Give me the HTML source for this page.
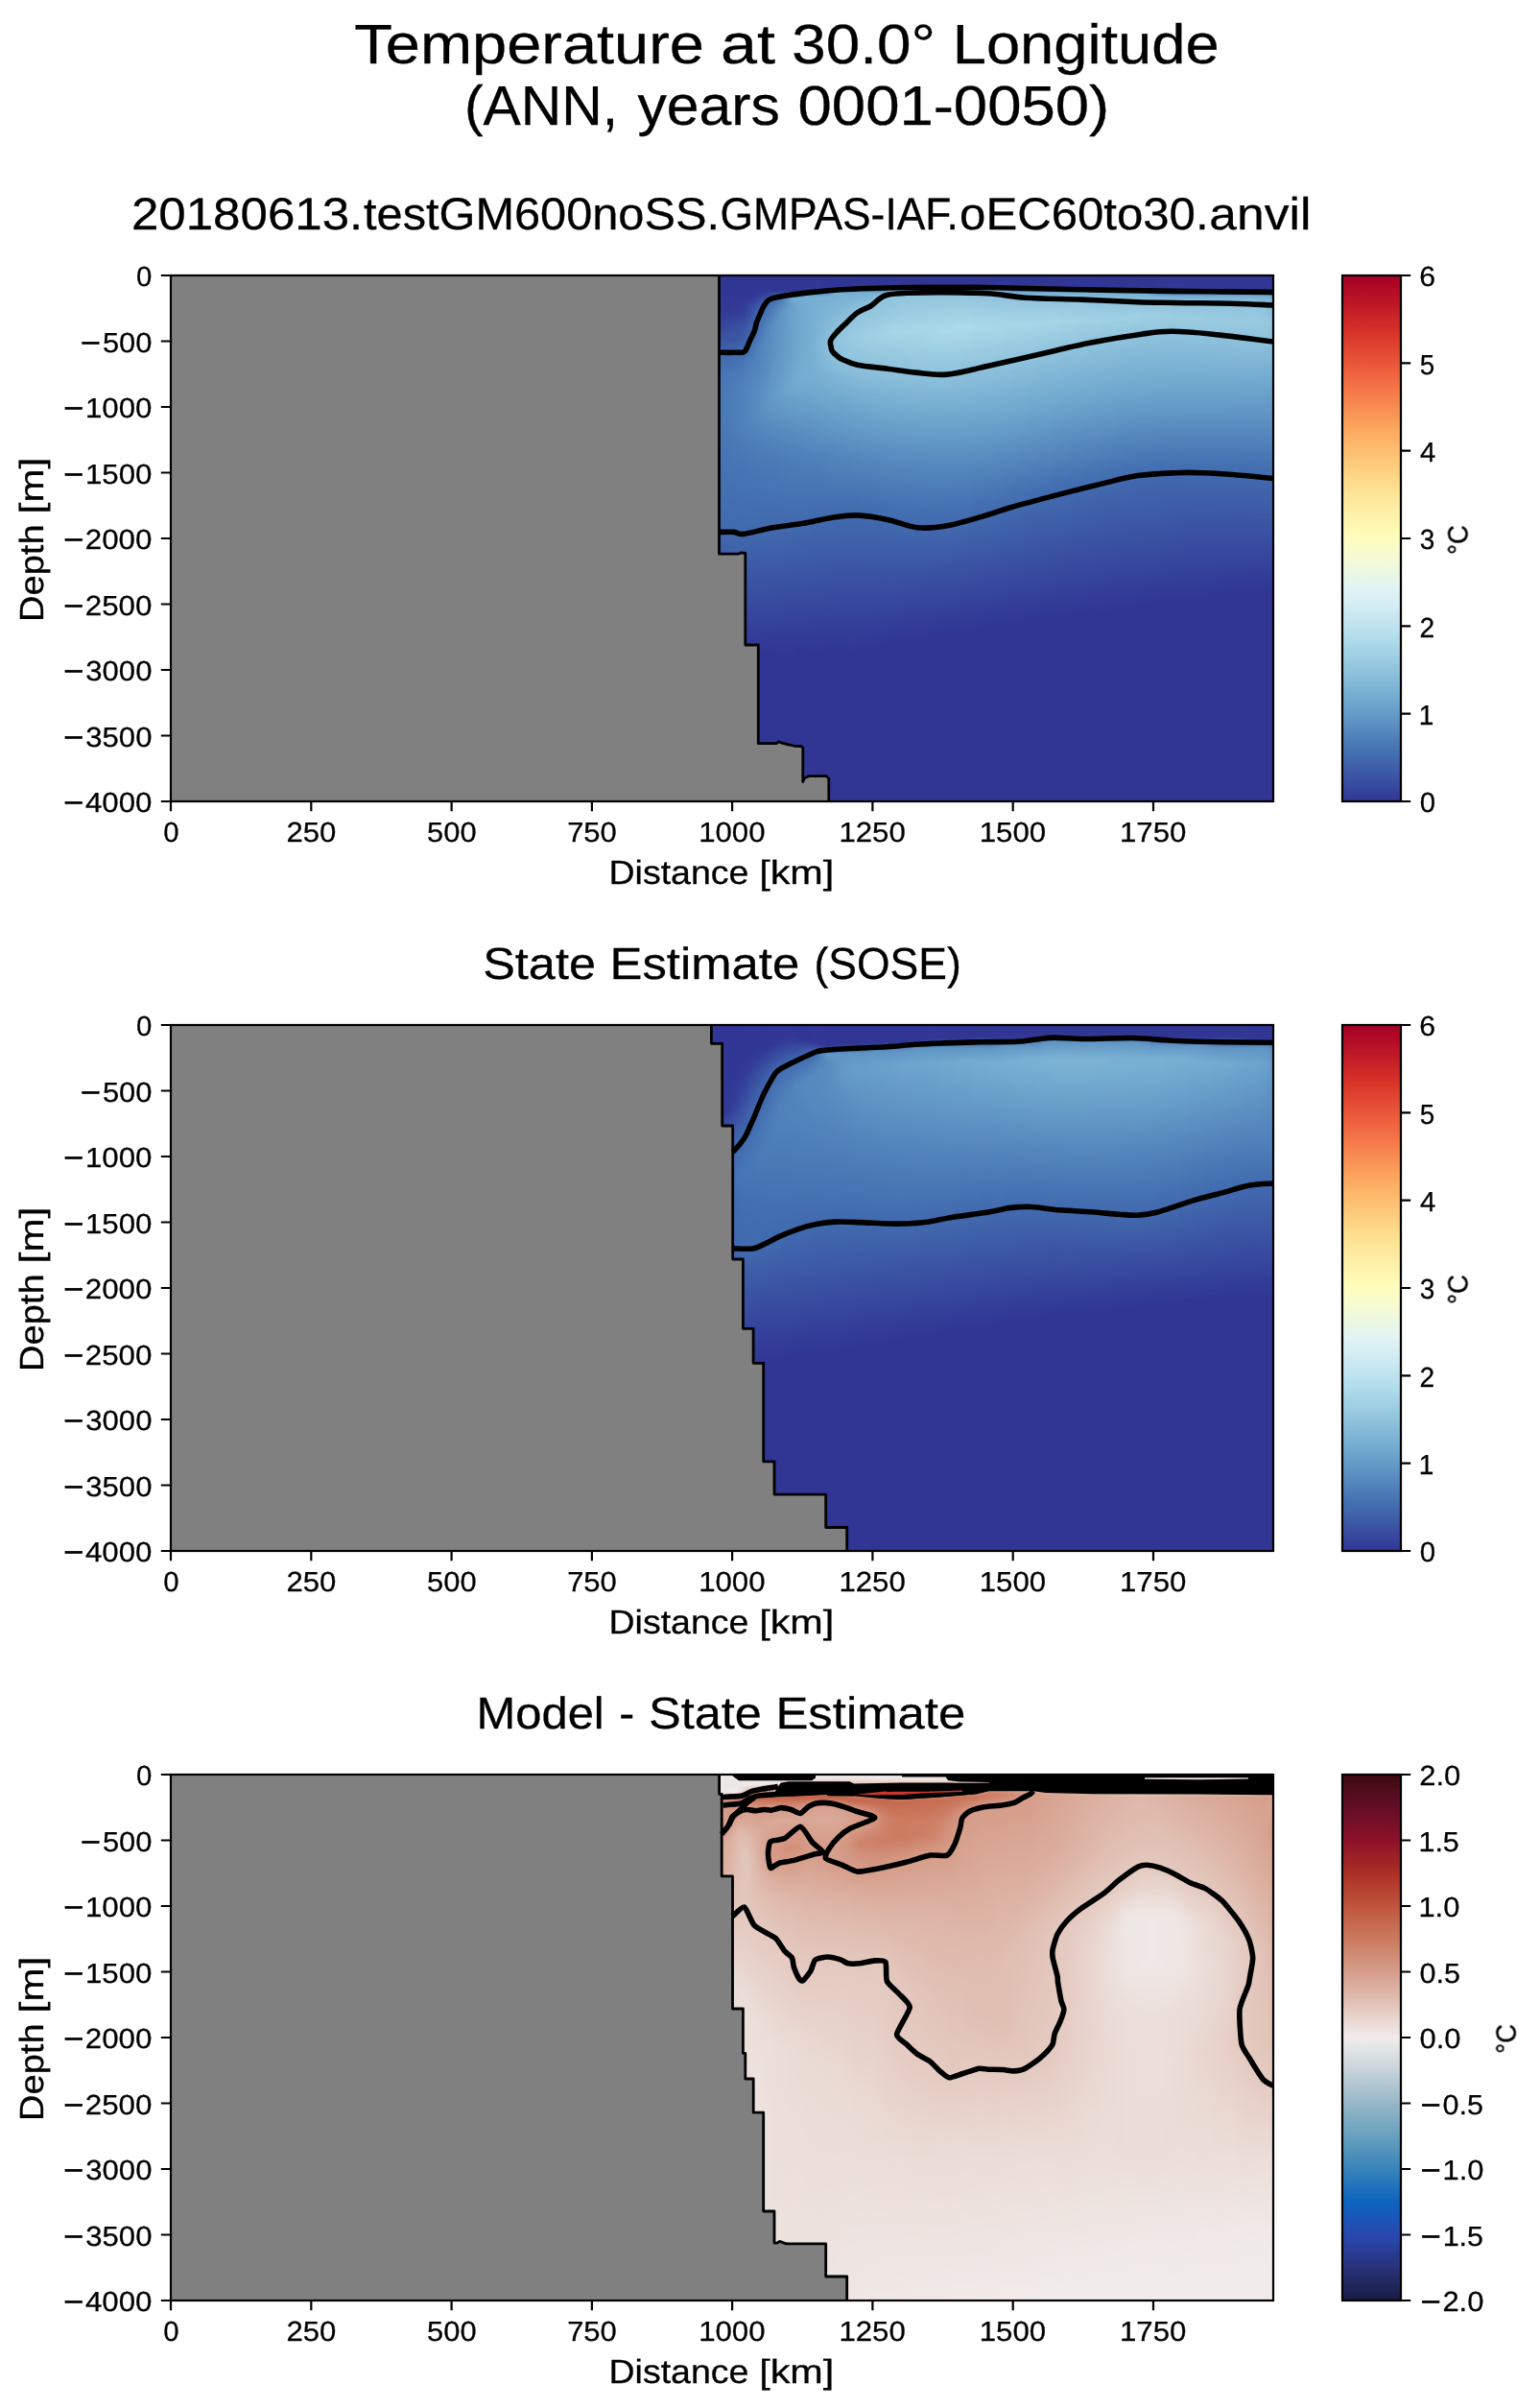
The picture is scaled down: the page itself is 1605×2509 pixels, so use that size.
<!DOCTYPE html>
<html><head><meta charset="utf-8"><title>Temperature at 30.0° Longitude</title><style>html,body{margin:0;padding:0;background:#fff}svg{display:block}text{font-family:"Liberation Sans",sans-serif}</style></head>
<body>
<svg width="1605" height="2509" viewBox="0 0 1605 2509"><defs><filter id="hb" x="-2%" y="0" width="104%" height="100%" color-interpolation-filters="sRGB"><feGaussianBlur stdDeviation="3.5 0"/></filter><clipPath id="clip0"><rect x="178.0" y="287.0" width="1149.0" height="548.0"/></clipPath><linearGradient id="g0_0" x1="0" y1="0" x2="0" y2="1"><stop offset="0.0000" stop-color="#313695"/><stop offset="0.0766" stop-color="#323896"/><stop offset="0.1131" stop-color="#394fa1"/><stop offset="0.1533" stop-color="#4065ac"/><stop offset="0.2080" stop-color="#4574b3"/><stop offset="0.2774" stop-color="#4878b6"/><stop offset="0.3613" stop-color="#4574b3"/><stop offset="0.3832" stop-color="#4471b2"/><stop offset="0.4234" stop-color="#436fb1"/><stop offset="0.4453" stop-color="#426cb0"/><stop offset="0.5620" stop-color="#3c59a6"/><stop offset="0.6277" stop-color="#374a9f"/><stop offset="0.7263" stop-color="#313695"/><stop offset="1.0000" stop-color="#313695"/></linearGradient><linearGradient id="g0_1" x1="0" y1="0" x2="0" y2="1"><stop offset="0.0000" stop-color="#313695"/><stop offset="0.0730" stop-color="#323896"/><stop offset="0.1460" stop-color="#3f62ab"/><stop offset="0.1898" stop-color="#4471b2"/><stop offset="0.2482" stop-color="#4878b6"/><stop offset="0.3613" stop-color="#4574b3"/><stop offset="0.3832" stop-color="#4471b2"/><stop offset="0.4234" stop-color="#436fb1"/><stop offset="0.4453" stop-color="#426cb0"/><stop offset="0.5146" stop-color="#3f62ab"/><stop offset="0.6971" stop-color="#333b97"/><stop offset="0.7409" stop-color="#313695"/><stop offset="1.0000" stop-color="#313695"/></linearGradient><linearGradient id="g0_2" x1="0" y1="0" x2="0" y2="1"><stop offset="0.0000" stop-color="#313695"/><stop offset="0.0730" stop-color="#323896"/><stop offset="0.1387" stop-color="#3e60aa"/><stop offset="0.1971" stop-color="#4574b3"/><stop offset="0.2628" stop-color="#4878b6"/><stop offset="0.3613" stop-color="#4574b3"/><stop offset="0.3832" stop-color="#4471b2"/><stop offset="0.4270" stop-color="#436fb1"/><stop offset="0.4489" stop-color="#426cb0"/><stop offset="0.5146" stop-color="#3f62ab"/><stop offset="0.6971" stop-color="#333b97"/><stop offset="0.7336" stop-color="#313695"/><stop offset="1.0000" stop-color="#313695"/></linearGradient><linearGradient id="g0_3" x1="0" y1="0" x2="0" y2="1"><stop offset="0.0000" stop-color="#313695"/><stop offset="0.0693" stop-color="#323896"/><stop offset="0.1606" stop-color="#426cb0"/><stop offset="0.1971" stop-color="#4676b5"/><stop offset="0.2591" stop-color="#4a7ab7"/><stop offset="0.3613" stop-color="#4574b3"/><stop offset="0.3832" stop-color="#4471b2"/><stop offset="0.4270" stop-color="#436fb1"/><stop offset="0.4489" stop-color="#426cb0"/><stop offset="0.5073" stop-color="#4065ac"/><stop offset="0.6277" stop-color="#374a9f"/><stop offset="0.7226" stop-color="#313695"/><stop offset="1.0000" stop-color="#313695"/></linearGradient><linearGradient id="g0_4" x1="0" y1="0" x2="0" y2="1"><stop offset="0.0000" stop-color="#313695"/><stop offset="0.0657" stop-color="#323896"/><stop offset="0.1241" stop-color="#3b56a5"/><stop offset="0.1496" stop-color="#416aaf"/><stop offset="0.1861" stop-color="#4676b5"/><stop offset="0.2628" stop-color="#4a7ab7"/><stop offset="0.3577" stop-color="#4574b3"/><stop offset="0.4307" stop-color="#436fb1"/><stop offset="0.4526" stop-color="#426cb0"/><stop offset="0.4891" stop-color="#416aaf"/><stop offset="0.5255" stop-color="#3e60aa"/><stop offset="0.6277" stop-color="#374a9f"/><stop offset="0.7190" stop-color="#313695"/><stop offset="1.0000" stop-color="#313695"/></linearGradient><linearGradient id="g0_5" x1="0" y1="0" x2="0" y2="1"><stop offset="0.0000" stop-color="#313695"/><stop offset="0.0657" stop-color="#323896"/><stop offset="0.1095" stop-color="#3a51a2"/><stop offset="0.1241" stop-color="#3b56a5"/><stop offset="0.1533" stop-color="#426cb0"/><stop offset="0.1861" stop-color="#4878b6"/><stop offset="0.2445" stop-color="#4b7db8"/><stop offset="0.2701" stop-color="#4b7db8"/><stop offset="0.3066" stop-color="#4878b6"/><stop offset="0.3723" stop-color="#4574b3"/><stop offset="0.3942" stop-color="#4471b2"/><stop offset="0.4343" stop-color="#436fb1"/><stop offset="0.4562" stop-color="#426cb0"/><stop offset="0.5000" stop-color="#4167ad"/><stop offset="0.5365" stop-color="#3e5ea8"/><stop offset="0.6496" stop-color="#36459c"/><stop offset="0.7226" stop-color="#313695"/><stop offset="1.0000" stop-color="#313695"/></linearGradient><linearGradient id="g0_6" x1="0" y1="0" x2="0" y2="1"><stop offset="0.0000" stop-color="#313695"/><stop offset="0.0620" stop-color="#323896"/><stop offset="0.1058" stop-color="#3a51a2"/><stop offset="0.1204" stop-color="#3a54a4"/><stop offset="0.1606" stop-color="#4471b2"/><stop offset="0.2044" stop-color="#4b7db8"/><stop offset="0.2920" stop-color="#4b7db8"/><stop offset="0.3285" stop-color="#4878b6"/><stop offset="0.3832" stop-color="#4574b3"/><stop offset="0.4051" stop-color="#4471b2"/><stop offset="0.4891" stop-color="#416aaf"/><stop offset="0.6496" stop-color="#36459c"/><stop offset="0.7226" stop-color="#313695"/><stop offset="1.0000" stop-color="#313695"/></linearGradient><linearGradient id="g0_7" x1="0" y1="0" x2="0" y2="1"><stop offset="0.0000" stop-color="#313695"/><stop offset="0.0547" stop-color="#323896"/><stop offset="0.0803" stop-color="#35429b"/><stop offset="0.1022" stop-color="#3a54a4"/><stop offset="0.1204" stop-color="#3a54a4"/><stop offset="0.1314" stop-color="#3e60aa"/><stop offset="0.1496" stop-color="#416aaf"/><stop offset="0.1642" stop-color="#4574b3"/><stop offset="0.2007" stop-color="#4d7fb9"/><stop offset="0.2920" stop-color="#4d7fb9"/><stop offset="0.3577" stop-color="#4676b5"/><stop offset="0.4380" stop-color="#436fb1"/><stop offset="0.4599" stop-color="#426cb0"/><stop offset="0.5000" stop-color="#4167ad"/><stop offset="0.6715" stop-color="#34409a"/><stop offset="0.7226" stop-color="#313695"/><stop offset="1.0000" stop-color="#313695"/></linearGradient><linearGradient id="g0_8" x1="0" y1="0" x2="0" y2="1"><stop offset="0.0000" stop-color="#313695"/><stop offset="0.0474" stop-color="#323896"/><stop offset="0.0657" stop-color="#35429b"/><stop offset="0.0766" stop-color="#34409a"/><stop offset="0.0912" stop-color="#3a54a4"/><stop offset="0.1204" stop-color="#3f62ab"/><stop offset="0.1496" stop-color="#436fb1"/><stop offset="0.1606" stop-color="#4878b6"/><stop offset="0.2153" stop-color="#5183bb"/><stop offset="0.2810" stop-color="#5183bb"/><stop offset="0.3613" stop-color="#4676b5"/><stop offset="0.4416" stop-color="#436fb1"/><stop offset="0.4635" stop-color="#426cb0"/><stop offset="0.5000" stop-color="#4167ad"/><stop offset="0.6715" stop-color="#34409a"/><stop offset="0.7226" stop-color="#313695"/><stop offset="1.0000" stop-color="#313695"/></linearGradient><linearGradient id="g0_9" x1="0" y1="0" x2="0" y2="1"><stop offset="0.0000" stop-color="#313695"/><stop offset="0.0401" stop-color="#313695"/><stop offset="0.0584" stop-color="#374a9f"/><stop offset="0.1095" stop-color="#4167ad"/><stop offset="0.1460" stop-color="#4878b6"/><stop offset="0.1752" stop-color="#4f81ba"/><stop offset="0.2263" stop-color="#5588be"/><stop offset="0.2701" stop-color="#5588be"/><stop offset="0.3504" stop-color="#4878b6"/><stop offset="0.4453" stop-color="#436fb1"/><stop offset="0.4818" stop-color="#416aaf"/><stop offset="0.6934" stop-color="#333b97"/><stop offset="0.7299" stop-color="#313695"/><stop offset="1.0000" stop-color="#313695"/></linearGradient><linearGradient id="g0_10" x1="0" y1="0" x2="0" y2="1"><stop offset="0.0000" stop-color="#313695"/><stop offset="0.0365" stop-color="#323896"/><stop offset="0.0620" stop-color="#3c59a6"/><stop offset="0.0876" stop-color="#416aaf"/><stop offset="0.1022" stop-color="#426cb0"/><stop offset="0.1277" stop-color="#4a7ab7"/><stop offset="0.1496" stop-color="#5183bb"/><stop offset="0.1788" stop-color="#5385bd"/><stop offset="0.2299" stop-color="#588cc0"/><stop offset="0.2737" stop-color="#578abf"/><stop offset="0.3285" stop-color="#4b7db8"/><stop offset="0.3796" stop-color="#4676b5"/><stop offset="0.4891" stop-color="#416aaf"/><stop offset="0.5255" stop-color="#3e60aa"/><stop offset="0.7153" stop-color="#313695"/><stop offset="1.0000" stop-color="#313695"/></linearGradient><linearGradient id="g0_11" x1="0" y1="0" x2="0" y2="1"><stop offset="0.0000" stop-color="#313695"/><stop offset="0.0328" stop-color="#323896"/><stop offset="0.0511" stop-color="#3d5ba7"/><stop offset="0.0620" stop-color="#416aaf"/><stop offset="0.1168" stop-color="#4f81ba"/><stop offset="0.1314" stop-color="#5588be"/><stop offset="0.1460" stop-color="#5385bd"/><stop offset="0.2263" stop-color="#5c90c2"/><stop offset="0.2518" stop-color="#5e93c3"/><stop offset="0.3139" stop-color="#4f81ba"/><stop offset="0.3650" stop-color="#4878b6"/><stop offset="0.4964" stop-color="#4167ad"/><stop offset="0.7153" stop-color="#313695"/><stop offset="1.0000" stop-color="#313695"/></linearGradient><linearGradient id="g0_12" x1="0" y1="0" x2="0" y2="1"><stop offset="0.0000" stop-color="#313695"/><stop offset="0.0292" stop-color="#313695"/><stop offset="0.0365" stop-color="#36479e"/><stop offset="0.0438" stop-color="#3e5ea8"/><stop offset="0.0547" stop-color="#436fb1"/><stop offset="0.0985" stop-color="#5588be"/><stop offset="0.1131" stop-color="#578abf"/><stop offset="0.1825" stop-color="#5c90c2"/><stop offset="0.2190" stop-color="#6095c4"/><stop offset="0.2518" stop-color="#6095c4"/><stop offset="0.3285" stop-color="#4d7fb9"/><stop offset="0.3686" stop-color="#4878b6"/><stop offset="0.4964" stop-color="#4167ad"/><stop offset="0.6241" stop-color="#374a9f"/><stop offset="0.7153" stop-color="#313695"/><stop offset="1.0000" stop-color="#313695"/></linearGradient><linearGradient id="g0_13" x1="0" y1="0" x2="0" y2="1"><stop offset="0.0000" stop-color="#313695"/><stop offset="0.0292" stop-color="#313695"/><stop offset="0.0438" stop-color="#416aaf"/><stop offset="0.0657" stop-color="#4f81ba"/><stop offset="0.0876" stop-color="#5c90c2"/><stop offset="0.1387" stop-color="#5c90c2"/><stop offset="0.1752" stop-color="#6095c4"/><stop offset="0.2336" stop-color="#659bc8"/><stop offset="0.3504" stop-color="#4a7ab7"/><stop offset="0.4453" stop-color="#436fb1"/><stop offset="0.5036" stop-color="#4065ac"/><stop offset="0.6460" stop-color="#36459c"/><stop offset="0.7190" stop-color="#313695"/><stop offset="1.0000" stop-color="#313695"/></linearGradient><linearGradient id="g0_14" x1="0" y1="0" x2="0" y2="1"><stop offset="0.0000" stop-color="#313695"/><stop offset="0.0292" stop-color="#323896"/><stop offset="0.0365" stop-color="#3e5ea8"/><stop offset="0.0401" stop-color="#426cb0"/><stop offset="0.0584" stop-color="#5588be"/><stop offset="0.0730" stop-color="#6095c4"/><stop offset="0.1715" stop-color="#6399c7"/><stop offset="0.2263" stop-color="#69a0ca"/><stop offset="0.2883" stop-color="#588cc0"/><stop offset="0.3577" stop-color="#4a7ab7"/><stop offset="0.5036" stop-color="#4065ac"/><stop offset="0.6679" stop-color="#34409a"/><stop offset="0.7190" stop-color="#313695"/><stop offset="1.0000" stop-color="#313695"/></linearGradient><linearGradient id="g0_15" x1="0" y1="0" x2="0" y2="1"><stop offset="0.0000" stop-color="#313695"/><stop offset="0.0292" stop-color="#313695"/><stop offset="0.0328" stop-color="#333d99"/><stop offset="0.0401" stop-color="#4574b3"/><stop offset="0.0438" stop-color="#578abf"/><stop offset="0.0657" stop-color="#6399c7"/><stop offset="0.1423" stop-color="#659bc8"/><stop offset="0.1788" stop-color="#69a0ca"/><stop offset="0.2190" stop-color="#6da4cc"/><stop offset="0.3394" stop-color="#4d7fb9"/><stop offset="0.4745" stop-color="#416aaf"/><stop offset="0.6898" stop-color="#333b97"/><stop offset="0.7263" stop-color="#313695"/><stop offset="1.0000" stop-color="#313695"/></linearGradient><linearGradient id="g0_16" x1="0" y1="0" x2="0" y2="1"><stop offset="0.0000" stop-color="#313695"/><stop offset="0.0328" stop-color="#313695"/><stop offset="0.0365" stop-color="#3a51a2"/><stop offset="0.0401" stop-color="#5183bb"/><stop offset="0.0438" stop-color="#76afd2"/><stop offset="0.0547" stop-color="#6ba2cb"/><stop offset="0.1606" stop-color="#6ba2cb"/><stop offset="0.2080" stop-color="#70a9cf"/><stop offset="0.3029" stop-color="#578abf"/><stop offset="0.3577" stop-color="#4b7db8"/><stop offset="0.4745" stop-color="#416aaf"/><stop offset="0.5985" stop-color="#394fa1"/><stop offset="0.6898" stop-color="#333b97"/><stop offset="0.7263" stop-color="#313695"/><stop offset="1.0000" stop-color="#313695"/></linearGradient><linearGradient id="g0_17" x1="0" y1="0" x2="0" y2="1"><stop offset="0.0000" stop-color="#313695"/><stop offset="0.0328" stop-color="#313695"/><stop offset="0.0365" stop-color="#3e60aa"/><stop offset="0.0401" stop-color="#5a8ec1"/><stop offset="0.0438" stop-color="#76afd2"/><stop offset="0.0620" stop-color="#6da4cc"/><stop offset="0.1569" stop-color="#6ea6ce"/><stop offset="0.1971" stop-color="#74add1"/><stop offset="0.3467" stop-color="#4d7fb9"/><stop offset="0.4453" stop-color="#436fb1"/><stop offset="0.5985" stop-color="#394fa1"/><stop offset="0.7117" stop-color="#313695"/><stop offset="1.0000" stop-color="#313695"/></linearGradient><linearGradient id="g0_18" x1="0" y1="0" x2="0" y2="1"><stop offset="0.0000" stop-color="#313695"/><stop offset="0.0292" stop-color="#313695"/><stop offset="0.0328" stop-color="#3b56a5"/><stop offset="0.0365" stop-color="#5e93c3"/><stop offset="0.0401" stop-color="#74add1"/><stop offset="0.1058" stop-color="#70a9cf"/><stop offset="0.1825" stop-color="#76afd2"/><stop offset="0.2007" stop-color="#74add1"/><stop offset="0.3175" stop-color="#5588be"/><stop offset="0.3650" stop-color="#4b7db8"/><stop offset="0.4964" stop-color="#4065ac"/><stop offset="0.6423" stop-color="#36459c"/><stop offset="0.7153" stop-color="#313695"/><stop offset="1.0000" stop-color="#313695"/></linearGradient><linearGradient id="g0_19" x1="0" y1="0" x2="0" y2="1"><stop offset="0.0000" stop-color="#313695"/><stop offset="0.0292" stop-color="#323896"/><stop offset="0.0328" stop-color="#416aaf"/><stop offset="0.0365" stop-color="#6297c6"/><stop offset="0.0401" stop-color="#76afd2"/><stop offset="0.2007" stop-color="#74add1"/><stop offset="0.3540" stop-color="#4d7fb9"/><stop offset="0.4708" stop-color="#416aaf"/><stop offset="0.6423" stop-color="#36459c"/><stop offset="0.7153" stop-color="#313695"/><stop offset="1.0000" stop-color="#313695"/></linearGradient><linearGradient id="g0_20" x1="0" y1="0" x2="0" y2="1"><stop offset="0.0000" stop-color="#313695"/><stop offset="0.0292" stop-color="#323896"/><stop offset="0.0328" stop-color="#416aaf"/><stop offset="0.0365" stop-color="#6297c6"/><stop offset="0.0401" stop-color="#76afd2"/><stop offset="0.1168" stop-color="#7ab2d4"/><stop offset="0.1387" stop-color="#7db4d5"/><stop offset="0.2044" stop-color="#74add1"/><stop offset="0.3577" stop-color="#4d7fb9"/><stop offset="0.4745" stop-color="#4167ad"/><stop offset="0.5511" stop-color="#3c59a6"/><stop offset="0.6642" stop-color="#34409a"/><stop offset="0.7153" stop-color="#313695"/><stop offset="1.0000" stop-color="#313695"/></linearGradient><linearGradient id="g0_21" x1="0" y1="0" x2="0" y2="1"><stop offset="0.0000" stop-color="#313695"/><stop offset="0.0292" stop-color="#323896"/><stop offset="0.0328" stop-color="#426cb0"/><stop offset="0.0365" stop-color="#6399c7"/><stop offset="0.0401" stop-color="#76afd2"/><stop offset="0.1277" stop-color="#81b7d7"/><stop offset="0.1642" stop-color="#7fb6d6"/><stop offset="0.2263" stop-color="#70a9cf"/><stop offset="0.3504" stop-color="#4f81ba"/><stop offset="0.4526" stop-color="#426cb0"/><stop offset="0.5730" stop-color="#3a54a4"/><stop offset="0.6861" stop-color="#333b97"/><stop offset="0.7226" stop-color="#313695"/><stop offset="1.0000" stop-color="#313695"/></linearGradient><linearGradient id="g0_22" x1="0" y1="0" x2="0" y2="1"><stop offset="0.0000" stop-color="#313695"/><stop offset="0.0255" stop-color="#313695"/><stop offset="0.0292" stop-color="#34409a"/><stop offset="0.0328" stop-color="#4b7db8"/><stop offset="0.0365" stop-color="#679ec9"/><stop offset="0.0401" stop-color="#76afd2"/><stop offset="0.1241" stop-color="#87bdd9"/><stop offset="0.1642" stop-color="#83b9d8"/><stop offset="0.2555" stop-color="#69a0ca"/><stop offset="0.3540" stop-color="#4f81ba"/><stop offset="0.4307" stop-color="#4471b2"/><stop offset="0.5949" stop-color="#394fa1"/><stop offset="0.7080" stop-color="#313695"/><stop offset="1.0000" stop-color="#313695"/></linearGradient><linearGradient id="g0_23" x1="0" y1="0" x2="0" y2="1"><stop offset="0.0000" stop-color="#313695"/><stop offset="0.0219" stop-color="#313695"/><stop offset="0.0255" stop-color="#394fa1"/><stop offset="0.0292" stop-color="#4d7fb9"/><stop offset="0.0328" stop-color="#76afd2"/><stop offset="0.1022" stop-color="#8abeda"/><stop offset="0.1241" stop-color="#90c3dd"/><stop offset="0.1496" stop-color="#8ec2dc"/><stop offset="0.1788" stop-color="#81b7d7"/><stop offset="0.2336" stop-color="#70a9cf"/><stop offset="0.3321" stop-color="#5588be"/><stop offset="0.4343" stop-color="#436fb1"/><stop offset="0.5730" stop-color="#3a54a4"/><stop offset="0.6387" stop-color="#36459c"/><stop offset="0.7117" stop-color="#313695"/><stop offset="1.0000" stop-color="#313695"/></linearGradient><linearGradient id="g0_24" x1="0" y1="0" x2="0" y2="1"><stop offset="0.0000" stop-color="#313695"/><stop offset="0.0219" stop-color="#313695"/><stop offset="0.0255" stop-color="#3a51a2"/><stop offset="0.0292" stop-color="#4f81ba"/><stop offset="0.0328" stop-color="#76afd2"/><stop offset="0.1095" stop-color="#90c3dd"/><stop offset="0.1569" stop-color="#8ec2dc"/><stop offset="0.2409" stop-color="#6ea6ce"/><stop offset="0.3613" stop-color="#4f81ba"/><stop offset="0.4416" stop-color="#436fb1"/><stop offset="0.4854" stop-color="#4065ac"/><stop offset="0.6387" stop-color="#36459c"/><stop offset="0.7117" stop-color="#313695"/><stop offset="1.0000" stop-color="#313695"/></linearGradient><linearGradient id="g0_25" x1="0" y1="0" x2="0" y2="1"><stop offset="0.0000" stop-color="#313695"/><stop offset="0.0219" stop-color="#313695"/><stop offset="0.0255" stop-color="#3a51a2"/><stop offset="0.0292" stop-color="#4f81ba"/><stop offset="0.0328" stop-color="#76afd2"/><stop offset="0.0949" stop-color="#90c3dd"/><stop offset="0.1277" stop-color="#92c5de"/><stop offset="0.1679" stop-color="#8cc0db"/><stop offset="0.2372" stop-color="#70a9cf"/><stop offset="0.3540" stop-color="#5183bb"/><stop offset="0.4489" stop-color="#426cb0"/><stop offset="0.5693" stop-color="#3a54a4"/><stop offset="0.6606" stop-color="#34409a"/><stop offset="0.7117" stop-color="#313695"/><stop offset="1.0000" stop-color="#313695"/></linearGradient><linearGradient id="g0_26" x1="0" y1="0" x2="0" y2="1"><stop offset="0.0000" stop-color="#313695"/><stop offset="0.0219" stop-color="#313695"/><stop offset="0.0255" stop-color="#3a51a2"/><stop offset="0.0292" stop-color="#4f81ba"/><stop offset="0.0328" stop-color="#76afd2"/><stop offset="0.0839" stop-color="#90c3dd"/><stop offset="0.1168" stop-color="#99cae1"/><stop offset="0.1241" stop-color="#99cae1"/><stop offset="0.1606" stop-color="#90c3dd"/><stop offset="0.2409" stop-color="#70a9cf"/><stop offset="0.3577" stop-color="#5183bb"/><stop offset="0.4453" stop-color="#426cb0"/><stop offset="0.5474" stop-color="#3c59a6"/><stop offset="0.5912" stop-color="#394fa1"/><stop offset="0.6825" stop-color="#333b97"/><stop offset="0.7190" stop-color="#313695"/><stop offset="1.0000" stop-color="#313695"/></linearGradient><linearGradient id="g0_27" x1="0" y1="0" x2="0" y2="1"><stop offset="0.0000" stop-color="#313695"/><stop offset="0.0219" stop-color="#313695"/><stop offset="0.0255" stop-color="#3a51a2"/><stop offset="0.0292" stop-color="#4f81ba"/><stop offset="0.0328" stop-color="#76afd2"/><stop offset="0.0730" stop-color="#90c3dd"/><stop offset="0.0985" stop-color="#94c7df"/><stop offset="0.1168" stop-color="#9bcce2"/><stop offset="0.1752" stop-color="#8cc0db"/><stop offset="0.2445" stop-color="#70a9cf"/><stop offset="0.3431" stop-color="#5588be"/><stop offset="0.4343" stop-color="#436fb1"/><stop offset="0.5912" stop-color="#394fa1"/><stop offset="0.6825" stop-color="#333b97"/><stop offset="0.7190" stop-color="#313695"/><stop offset="1.0000" stop-color="#313695"/></linearGradient><linearGradient id="g0_28" x1="0" y1="0" x2="0" y2="1"><stop offset="0.0000" stop-color="#313695"/><stop offset="0.0219" stop-color="#313695"/><stop offset="0.0255" stop-color="#3a51a2"/><stop offset="0.0292" stop-color="#4f81ba"/><stop offset="0.0328" stop-color="#76afd2"/><stop offset="0.0657" stop-color="#90c3dd"/><stop offset="0.0949" stop-color="#97c9e0"/><stop offset="0.1168" stop-color="#9dcee3"/><stop offset="0.1825" stop-color="#8abeda"/><stop offset="0.2555" stop-color="#6ea6ce"/><stop offset="0.3613" stop-color="#5183bb"/><stop offset="0.4562" stop-color="#416aaf"/><stop offset="0.5693" stop-color="#3a54a4"/><stop offset="0.6350" stop-color="#36459c"/><stop offset="0.7080" stop-color="#313695"/><stop offset="1.0000" stop-color="#313695"/></linearGradient><linearGradient id="g0_29" x1="0" y1="0" x2="0" y2="1"><stop offset="0.0000" stop-color="#313695"/><stop offset="0.0219" stop-color="#313695"/><stop offset="0.0255" stop-color="#3a51a2"/><stop offset="0.0292" stop-color="#4f81ba"/><stop offset="0.0328" stop-color="#76afd2"/><stop offset="0.0620" stop-color="#90c3dd"/><stop offset="0.0876" stop-color="#97c9e0"/><stop offset="0.1131" stop-color="#9fd0e4"/><stop offset="0.1861" stop-color="#8abeda"/><stop offset="0.2555" stop-color="#6ea6ce"/><stop offset="0.3723" stop-color="#4f81ba"/><stop offset="0.4416" stop-color="#436fb1"/><stop offset="0.4854" stop-color="#4065ac"/><stop offset="0.6569" stop-color="#34409a"/><stop offset="0.7080" stop-color="#313695"/><stop offset="1.0000" stop-color="#313695"/></linearGradient><linearGradient id="g0_30" x1="0" y1="0" x2="0" y2="1"><stop offset="0.0000" stop-color="#313695"/><stop offset="0.0219" stop-color="#313695"/><stop offset="0.0255" stop-color="#3a51a2"/><stop offset="0.0292" stop-color="#4f81ba"/><stop offset="0.0328" stop-color="#76afd2"/><stop offset="0.0511" stop-color="#8cc0db"/><stop offset="0.0584" stop-color="#90c3dd"/><stop offset="0.1131" stop-color="#9fd0e4"/><stop offset="0.1825" stop-color="#8cc0db"/><stop offset="0.2518" stop-color="#70a9cf"/><stop offset="0.3577" stop-color="#5385bd"/><stop offset="0.4489" stop-color="#426cb0"/><stop offset="0.5912" stop-color="#394fa1"/><stop offset="0.6788" stop-color="#333b97"/><stop offset="0.7153" stop-color="#313695"/><stop offset="1.0000" stop-color="#313695"/></linearGradient><linearGradient id="g0_31" x1="0" y1="0" x2="0" y2="1"><stop offset="0.0000" stop-color="#313695"/><stop offset="0.0219" stop-color="#313695"/><stop offset="0.0255" stop-color="#3a51a2"/><stop offset="0.0292" stop-color="#4f81ba"/><stop offset="0.0328" stop-color="#76afd2"/><stop offset="0.0438" stop-color="#90c3dd"/><stop offset="0.0693" stop-color="#94c7df"/><stop offset="0.1131" stop-color="#a1d1e5"/><stop offset="0.1825" stop-color="#8cc0db"/><stop offset="0.2555" stop-color="#70a9cf"/><stop offset="0.3431" stop-color="#578abf"/><stop offset="0.4416" stop-color="#436fb1"/><stop offset="0.4854" stop-color="#4065ac"/><stop offset="0.7007" stop-color="#313695"/><stop offset="1.0000" stop-color="#313695"/></linearGradient><linearGradient id="g0_32" x1="0" y1="0" x2="0" y2="1"><stop offset="0.0000" stop-color="#313695"/><stop offset="0.0219" stop-color="#313695"/><stop offset="0.0255" stop-color="#3b56a5"/><stop offset="0.0292" stop-color="#5385bd"/><stop offset="0.0328" stop-color="#76afd2"/><stop offset="0.0365" stop-color="#87bdd9"/><stop offset="0.0401" stop-color="#90c3dd"/><stop offset="0.0657" stop-color="#94c7df"/><stop offset="0.1095" stop-color="#a3d3e6"/><stop offset="0.1898" stop-color="#8abeda"/><stop offset="0.2628" stop-color="#6ea6ce"/><stop offset="0.3613" stop-color="#5385bd"/><stop offset="0.4416" stop-color="#436fb1"/><stop offset="0.6533" stop-color="#34409a"/><stop offset="0.7044" stop-color="#313695"/><stop offset="1.0000" stop-color="#313695"/></linearGradient><linearGradient id="g0_33" x1="0" y1="0" x2="0" y2="1"><stop offset="0.0000" stop-color="#313695"/><stop offset="0.0182" stop-color="#313695"/><stop offset="0.0219" stop-color="#3a51a2"/><stop offset="0.0255" stop-color="#5c90c2"/><stop offset="0.0292" stop-color="#78b0d3"/><stop offset="0.0401" stop-color="#90c3dd"/><stop offset="0.0730" stop-color="#99cae1"/><stop offset="0.1095" stop-color="#a3d3e6"/><stop offset="0.1934" stop-color="#8abeda"/><stop offset="0.2591" stop-color="#70a9cf"/><stop offset="0.3467" stop-color="#578abf"/><stop offset="0.4380" stop-color="#4471b2"/><stop offset="0.4891" stop-color="#4065ac"/><stop offset="0.6971" stop-color="#313695"/><stop offset="1.0000" stop-color="#313695"/></linearGradient><linearGradient id="g0_34" x1="0" y1="0" x2="0" y2="1"><stop offset="0.0000" stop-color="#313695"/><stop offset="0.0182" stop-color="#313695"/><stop offset="0.0219" stop-color="#3f62ab"/><stop offset="0.0255" stop-color="#6095c4"/><stop offset="0.0292" stop-color="#7fb6d6"/><stop offset="0.0328" stop-color="#90c3dd"/><stop offset="0.0584" stop-color="#94c7df"/><stop offset="0.1058" stop-color="#a6d5e7"/><stop offset="0.1934" stop-color="#8abeda"/><stop offset="0.2664" stop-color="#6ea6ce"/><stop offset="0.3723" stop-color="#5183bb"/><stop offset="0.4489" stop-color="#436fb1"/><stop offset="0.6971" stop-color="#313695"/><stop offset="1.0000" stop-color="#313695"/></linearGradient><linearGradient id="g0_35" x1="0" y1="0" x2="0" y2="1"><stop offset="0.0000" stop-color="#313695"/><stop offset="0.0182" stop-color="#313695"/><stop offset="0.0219" stop-color="#3f62ab"/><stop offset="0.0255" stop-color="#6095c4"/><stop offset="0.0292" stop-color="#7fb6d6"/><stop offset="0.0328" stop-color="#90c3dd"/><stop offset="0.0657" stop-color="#99cae1"/><stop offset="0.1058" stop-color="#a6d5e7"/><stop offset="0.2007" stop-color="#87bdd9"/><stop offset="0.2737" stop-color="#6da4cc"/><stop offset="0.3577" stop-color="#5588be"/><stop offset="0.4489" stop-color="#436fb1"/><stop offset="0.6277" stop-color="#36459c"/><stop offset="0.6934" stop-color="#313695"/><stop offset="1.0000" stop-color="#313695"/></linearGradient><linearGradient id="g0_36" x1="0" y1="0" x2="0" y2="1"><stop offset="0.0000" stop-color="#313695"/><stop offset="0.0182" stop-color="#313695"/><stop offset="0.0219" stop-color="#3f62ab"/><stop offset="0.0255" stop-color="#6297c6"/><stop offset="0.0292" stop-color="#7fb6d6"/><stop offset="0.0328" stop-color="#90c3dd"/><stop offset="0.0949" stop-color="#a3d3e6"/><stop offset="0.1095" stop-color="#a6d5e7"/><stop offset="0.2007" stop-color="#87bdd9"/><stop offset="0.2628" stop-color="#70a9cf"/><stop offset="0.3504" stop-color="#578abf"/><stop offset="0.4489" stop-color="#436fb1"/><stop offset="0.6058" stop-color="#374a9f"/><stop offset="0.6934" stop-color="#313695"/><stop offset="1.0000" stop-color="#313695"/></linearGradient><linearGradient id="g0_37" x1="0" y1="0" x2="0" y2="1"><stop offset="0.0000" stop-color="#313695"/><stop offset="0.0182" stop-color="#313695"/><stop offset="0.0219" stop-color="#3f62ab"/><stop offset="0.0255" stop-color="#6095c4"/><stop offset="0.0292" stop-color="#7fb6d6"/><stop offset="0.0328" stop-color="#90c3dd"/><stop offset="0.1058" stop-color="#a8d6e8"/><stop offset="0.1825" stop-color="#90c3dd"/><stop offset="0.2628" stop-color="#70a9cf"/><stop offset="0.3577" stop-color="#5588be"/><stop offset="0.4453" stop-color="#4471b2"/><stop offset="0.6241" stop-color="#36459c"/><stop offset="0.6971" stop-color="#313695"/><stop offset="1.0000" stop-color="#313695"/></linearGradient><linearGradient id="g0_38" x1="0" y1="0" x2="0" y2="1"><stop offset="0.0000" stop-color="#313695"/><stop offset="0.0182" stop-color="#313695"/><stop offset="0.0219" stop-color="#3f62ab"/><stop offset="0.0255" stop-color="#6095c4"/><stop offset="0.0292" stop-color="#7fb6d6"/><stop offset="0.0328" stop-color="#90c3dd"/><stop offset="0.1058" stop-color="#a8d6e8"/><stop offset="0.1825" stop-color="#90c3dd"/><stop offset="0.2810" stop-color="#6ba2cb"/><stop offset="0.3942" stop-color="#4d7fb9"/><stop offset="0.4635" stop-color="#426cb0"/><stop offset="0.4964" stop-color="#4065ac"/><stop offset="0.6423" stop-color="#34409a"/><stop offset="0.6934" stop-color="#313695"/><stop offset="1.0000" stop-color="#313695"/></linearGradient><linearGradient id="g0_39" x1="0" y1="0" x2="0" y2="1"><stop offset="0.0000" stop-color="#313695"/><stop offset="0.0182" stop-color="#313695"/><stop offset="0.0219" stop-color="#3f62ab"/><stop offset="0.0255" stop-color="#6095c4"/><stop offset="0.0292" stop-color="#7fb6d6"/><stop offset="0.0328" stop-color="#90c3dd"/><stop offset="0.1022" stop-color="#a8d6e8"/><stop offset="0.1752" stop-color="#92c5de"/><stop offset="0.2664" stop-color="#70a9cf"/><stop offset="0.3467" stop-color="#588cc0"/><stop offset="0.4526" stop-color="#436fb1"/><stop offset="0.6423" stop-color="#34409a"/><stop offset="0.6934" stop-color="#313695"/><stop offset="1.0000" stop-color="#313695"/></linearGradient><linearGradient id="g0_40" x1="0" y1="0" x2="0" y2="1"><stop offset="0.0000" stop-color="#313695"/><stop offset="0.0182" stop-color="#313695"/><stop offset="0.0219" stop-color="#3f62ab"/><stop offset="0.0255" stop-color="#6095c4"/><stop offset="0.0292" stop-color="#7fb6d6"/><stop offset="0.0328" stop-color="#90c3dd"/><stop offset="0.1058" stop-color="#aad8e9"/><stop offset="0.2007" stop-color="#8abeda"/><stop offset="0.2701" stop-color="#6ea6ce"/><stop offset="0.3869" stop-color="#4f81ba"/><stop offset="0.4708" stop-color="#416aaf"/><stop offset="0.6204" stop-color="#36459c"/><stop offset="0.6861" stop-color="#313695"/><stop offset="1.0000" stop-color="#313695"/></linearGradient><linearGradient id="g0_41" x1="0" y1="0" x2="0" y2="1"><stop offset="0.0000" stop-color="#313695"/><stop offset="0.0182" stop-color="#313695"/><stop offset="0.0219" stop-color="#3f62ab"/><stop offset="0.0255" stop-color="#6095c4"/><stop offset="0.0292" stop-color="#7fb6d6"/><stop offset="0.0328" stop-color="#90c3dd"/><stop offset="0.0949" stop-color="#a8d6e8"/><stop offset="0.1131" stop-color="#a8d6e8"/><stop offset="0.2044" stop-color="#87bdd9"/><stop offset="0.2664" stop-color="#70a9cf"/><stop offset="0.3540" stop-color="#578abf"/><stop offset="0.4453" stop-color="#4471b2"/><stop offset="0.5584" stop-color="#3a54a4"/><stop offset="0.6825" stop-color="#313695"/><stop offset="1.0000" stop-color="#313695"/></linearGradient><linearGradient id="g0_42" x1="0" y1="0" x2="0" y2="1"><stop offset="0.0000" stop-color="#313695"/><stop offset="0.0182" stop-color="#313695"/><stop offset="0.0219" stop-color="#3f62ab"/><stop offset="0.0255" stop-color="#6095c4"/><stop offset="0.0292" stop-color="#7fb6d6"/><stop offset="0.0328" stop-color="#90c3dd"/><stop offset="0.1058" stop-color="#acdae9"/><stop offset="0.1533" stop-color="#99cae1"/><stop offset="0.2007" stop-color="#8abeda"/><stop offset="0.2664" stop-color="#70a9cf"/><stop offset="0.3540" stop-color="#578abf"/><stop offset="0.4453" stop-color="#4471b2"/><stop offset="0.5766" stop-color="#394fa1"/><stop offset="0.6825" stop-color="#313695"/><stop offset="1.0000" stop-color="#313695"/></linearGradient><linearGradient id="g0_43" x1="0" y1="0" x2="0" y2="1"><stop offset="0.0000" stop-color="#313695"/><stop offset="0.0182" stop-color="#313695"/><stop offset="0.0219" stop-color="#3f62ab"/><stop offset="0.0255" stop-color="#6095c4"/><stop offset="0.0292" stop-color="#7fb6d6"/><stop offset="0.0328" stop-color="#90c3dd"/><stop offset="0.1058" stop-color="#acdae9"/><stop offset="0.1533" stop-color="#99cae1"/><stop offset="0.2007" stop-color="#8abeda"/><stop offset="0.2701" stop-color="#6ea6ce"/><stop offset="0.3869" stop-color="#4f81ba"/><stop offset="0.4526" stop-color="#436fb1"/><stop offset="0.4927" stop-color="#4065ac"/><stop offset="0.5949" stop-color="#374a9f"/><stop offset="0.6825" stop-color="#313695"/><stop offset="1.0000" stop-color="#313695"/></linearGradient><linearGradient id="g0_44" x1="0" y1="0" x2="0" y2="1"><stop offset="0.0000" stop-color="#313695"/><stop offset="0.0182" stop-color="#313695"/><stop offset="0.0219" stop-color="#3f62ab"/><stop offset="0.0255" stop-color="#6095c4"/><stop offset="0.0292" stop-color="#7fb6d6"/><stop offset="0.0328" stop-color="#90c3dd"/><stop offset="0.1022" stop-color="#acdae9"/><stop offset="0.1825" stop-color="#90c3dd"/><stop offset="0.2664" stop-color="#70a9cf"/><stop offset="0.3285" stop-color="#5e93c3"/><stop offset="0.4307" stop-color="#4574b3"/><stop offset="0.4745" stop-color="#416aaf"/><stop offset="0.5547" stop-color="#3a54a4"/><stop offset="0.6788" stop-color="#313695"/><stop offset="1.0000" stop-color="#313695"/></linearGradient><linearGradient id="g0_45" x1="0" y1="0" x2="0" y2="1"><stop offset="0.0000" stop-color="#313695"/><stop offset="0.0182" stop-color="#313695"/><stop offset="0.0219" stop-color="#3f62ab"/><stop offset="0.0255" stop-color="#6095c4"/><stop offset="0.0292" stop-color="#7fb6d6"/><stop offset="0.0328" stop-color="#90c3dd"/><stop offset="0.0985" stop-color="#acdae9"/><stop offset="0.1825" stop-color="#90c3dd"/><stop offset="0.2628" stop-color="#70a9cf"/><stop offset="0.4161" stop-color="#4878b6"/><stop offset="0.5620" stop-color="#3a51a2"/><stop offset="0.6788" stop-color="#313695"/><stop offset="1.0000" stop-color="#313695"/></linearGradient><linearGradient id="g0_46" x1="0" y1="0" x2="0" y2="1"><stop offset="0.0000" stop-color="#313695"/><stop offset="0.0182" stop-color="#313695"/><stop offset="0.0219" stop-color="#3f62ab"/><stop offset="0.0255" stop-color="#6095c4"/><stop offset="0.0292" stop-color="#7fb6d6"/><stop offset="0.0328" stop-color="#90c3dd"/><stop offset="0.0985" stop-color="#acdae9"/><stop offset="0.2664" stop-color="#70a9cf"/><stop offset="0.3212" stop-color="#6095c4"/><stop offset="0.4307" stop-color="#4574b3"/><stop offset="0.4854" stop-color="#4065ac"/><stop offset="0.6314" stop-color="#34409a"/><stop offset="0.6752" stop-color="#313695"/><stop offset="1.0000" stop-color="#313695"/></linearGradient><linearGradient id="g0_47" x1="0" y1="0" x2="0" y2="1"><stop offset="0.0000" stop-color="#313695"/><stop offset="0.0182" stop-color="#313695"/><stop offset="0.0219" stop-color="#3f62ab"/><stop offset="0.0255" stop-color="#6095c4"/><stop offset="0.0292" stop-color="#7fb6d6"/><stop offset="0.0328" stop-color="#90c3dd"/><stop offset="0.0985" stop-color="#acdae9"/><stop offset="0.2701" stop-color="#6ea6ce"/><stop offset="0.3978" stop-color="#4b7db8"/><stop offset="0.4635" stop-color="#416aaf"/><stop offset="0.6095" stop-color="#36459c"/><stop offset="0.6752" stop-color="#313695"/><stop offset="1.0000" stop-color="#313695"/></linearGradient><linearGradient id="g0_48" x1="0" y1="0" x2="0" y2="1"><stop offset="0.0000" stop-color="#313695"/><stop offset="0.0182" stop-color="#313695"/><stop offset="0.0219" stop-color="#3f62ab"/><stop offset="0.0255" stop-color="#6095c4"/><stop offset="0.0292" stop-color="#7fb6d6"/><stop offset="0.0328" stop-color="#90c3dd"/><stop offset="0.0985" stop-color="#aad8e9"/><stop offset="0.2263" stop-color="#7db4d5"/><stop offset="0.3066" stop-color="#6399c7"/><stop offset="0.4307" stop-color="#4471b2"/><stop offset="0.6715" stop-color="#313695"/><stop offset="1.0000" stop-color="#313695"/></linearGradient><linearGradient id="g0_49" x1="0" y1="0" x2="0" y2="1"><stop offset="0.0000" stop-color="#313695"/><stop offset="0.0182" stop-color="#313695"/><stop offset="0.0219" stop-color="#3f62ab"/><stop offset="0.0255" stop-color="#6095c4"/><stop offset="0.0292" stop-color="#7fb6d6"/><stop offset="0.0328" stop-color="#90c3dd"/><stop offset="0.0985" stop-color="#aad8e9"/><stop offset="0.2628" stop-color="#70a9cf"/><stop offset="0.3248" stop-color="#5e93c3"/><stop offset="0.4307" stop-color="#4471b2"/><stop offset="0.5255" stop-color="#3c59a6"/><stop offset="0.6679" stop-color="#313695"/><stop offset="1.0000" stop-color="#313695"/></linearGradient><linearGradient id="g0_50" x1="0" y1="0" x2="0" y2="1"><stop offset="0.0000" stop-color="#313695"/><stop offset="0.0182" stop-color="#313695"/><stop offset="0.0219" stop-color="#3f62ab"/><stop offset="0.0255" stop-color="#6297c6"/><stop offset="0.0292" stop-color="#7fb6d6"/><stop offset="0.0328" stop-color="#90c3dd"/><stop offset="0.0985" stop-color="#aad8e9"/><stop offset="0.1715" stop-color="#90c3dd"/><stop offset="0.2664" stop-color="#6ea6ce"/><stop offset="0.3905" stop-color="#4b7db8"/><stop offset="0.4745" stop-color="#4065ac"/><stop offset="0.6679" stop-color="#313695"/><stop offset="1.0000" stop-color="#313695"/></linearGradient><linearGradient id="g0_51" x1="0" y1="0" x2="0" y2="1"><stop offset="0.0000" stop-color="#313695"/><stop offset="0.0182" stop-color="#313695"/><stop offset="0.0219" stop-color="#3f62ab"/><stop offset="0.0255" stop-color="#6095c4"/><stop offset="0.0292" stop-color="#7fb6d6"/><stop offset="0.0328" stop-color="#90c3dd"/><stop offset="0.0474" stop-color="#94c7df"/><stop offset="0.0985" stop-color="#aad8e9"/><stop offset="0.1788" stop-color="#8cc0db"/><stop offset="0.2591" stop-color="#70a9cf"/><stop offset="0.3832" stop-color="#4d7fb9"/><stop offset="0.4489" stop-color="#416aaf"/><stop offset="0.6642" stop-color="#313695"/><stop offset="1.0000" stop-color="#313695"/></linearGradient><linearGradient id="g0_52" x1="0" y1="0" x2="0" y2="1"><stop offset="0.0000" stop-color="#313695"/><stop offset="0.0182" stop-color="#313695"/><stop offset="0.0219" stop-color="#3f62ab"/><stop offset="0.0255" stop-color="#6095c4"/><stop offset="0.0292" stop-color="#7ab2d4"/><stop offset="0.0365" stop-color="#8cc0db"/><stop offset="0.0876" stop-color="#a8d6e8"/><stop offset="0.1022" stop-color="#a8d6e8"/><stop offset="0.1642" stop-color="#90c3dd"/><stop offset="0.2591" stop-color="#70a9cf"/><stop offset="0.3394" stop-color="#588cc0"/><stop offset="0.4307" stop-color="#436fb1"/><stop offset="0.5803" stop-color="#374a9f"/><stop offset="0.6642" stop-color="#313695"/><stop offset="1.0000" stop-color="#313695"/></linearGradient><linearGradient id="g0_53" x1="0" y1="0" x2="0" y2="1"><stop offset="0.0000" stop-color="#313695"/><stop offset="0.0182" stop-color="#313695"/><stop offset="0.0219" stop-color="#3a51a2"/><stop offset="0.0255" stop-color="#5c90c2"/><stop offset="0.0292" stop-color="#78b0d3"/><stop offset="0.0401" stop-color="#90c3dd"/><stop offset="0.0912" stop-color="#a8d6e8"/><stop offset="0.1095" stop-color="#a3d3e6"/><stop offset="0.2555" stop-color="#70a9cf"/><stop offset="0.4124" stop-color="#4574b3"/><stop offset="0.4854" stop-color="#3e60aa"/><stop offset="0.6606" stop-color="#313695"/><stop offset="1.0000" stop-color="#313695"/></linearGradient><linearGradient id="g0_54" x1="0" y1="0" x2="0" y2="1"><stop offset="0.0000" stop-color="#313695"/><stop offset="0.0219" stop-color="#313695"/><stop offset="0.0255" stop-color="#3e60aa"/><stop offset="0.0292" stop-color="#5a8ec1"/><stop offset="0.0328" stop-color="#76afd2"/><stop offset="0.0365" stop-color="#87bdd9"/><stop offset="0.0401" stop-color="#90c3dd"/><stop offset="0.0949" stop-color="#a8d6e8"/><stop offset="0.1606" stop-color="#90c3dd"/><stop offset="0.2555" stop-color="#70a9cf"/><stop offset="0.3102" stop-color="#6095c4"/><stop offset="0.4161" stop-color="#4471b2"/><stop offset="0.6168" stop-color="#34409a"/><stop offset="0.6606" stop-color="#313695"/><stop offset="1.0000" stop-color="#313695"/></linearGradient><linearGradient id="g0_55" x1="0" y1="0" x2="0" y2="1"><stop offset="0.0000" stop-color="#313695"/><stop offset="0.0219" stop-color="#313695"/><stop offset="0.0255" stop-color="#3a54a4"/><stop offset="0.0292" stop-color="#5183bb"/><stop offset="0.0328" stop-color="#76afd2"/><stop offset="0.0365" stop-color="#87bdd9"/><stop offset="0.0401" stop-color="#90c3dd"/><stop offset="0.0949" stop-color="#a8d6e8"/><stop offset="0.1679" stop-color="#8cc0db"/><stop offset="0.2518" stop-color="#70a9cf"/><stop offset="0.4124" stop-color="#4471b2"/><stop offset="0.6350" stop-color="#333b97"/><stop offset="0.6642" stop-color="#313695"/><stop offset="1.0000" stop-color="#313695"/></linearGradient><linearGradient id="g0_56" x1="0" y1="0" x2="0" y2="1"><stop offset="0.0000" stop-color="#313695"/><stop offset="0.0219" stop-color="#313695"/><stop offset="0.0255" stop-color="#3a51a2"/><stop offset="0.0292" stop-color="#4f81ba"/><stop offset="0.0328" stop-color="#76afd2"/><stop offset="0.0401" stop-color="#8abeda"/><stop offset="0.0438" stop-color="#90c3dd"/><stop offset="0.0949" stop-color="#a8d6e8"/><stop offset="0.1606" stop-color="#8ec2dc"/><stop offset="0.2518" stop-color="#70a9cf"/><stop offset="0.3321" stop-color="#588cc0"/><stop offset="0.4124" stop-color="#4471b2"/><stop offset="0.4562" stop-color="#4065ac"/><stop offset="0.5730" stop-color="#374a9f"/><stop offset="0.6569" stop-color="#313695"/><stop offset="1.0000" stop-color="#313695"/></linearGradient><linearGradient id="g0_57" x1="0" y1="0" x2="0" y2="1"><stop offset="0.0000" stop-color="#313695"/><stop offset="0.0219" stop-color="#313695"/><stop offset="0.0255" stop-color="#3a51a2"/><stop offset="0.0292" stop-color="#4f81ba"/><stop offset="0.0328" stop-color="#76afd2"/><stop offset="0.0438" stop-color="#90c3dd"/><stop offset="0.0949" stop-color="#a8d6e8"/><stop offset="0.1569" stop-color="#8ec2dc"/><stop offset="0.2482" stop-color="#70a9cf"/><stop offset="0.3431" stop-color="#5588be"/><stop offset="0.4161" stop-color="#436fb1"/><stop offset="0.4526" stop-color="#4065ac"/><stop offset="0.5292" stop-color="#3a54a4"/><stop offset="0.6533" stop-color="#313695"/><stop offset="1.0000" stop-color="#313695"/></linearGradient><linearGradient id="g0_58" x1="0" y1="0" x2="0" y2="1"><stop offset="0.0000" stop-color="#313695"/><stop offset="0.0219" stop-color="#313695"/><stop offset="0.0255" stop-color="#3a51a2"/><stop offset="0.0292" stop-color="#4f81ba"/><stop offset="0.0328" stop-color="#76afd2"/><stop offset="0.0438" stop-color="#90c3dd"/><stop offset="0.0912" stop-color="#a6d5e7"/><stop offset="0.1058" stop-color="#a1d1e5"/><stop offset="0.2445" stop-color="#70a9cf"/><stop offset="0.4051" stop-color="#4471b2"/><stop offset="0.4489" stop-color="#4065ac"/><stop offset="0.5693" stop-color="#374a9f"/><stop offset="0.6533" stop-color="#313695"/><stop offset="1.0000" stop-color="#313695"/></linearGradient><linearGradient id="g0_59" x1="0" y1="0" x2="0" y2="1"><stop offset="0.0000" stop-color="#313695"/><stop offset="0.0219" stop-color="#313695"/><stop offset="0.0255" stop-color="#3a51a2"/><stop offset="0.0292" stop-color="#4f81ba"/><stop offset="0.0328" stop-color="#76afd2"/><stop offset="0.0438" stop-color="#90c3dd"/><stop offset="0.0912" stop-color="#a6d5e7"/><stop offset="0.1642" stop-color="#8abeda"/><stop offset="0.2445" stop-color="#70a9cf"/><stop offset="0.3321" stop-color="#578abf"/><stop offset="0.4088" stop-color="#436fb1"/><stop offset="0.5876" stop-color="#36459c"/><stop offset="0.6533" stop-color="#313695"/><stop offset="1.0000" stop-color="#313695"/></linearGradient><linearGradient id="g0_60" x1="0" y1="0" x2="0" y2="1"><stop offset="0.0000" stop-color="#313695"/><stop offset="0.0219" stop-color="#313695"/><stop offset="0.0255" stop-color="#3a51a2"/><stop offset="0.0292" stop-color="#4f81ba"/><stop offset="0.0328" stop-color="#76afd2"/><stop offset="0.0438" stop-color="#90c3dd"/><stop offset="0.0912" stop-color="#a6d5e7"/><stop offset="0.1569" stop-color="#8cc0db"/><stop offset="0.2409" stop-color="#70a9cf"/><stop offset="0.3686" stop-color="#4b7db8"/><stop offset="0.4234" stop-color="#416aaf"/><stop offset="0.5438" stop-color="#394fa1"/><stop offset="0.6496" stop-color="#313695"/><stop offset="1.0000" stop-color="#313695"/></linearGradient><linearGradient id="g0_61" x1="0" y1="0" x2="0" y2="1"><stop offset="0.0000" stop-color="#313695"/><stop offset="0.0219" stop-color="#313695"/><stop offset="0.0255" stop-color="#3a51a2"/><stop offset="0.0292" stop-color="#4f81ba"/><stop offset="0.0328" stop-color="#76afd2"/><stop offset="0.0438" stop-color="#90c3dd"/><stop offset="0.0876" stop-color="#a6d5e7"/><stop offset="0.1423" stop-color="#90c3dd"/><stop offset="0.2409" stop-color="#70a9cf"/><stop offset="0.3978" stop-color="#4471b2"/><stop offset="0.4416" stop-color="#4065ac"/><stop offset="0.5839" stop-color="#36459c"/><stop offset="0.6496" stop-color="#313695"/><stop offset="1.0000" stop-color="#313695"/></linearGradient><linearGradient id="g0_62" x1="0" y1="0" x2="0" y2="1"><stop offset="0.0000" stop-color="#313695"/><stop offset="0.0219" stop-color="#313695"/><stop offset="0.0255" stop-color="#3a51a2"/><stop offset="0.0292" stop-color="#4f81ba"/><stop offset="0.0328" stop-color="#76afd2"/><stop offset="0.0438" stop-color="#90c3dd"/><stop offset="0.0876" stop-color="#a6d5e7"/><stop offset="0.1460" stop-color="#8ec2dc"/><stop offset="0.2372" stop-color="#70a9cf"/><stop offset="0.3942" stop-color="#4471b2"/><stop offset="0.4380" stop-color="#4065ac"/><stop offset="0.6241" stop-color="#333b97"/><stop offset="0.6533" stop-color="#313695"/><stop offset="1.0000" stop-color="#313695"/></linearGradient><linearGradient id="g0_63" x1="0" y1="0" x2="0" y2="1"><stop offset="0.0000" stop-color="#313695"/><stop offset="0.0219" stop-color="#313695"/><stop offset="0.0255" stop-color="#3a51a2"/><stop offset="0.0292" stop-color="#4f81ba"/><stop offset="0.0328" stop-color="#76afd2"/><stop offset="0.0438" stop-color="#90c3dd"/><stop offset="0.0876" stop-color="#a3d3e6"/><stop offset="0.1387" stop-color="#90c3dd"/><stop offset="0.2409" stop-color="#6ea6ce"/><stop offset="0.3978" stop-color="#436fb1"/><stop offset="0.5803" stop-color="#36459c"/><stop offset="0.6460" stop-color="#313695"/><stop offset="1.0000" stop-color="#313695"/></linearGradient><linearGradient id="g0_64" x1="0" y1="0" x2="0" y2="1"><stop offset="0.0000" stop-color="#313695"/><stop offset="0.0219" stop-color="#313695"/><stop offset="0.0255" stop-color="#3a51a2"/><stop offset="0.0292" stop-color="#4f81ba"/><stop offset="0.0328" stop-color="#76afd2"/><stop offset="0.0438" stop-color="#90c3dd"/><stop offset="0.0876" stop-color="#a3d3e6"/><stop offset="0.1533" stop-color="#8abeda"/><stop offset="0.2336" stop-color="#70a9cf"/><stop offset="0.3942" stop-color="#436fb1"/><stop offset="0.6204" stop-color="#333b97"/><stop offset="0.6496" stop-color="#313695"/><stop offset="1.0000" stop-color="#313695"/></linearGradient><linearGradient id="g0_65" x1="0" y1="0" x2="0" y2="1"><stop offset="0.0000" stop-color="#313695"/><stop offset="0.0219" stop-color="#313695"/><stop offset="0.0255" stop-color="#3a51a2"/><stop offset="0.0292" stop-color="#4f81ba"/><stop offset="0.0328" stop-color="#76afd2"/><stop offset="0.0438" stop-color="#90c3dd"/><stop offset="0.0876" stop-color="#a3d3e6"/><stop offset="0.1387" stop-color="#8ec2dc"/><stop offset="0.2372" stop-color="#6ea6ce"/><stop offset="0.3869" stop-color="#4471b2"/><stop offset="0.4307" stop-color="#4065ac"/><stop offset="0.5766" stop-color="#36459c"/><stop offset="0.6423" stop-color="#313695"/><stop offset="1.0000" stop-color="#313695"/></linearGradient><linearGradient id="g0_66" x1="0" y1="0" x2="0" y2="1"><stop offset="0.0000" stop-color="#313695"/><stop offset="0.0219" stop-color="#313695"/><stop offset="0.0255" stop-color="#3a51a2"/><stop offset="0.0292" stop-color="#4f81ba"/><stop offset="0.0328" stop-color="#76afd2"/><stop offset="0.0438" stop-color="#90c3dd"/><stop offset="0.0839" stop-color="#a1d1e5"/><stop offset="0.1131" stop-color="#97c9e0"/><stop offset="0.2299" stop-color="#70a9cf"/><stop offset="0.3796" stop-color="#4574b3"/><stop offset="0.4161" stop-color="#4167ad"/><stop offset="0.5766" stop-color="#36459c"/><stop offset="0.6423" stop-color="#313695"/><stop offset="1.0000" stop-color="#313695"/></linearGradient><linearGradient id="g0_67" x1="0" y1="0" x2="0" y2="1"><stop offset="0.0000" stop-color="#313695"/><stop offset="0.0219" stop-color="#313695"/><stop offset="0.0255" stop-color="#3a51a2"/><stop offset="0.0292" stop-color="#4f81ba"/><stop offset="0.0328" stop-color="#76afd2"/><stop offset="0.0438" stop-color="#90c3dd"/><stop offset="0.0839" stop-color="#a1d1e5"/><stop offset="0.1861" stop-color="#7db4d5"/><stop offset="0.2336" stop-color="#6ea6ce"/><stop offset="0.3869" stop-color="#436fb1"/><stop offset="0.5073" stop-color="#3a54a4"/><stop offset="0.6387" stop-color="#313695"/><stop offset="1.0000" stop-color="#313695"/></linearGradient><linearGradient id="g0_68" x1="0" y1="0" x2="0" y2="1"><stop offset="0.0000" stop-color="#313695"/><stop offset="0.0219" stop-color="#313695"/><stop offset="0.0255" stop-color="#3a51a2"/><stop offset="0.0292" stop-color="#4f81ba"/><stop offset="0.0328" stop-color="#76afd2"/><stop offset="0.0474" stop-color="#8ec2dc"/><stop offset="0.0839" stop-color="#a1d1e5"/><stop offset="0.1314" stop-color="#8ec2dc"/><stop offset="0.2263" stop-color="#70a9cf"/><stop offset="0.3869" stop-color="#436fb1"/><stop offset="0.4234" stop-color="#4065ac"/><stop offset="0.6387" stop-color="#313695"/><stop offset="1.0000" stop-color="#313695"/></linearGradient><linearGradient id="g0_69" x1="0" y1="0" x2="0" y2="1"><stop offset="0.0000" stop-color="#313695"/><stop offset="0.0219" stop-color="#313695"/><stop offset="0.0255" stop-color="#3a51a2"/><stop offset="0.0292" stop-color="#4f81ba"/><stop offset="0.0328" stop-color="#76afd2"/><stop offset="0.0511" stop-color="#90c3dd"/><stop offset="0.0839" stop-color="#a1d1e5"/><stop offset="0.1423" stop-color="#8abeda"/><stop offset="0.2299" stop-color="#6ea6ce"/><stop offset="0.3723" stop-color="#4574b3"/><stop offset="0.4088" stop-color="#4167ad"/><stop offset="0.5730" stop-color="#36459c"/><stop offset="0.6095" stop-color="#333b97"/><stop offset="0.6460" stop-color="#313695"/><stop offset="1.0000" stop-color="#313695"/></linearGradient><linearGradient id="g0_70" x1="0" y1="0" x2="0" y2="1"><stop offset="0.0000" stop-color="#313695"/><stop offset="0.0219" stop-color="#313695"/><stop offset="0.0255" stop-color="#3a51a2"/><stop offset="0.0292" stop-color="#4f81ba"/><stop offset="0.0328" stop-color="#76afd2"/><stop offset="0.0511" stop-color="#90c3dd"/><stop offset="0.0803" stop-color="#9fd0e4"/><stop offset="0.1058" stop-color="#97c9e0"/><stop offset="0.1679" stop-color="#81b7d7"/><stop offset="0.2226" stop-color="#70a9cf"/><stop offset="0.3796" stop-color="#436fb1"/><stop offset="0.4088" stop-color="#4167ad"/><stop offset="0.6350" stop-color="#313695"/><stop offset="1.0000" stop-color="#313695"/></linearGradient><linearGradient id="g0_71" x1="0" y1="0" x2="0" y2="1"><stop offset="0.0000" stop-color="#313695"/><stop offset="0.0219" stop-color="#313695"/><stop offset="0.0255" stop-color="#3a51a2"/><stop offset="0.0292" stop-color="#4f81ba"/><stop offset="0.0328" stop-color="#76afd2"/><stop offset="0.0511" stop-color="#90c3dd"/><stop offset="0.0839" stop-color="#9fd0e4"/><stop offset="0.1314" stop-color="#8cc0db"/><stop offset="0.2263" stop-color="#6ea6ce"/><stop offset="0.3686" stop-color="#4574b3"/><stop offset="0.3942" stop-color="#416aaf"/><stop offset="0.6131" stop-color="#333b97"/><stop offset="0.6423" stop-color="#313695"/><stop offset="1.0000" stop-color="#313695"/></linearGradient><linearGradient id="g0_72" x1="0" y1="0" x2="0" y2="1"><stop offset="0.0000" stop-color="#313695"/><stop offset="0.0219" stop-color="#313695"/><stop offset="0.0255" stop-color="#3a51a2"/><stop offset="0.0292" stop-color="#4f81ba"/><stop offset="0.0328" stop-color="#76afd2"/><stop offset="0.0511" stop-color="#90c3dd"/><stop offset="0.0839" stop-color="#9fd0e4"/><stop offset="0.1350" stop-color="#8abeda"/><stop offset="0.1788" stop-color="#7db4d5"/><stop offset="0.2518" stop-color="#679ec9"/><stop offset="0.3686" stop-color="#4471b2"/><stop offset="0.4124" stop-color="#4065ac"/><stop offset="0.5219" stop-color="#394fa1"/><stop offset="0.6314" stop-color="#313695"/><stop offset="1.0000" stop-color="#313695"/></linearGradient><linearGradient id="g0_73" x1="0" y1="0" x2="0" y2="1"><stop offset="0.0000" stop-color="#313695"/><stop offset="0.0219" stop-color="#313695"/><stop offset="0.0255" stop-color="#3a51a2"/><stop offset="0.0292" stop-color="#4f81ba"/><stop offset="0.0328" stop-color="#76afd2"/><stop offset="0.0511" stop-color="#90c3dd"/><stop offset="0.0839" stop-color="#9fd0e4"/><stop offset="0.1277" stop-color="#8cc0db"/><stop offset="0.2226" stop-color="#6ea6ce"/><stop offset="0.3394" stop-color="#4b7db8"/><stop offset="0.3978" stop-color="#4167ad"/><stop offset="0.4745" stop-color="#3c59a6"/><stop offset="0.5182" stop-color="#394fa1"/><stop offset="0.6314" stop-color="#313695"/><stop offset="1.0000" stop-color="#313695"/></linearGradient><linearGradient id="g0_74" x1="0" y1="0" x2="0" y2="1"><stop offset="0.0000" stop-color="#313695"/><stop offset="0.0219" stop-color="#313695"/><stop offset="0.0255" stop-color="#3a51a2"/><stop offset="0.0292" stop-color="#4f81ba"/><stop offset="0.0328" stop-color="#76afd2"/><stop offset="0.0511" stop-color="#90c3dd"/><stop offset="0.0839" stop-color="#9fd0e4"/><stop offset="0.1204" stop-color="#8ec2dc"/><stop offset="0.1825" stop-color="#7ab2d4"/><stop offset="0.2153" stop-color="#70a9cf"/><stop offset="0.3613" stop-color="#4574b3"/><stop offset="0.3869" stop-color="#416aaf"/><stop offset="0.5401" stop-color="#374a9f"/><stop offset="0.6277" stop-color="#313695"/><stop offset="1.0000" stop-color="#313695"/></linearGradient><linearGradient id="g0_75" x1="0" y1="0" x2="0" y2="1"><stop offset="0.0000" stop-color="#313695"/><stop offset="0.0219" stop-color="#313695"/><stop offset="0.0255" stop-color="#3a51a2"/><stop offset="0.0292" stop-color="#4f81ba"/><stop offset="0.0328" stop-color="#76afd2"/><stop offset="0.0511" stop-color="#90c3dd"/><stop offset="0.0803" stop-color="#9fd0e4"/><stop offset="0.1241" stop-color="#8cc0db"/><stop offset="0.2153" stop-color="#70a9cf"/><stop offset="0.3650" stop-color="#4471b2"/><stop offset="0.3942" stop-color="#4167ad"/><stop offset="0.4708" stop-color="#3c59a6"/><stop offset="0.6277" stop-color="#313695"/><stop offset="1.0000" stop-color="#313695"/></linearGradient><linearGradient id="g0_76" x1="0" y1="0" x2="0" y2="1"><stop offset="0.0000" stop-color="#313695"/><stop offset="0.0219" stop-color="#313695"/><stop offset="0.0255" stop-color="#3a51a2"/><stop offset="0.0292" stop-color="#4f81ba"/><stop offset="0.0328" stop-color="#76afd2"/><stop offset="0.0511" stop-color="#90c3dd"/><stop offset="0.0766" stop-color="#9fd0e4"/><stop offset="0.1241" stop-color="#8cc0db"/><stop offset="0.2190" stop-color="#6ea6ce"/><stop offset="0.3577" stop-color="#4574b3"/><stop offset="0.3832" stop-color="#416aaf"/><stop offset="0.5365" stop-color="#374a9f"/><stop offset="0.6277" stop-color="#313695"/><stop offset="1.0000" stop-color="#313695"/></linearGradient><linearGradient id="g0_77" x1="0" y1="0" x2="0" y2="1"><stop offset="0.0000" stop-color="#313695"/><stop offset="0.0219" stop-color="#313695"/><stop offset="0.0255" stop-color="#3a51a2"/><stop offset="0.0292" stop-color="#4f81ba"/><stop offset="0.0328" stop-color="#76afd2"/><stop offset="0.0511" stop-color="#90c3dd"/><stop offset="0.0766" stop-color="#9dcee3"/><stop offset="0.1204" stop-color="#8cc0db"/><stop offset="0.1788" stop-color="#7ab2d4"/><stop offset="0.2117" stop-color="#70a9cf"/><stop offset="0.3577" stop-color="#4574b3"/><stop offset="0.3796" stop-color="#416aaf"/><stop offset="0.5365" stop-color="#374a9f"/><stop offset="0.6241" stop-color="#313695"/><stop offset="1.0000" stop-color="#313695"/></linearGradient><linearGradient id="g0_78" x1="0" y1="0" x2="0" y2="1"><stop offset="0.0000" stop-color="#313695"/><stop offset="0.0219" stop-color="#313695"/><stop offset="0.0255" stop-color="#394fa1"/><stop offset="0.0292" stop-color="#4d7fb9"/><stop offset="0.0328" stop-color="#76afd2"/><stop offset="0.0511" stop-color="#90c3dd"/><stop offset="0.0766" stop-color="#9dcee3"/><stop offset="0.1204" stop-color="#8cc0db"/><stop offset="0.2117" stop-color="#70a9cf"/><stop offset="0.3577" stop-color="#4574b3"/><stop offset="0.3869" stop-color="#4167ad"/><stop offset="0.4672" stop-color="#3c59a6"/><stop offset="0.5109" stop-color="#394fa1"/><stop offset="0.6241" stop-color="#313695"/><stop offset="1.0000" stop-color="#313695"/></linearGradient><linearGradient id="g0_79" x1="0" y1="0" x2="0" y2="1"><stop offset="0.0000" stop-color="#313695"/><stop offset="0.0255" stop-color="#313695"/><stop offset="0.0292" stop-color="#34409a"/><stop offset="0.0328" stop-color="#4b7db8"/><stop offset="0.0365" stop-color="#679ec9"/><stop offset="0.0401" stop-color="#7ab2d4"/><stop offset="0.0474" stop-color="#8cc0db"/><stop offset="0.0766" stop-color="#9dcee3"/><stop offset="0.1204" stop-color="#8cc0db"/><stop offset="0.2226" stop-color="#6da4cc"/><stop offset="0.3540" stop-color="#4574b3"/><stop offset="0.3869" stop-color="#4167ad"/><stop offset="0.4891" stop-color="#3a54a4"/><stop offset="0.6204" stop-color="#313695"/><stop offset="1.0000" stop-color="#313695"/></linearGradient><linearGradient id="g0_80" x1="0" y1="0" x2="0" y2="1"><stop offset="0.0000" stop-color="#313695"/><stop offset="0.0292" stop-color="#323896"/><stop offset="0.0328" stop-color="#426cb0"/><stop offset="0.0365" stop-color="#6399c7"/><stop offset="0.0401" stop-color="#7ab2d4"/><stop offset="0.0474" stop-color="#8cc0db"/><stop offset="0.0766" stop-color="#9dcee3"/><stop offset="0.1387" stop-color="#85bbd9"/><stop offset="0.2153" stop-color="#6ea6ce"/><stop offset="0.3540" stop-color="#4574b3"/><stop offset="0.3869" stop-color="#4167ad"/><stop offset="0.4635" stop-color="#3c59a6"/><stop offset="0.6204" stop-color="#313695"/><stop offset="1.0000" stop-color="#313695"/></linearGradient><linearGradient id="g0_81" x1="0" y1="0" x2="0" y2="1"><stop offset="0.0000" stop-color="#313695"/><stop offset="0.0292" stop-color="#323896"/><stop offset="0.0328" stop-color="#416aaf"/><stop offset="0.0365" stop-color="#6297c6"/><stop offset="0.0401" stop-color="#7ab2d4"/><stop offset="0.0474" stop-color="#8cc0db"/><stop offset="0.0766" stop-color="#9dcee3"/><stop offset="0.1241" stop-color="#8abeda"/><stop offset="0.1752" stop-color="#7ab2d4"/><stop offset="0.2080" stop-color="#70a9cf"/><stop offset="0.3540" stop-color="#4574b3"/><stop offset="0.3869" stop-color="#4167ad"/><stop offset="0.4635" stop-color="#3c59a6"/><stop offset="0.5073" stop-color="#394fa1"/><stop offset="0.6204" stop-color="#313695"/><stop offset="1.0000" stop-color="#313695"/></linearGradient><linearGradient id="g0_82" x1="0" y1="0" x2="0" y2="1"><stop offset="0.0000" stop-color="#313695"/><stop offset="0.0292" stop-color="#323896"/><stop offset="0.0328" stop-color="#416aaf"/><stop offset="0.0365" stop-color="#6297c6"/><stop offset="0.0401" stop-color="#7ab2d4"/><stop offset="0.0511" stop-color="#90c3dd"/><stop offset="0.0766" stop-color="#9bcce2"/><stop offset="0.1095" stop-color="#8ec2dc"/><stop offset="0.1679" stop-color="#7db4d5"/><stop offset="0.2409" stop-color="#679ec9"/><stop offset="0.3577" stop-color="#4471b2"/><stop offset="0.3978" stop-color="#4065ac"/><stop offset="0.4854" stop-color="#3a54a4"/><stop offset="0.6168" stop-color="#313695"/><stop offset="1.0000" stop-color="#313695"/></linearGradient><linearGradient id="g0_83" x1="0" y1="0" x2="0" y2="1"><stop offset="0.0000" stop-color="#313695"/><stop offset="0.0292" stop-color="#323896"/><stop offset="0.0328" stop-color="#416aaf"/><stop offset="0.0365" stop-color="#6297c6"/><stop offset="0.0401" stop-color="#78b0d3"/><stop offset="0.0547" stop-color="#90c3dd"/><stop offset="0.0803" stop-color="#9bcce2"/><stop offset="0.1387" stop-color="#85bbd9"/><stop offset="0.2080" stop-color="#70a9cf"/><stop offset="0.3540" stop-color="#4574b3"/><stop offset="0.3869" stop-color="#4167ad"/><stop offset="0.5073" stop-color="#394fa1"/><stop offset="0.6168" stop-color="#313695"/><stop offset="1.0000" stop-color="#313695"/></linearGradient><linearGradient id="g0_84" x1="0" y1="0" x2="0" y2="1"><stop offset="0.0000" stop-color="#313695"/><stop offset="0.0292" stop-color="#323896"/><stop offset="0.0328" stop-color="#416aaf"/><stop offset="0.0365" stop-color="#6297c6"/><stop offset="0.0401" stop-color="#78b0d3"/><stop offset="0.0547" stop-color="#90c3dd"/><stop offset="0.0803" stop-color="#9bcce2"/><stop offset="0.1387" stop-color="#85bbd9"/><stop offset="0.2080" stop-color="#70a9cf"/><stop offset="0.3577" stop-color="#4471b2"/><stop offset="0.3978" stop-color="#4065ac"/><stop offset="0.5511" stop-color="#36459c"/><stop offset="0.6168" stop-color="#313695"/><stop offset="1.0000" stop-color="#313695"/></linearGradient><linearGradient id="g0_85" x1="0" y1="0" x2="0" y2="1"><stop offset="0.0000" stop-color="#313695"/><stop offset="0.0292" stop-color="#323896"/><stop offset="0.0328" stop-color="#416aaf"/><stop offset="0.0365" stop-color="#6297c6"/><stop offset="0.0401" stop-color="#78b0d3"/><stop offset="0.0547" stop-color="#90c3dd"/><stop offset="0.0803" stop-color="#9bcce2"/><stop offset="0.1387" stop-color="#85bbd9"/><stop offset="0.2080" stop-color="#70a9cf"/><stop offset="0.3577" stop-color="#4471b2"/><stop offset="0.3978" stop-color="#4065ac"/><stop offset="0.6131" stop-color="#313695"/><stop offset="1.0000" stop-color="#313695"/></linearGradient><linearGradient id="g0_86" x1="0" y1="0" x2="0" y2="1"><stop offset="0.0000" stop-color="#313695"/><stop offset="0.0292" stop-color="#323896"/><stop offset="0.0328" stop-color="#416aaf"/><stop offset="0.0365" stop-color="#6297c6"/><stop offset="0.0401" stop-color="#78b0d3"/><stop offset="0.0547" stop-color="#90c3dd"/><stop offset="0.0803" stop-color="#9bcce2"/><stop offset="0.1387" stop-color="#85bbd9"/><stop offset="0.2080" stop-color="#70a9cf"/><stop offset="0.3577" stop-color="#4471b2"/><stop offset="0.3978" stop-color="#4065ac"/><stop offset="0.6131" stop-color="#313695"/><stop offset="1.0000" stop-color="#313695"/></linearGradient><linearGradient id="g0_87" x1="0" y1="0" x2="0" y2="1"><stop offset="0.0000" stop-color="#313695"/><stop offset="0.0292" stop-color="#323896"/><stop offset="0.0328" stop-color="#416aaf"/><stop offset="0.0365" stop-color="#6297c6"/><stop offset="0.0401" stop-color="#78b0d3"/><stop offset="0.0547" stop-color="#90c3dd"/><stop offset="0.0803" stop-color="#9bcce2"/><stop offset="0.1533" stop-color="#81b7d7"/><stop offset="0.2080" stop-color="#70a9cf"/><stop offset="0.3577" stop-color="#4471b2"/><stop offset="0.3978" stop-color="#4065ac"/><stop offset="0.5876" stop-color="#333b97"/><stop offset="0.6168" stop-color="#313695"/><stop offset="1.0000" stop-color="#313695"/></linearGradient><linearGradient id="g0_88" x1="0" y1="0" x2="0" y2="1"><stop offset="0.0000" stop-color="#313695"/><stop offset="0.0292" stop-color="#323896"/><stop offset="0.0328" stop-color="#416aaf"/><stop offset="0.0365" stop-color="#6297c6"/><stop offset="0.0401" stop-color="#78b0d3"/><stop offset="0.0547" stop-color="#90c3dd"/><stop offset="0.0839" stop-color="#9bcce2"/><stop offset="0.1131" stop-color="#8ec2dc"/><stop offset="0.2080" stop-color="#70a9cf"/><stop offset="0.3577" stop-color="#4471b2"/><stop offset="0.3978" stop-color="#4065ac"/><stop offset="0.5657" stop-color="#34409a"/><stop offset="0.6095" stop-color="#313695"/><stop offset="1.0000" stop-color="#313695"/></linearGradient><linearGradient id="g0_89" x1="0" y1="0" x2="0" y2="1"><stop offset="0.0000" stop-color="#313695"/><stop offset="0.0292" stop-color="#323896"/><stop offset="0.0328" stop-color="#416aaf"/><stop offset="0.0365" stop-color="#6297c6"/><stop offset="0.0401" stop-color="#78b0d3"/><stop offset="0.0547" stop-color="#90c3dd"/><stop offset="0.0839" stop-color="#99cae1"/><stop offset="0.2080" stop-color="#70a9cf"/><stop offset="0.3577" stop-color="#4471b2"/><stop offset="0.3978" stop-color="#4065ac"/><stop offset="0.5438" stop-color="#36459c"/><stop offset="0.6095" stop-color="#313695"/><stop offset="1.0000" stop-color="#313695"/></linearGradient><linearGradient id="g0_90" x1="0" y1="0" x2="0" y2="1"><stop offset="0.0000" stop-color="#313695"/><stop offset="0.0292" stop-color="#323896"/><stop offset="0.0328" stop-color="#416aaf"/><stop offset="0.0365" stop-color="#6297c6"/><stop offset="0.0401" stop-color="#78b0d3"/><stop offset="0.0547" stop-color="#90c3dd"/><stop offset="0.0839" stop-color="#99cae1"/><stop offset="0.2080" stop-color="#70a9cf"/><stop offset="0.3577" stop-color="#4471b2"/><stop offset="0.3978" stop-color="#4065ac"/><stop offset="0.5219" stop-color="#374a9f"/><stop offset="0.6058" stop-color="#313695"/><stop offset="1.0000" stop-color="#313695"/></linearGradient><linearGradient id="g0_91" x1="0" y1="0" x2="0" y2="1"><stop offset="0.0000" stop-color="#313695"/><stop offset="0.0292" stop-color="#323896"/><stop offset="0.0328" stop-color="#416aaf"/><stop offset="0.0365" stop-color="#6297c6"/><stop offset="0.0401" stop-color="#78b0d3"/><stop offset="0.0547" stop-color="#90c3dd"/><stop offset="0.0839" stop-color="#99cae1"/><stop offset="0.2080" stop-color="#70a9cf"/><stop offset="0.3577" stop-color="#4471b2"/><stop offset="0.3978" stop-color="#4065ac"/><stop offset="0.5000" stop-color="#394fa1"/><stop offset="0.6058" stop-color="#313695"/><stop offset="1.0000" stop-color="#313695"/></linearGradient><linearGradient id="g0_92" x1="0" y1="0" x2="0" y2="1"><stop offset="0.0000" stop-color="#313695"/><stop offset="0.0292" stop-color="#323896"/><stop offset="0.0328" stop-color="#416aaf"/><stop offset="0.0365" stop-color="#6297c6"/><stop offset="0.0401" stop-color="#78b0d3"/><stop offset="0.0547" stop-color="#90c3dd"/><stop offset="0.0839" stop-color="#99cae1"/><stop offset="0.2080" stop-color="#70a9cf"/><stop offset="0.3577" stop-color="#4471b2"/><stop offset="0.3978" stop-color="#4065ac"/><stop offset="0.5000" stop-color="#394fa1"/><stop offset="0.6058" stop-color="#313695"/><stop offset="1.0000" stop-color="#313695"/></linearGradient><linearGradient id="g0_93" x1="0" y1="0" x2="0" y2="1"><stop offset="0.0000" stop-color="#313695"/><stop offset="0.0292" stop-color="#323896"/><stop offset="0.0328" stop-color="#416aaf"/><stop offset="0.0365" stop-color="#6297c6"/><stop offset="0.0401" stop-color="#78b0d3"/><stop offset="0.0547" stop-color="#90c3dd"/><stop offset="0.0876" stop-color="#99cae1"/><stop offset="0.2080" stop-color="#70a9cf"/><stop offset="0.3577" stop-color="#4471b2"/><stop offset="0.3905" stop-color="#4167ad"/><stop offset="0.4781" stop-color="#3a54a4"/><stop offset="0.6022" stop-color="#313695"/><stop offset="1.0000" stop-color="#313695"/></linearGradient><linearGradient id="g0_94" x1="0" y1="0" x2="0" y2="1"><stop offset="0.0000" stop-color="#313695"/><stop offset="0.0292" stop-color="#323896"/><stop offset="0.0328" stop-color="#416aaf"/><stop offset="0.0365" stop-color="#6297c6"/><stop offset="0.0401" stop-color="#78b0d3"/><stop offset="0.0547" stop-color="#90c3dd"/><stop offset="0.0876" stop-color="#99cae1"/><stop offset="0.1350" stop-color="#8abeda"/><stop offset="0.2117" stop-color="#6ea6ce"/><stop offset="0.3540" stop-color="#4574b3"/><stop offset="0.3905" stop-color="#4167ad"/><stop offset="0.4781" stop-color="#3a54a4"/><stop offset="0.6022" stop-color="#313695"/><stop offset="1.0000" stop-color="#313695"/></linearGradient><linearGradient id="g0_95" x1="0" y1="0" x2="0" y2="1"><stop offset="0.0000" stop-color="#313695"/><stop offset="0.0292" stop-color="#323896"/><stop offset="0.0328" stop-color="#416aaf"/><stop offset="0.0365" stop-color="#6297c6"/><stop offset="0.0401" stop-color="#78b0d3"/><stop offset="0.0547" stop-color="#90c3dd"/><stop offset="0.0876" stop-color="#99cae1"/><stop offset="0.1350" stop-color="#8abeda"/><stop offset="0.2117" stop-color="#6ea6ce"/><stop offset="0.3650" stop-color="#436fb1"/><stop offset="0.4015" stop-color="#4065ac"/><stop offset="0.4781" stop-color="#3a54a4"/><stop offset="0.6022" stop-color="#313695"/><stop offset="1.0000" stop-color="#313695"/></linearGradient><linearGradient id="g0_96" x1="0" y1="0" x2="0" y2="1"><stop offset="0.0000" stop-color="#313695"/><stop offset="0.0292" stop-color="#323896"/><stop offset="0.0328" stop-color="#416aaf"/><stop offset="0.0365" stop-color="#6297c6"/><stop offset="0.0401" stop-color="#78b0d3"/><stop offset="0.0547" stop-color="#90c3dd"/><stop offset="0.0839" stop-color="#99cae1"/><stop offset="0.1350" stop-color="#8abeda"/><stop offset="0.2117" stop-color="#6ea6ce"/><stop offset="0.3613" stop-color="#4471b2"/><stop offset="0.4015" stop-color="#4065ac"/><stop offset="0.4781" stop-color="#3a54a4"/><stop offset="0.5985" stop-color="#313695"/><stop offset="1.0000" stop-color="#313695"/></linearGradient><linearGradient id="g0_97" x1="0" y1="0" x2="0" y2="1"><stop offset="0.0000" stop-color="#313695"/><stop offset="0.0292" stop-color="#323896"/><stop offset="0.0328" stop-color="#416aaf"/><stop offset="0.0365" stop-color="#6297c6"/><stop offset="0.0401" stop-color="#78b0d3"/><stop offset="0.0547" stop-color="#90c3dd"/><stop offset="0.0766" stop-color="#97c9e0"/><stop offset="0.0912" stop-color="#97c9e0"/><stop offset="0.1350" stop-color="#8abeda"/><stop offset="0.2117" stop-color="#6ea6ce"/><stop offset="0.3613" stop-color="#4471b2"/><stop offset="0.4015" stop-color="#4065ac"/><stop offset="0.4781" stop-color="#3a54a4"/><stop offset="0.5985" stop-color="#313695"/><stop offset="1.0000" stop-color="#313695"/></linearGradient><linearGradient id="g0_98" x1="0" y1="0" x2="0" y2="1"><stop offset="0.0000" stop-color="#313695"/><stop offset="0.0292" stop-color="#323896"/><stop offset="0.0328" stop-color="#416aaf"/><stop offset="0.0365" stop-color="#6297c6"/><stop offset="0.0401" stop-color="#78b0d3"/><stop offset="0.0547" stop-color="#90c3dd"/><stop offset="0.0766" stop-color="#94c7df"/><stop offset="0.0876" stop-color="#99cae1"/><stop offset="0.1131" stop-color="#90c3dd"/><stop offset="0.1314" stop-color="#8cc0db"/><stop offset="0.1971" stop-color="#72abd0"/><stop offset="0.3686" stop-color="#436fb1"/><stop offset="0.4051" stop-color="#4065ac"/><stop offset="0.5584" stop-color="#34409a"/><stop offset="0.5949" stop-color="#313695"/><stop offset="1.0000" stop-color="#313695"/></linearGradient><linearGradient id="g0_99" x1="0" y1="0" x2="0" y2="1"><stop offset="0.0000" stop-color="#313695"/><stop offset="0.0292" stop-color="#323896"/><stop offset="0.0328" stop-color="#416aaf"/><stop offset="0.0365" stop-color="#6297c6"/><stop offset="0.0401" stop-color="#76afd2"/><stop offset="0.0547" stop-color="#90c3dd"/><stop offset="0.0657" stop-color="#8cc0db"/><stop offset="0.0839" stop-color="#94c7df"/><stop offset="0.0876" stop-color="#99cae1"/><stop offset="0.1058" stop-color="#90c3dd"/><stop offset="0.1314" stop-color="#8cc0db"/><stop offset="0.1825" stop-color="#76afd2"/><stop offset="0.3321" stop-color="#4b7db8"/><stop offset="0.3832" stop-color="#416aaf"/><stop offset="0.5000" stop-color="#394fa1"/><stop offset="0.5985" stop-color="#313695"/><stop offset="1.0000" stop-color="#313695"/></linearGradient><linearGradient id="g0_100" x1="0" y1="0" x2="0" y2="1"><stop offset="0.0000" stop-color="#313695"/><stop offset="0.0255" stop-color="#313695"/><stop offset="0.0292" stop-color="#374a9f"/><stop offset="0.0365" stop-color="#4f81ba"/><stop offset="0.0401" stop-color="#5e93c3"/><stop offset="0.0511" stop-color="#74add1"/><stop offset="0.0547" stop-color="#7db4d5"/><stop offset="0.0912" stop-color="#8ec2dc"/><stop offset="0.1314" stop-color="#8abeda"/><stop offset="0.1898" stop-color="#74add1"/><stop offset="0.3650" stop-color="#4471b2"/><stop offset="0.4270" stop-color="#3e60aa"/><stop offset="0.5876" stop-color="#323896"/><stop offset="1.0000" stop-color="#313695"/></linearGradient><linearGradient id="g0_101" x1="0" y1="0" x2="0" y2="1"><stop offset="0.0000" stop-color="#313695"/><stop offset="0.0182" stop-color="#313695"/><stop offset="0.0219" stop-color="#333d99"/><stop offset="0.0365" stop-color="#4574b3"/><stop offset="0.0474" stop-color="#5e93c3"/><stop offset="0.0620" stop-color="#72abd0"/><stop offset="0.0839" stop-color="#83b9d8"/><stop offset="0.1204" stop-color="#87bdd9"/><stop offset="0.1898" stop-color="#74add1"/><stop offset="0.3650" stop-color="#4471b2"/><stop offset="0.4088" stop-color="#4065ac"/><stop offset="0.5803" stop-color="#333b97"/><stop offset="0.6168" stop-color="#313695"/><stop offset="1.0000" stop-color="#313695"/></linearGradient><linearGradient id="g0_102" x1="0" y1="0" x2="0" y2="1"><stop offset="0.0000" stop-color="#313695"/><stop offset="0.0073" stop-color="#313695"/><stop offset="0.0219" stop-color="#394fa1"/><stop offset="0.0365" stop-color="#4471b2"/><stop offset="0.0511" stop-color="#5c90c2"/><stop offset="0.0730" stop-color="#74add1"/><stop offset="0.1022" stop-color="#83b9d8"/><stop offset="0.1460" stop-color="#81b7d7"/><stop offset="0.2226" stop-color="#6ba2cb"/><stop offset="0.3650" stop-color="#4471b2"/><stop offset="0.4380" stop-color="#3e5ea8"/><stop offset="0.5839" stop-color="#333b97"/><stop offset="0.6277" stop-color="#313695"/><stop offset="1.0000" stop-color="#313695"/></linearGradient><linearGradient id="g0_103" x1="0" y1="0" x2="0" y2="1"><stop offset="0.0000" stop-color="#333b97"/><stop offset="0.0073" stop-color="#333d99"/><stop offset="0.0219" stop-color="#3a54a4"/><stop offset="0.0401" stop-color="#4878b6"/><stop offset="0.0547" stop-color="#5e93c3"/><stop offset="0.0766" stop-color="#74add1"/><stop offset="0.1022" stop-color="#81b7d7"/><stop offset="0.1423" stop-color="#81b7d7"/><stop offset="0.2226" stop-color="#6ba2cb"/><stop offset="0.3650" stop-color="#4471b2"/><stop offset="0.4380" stop-color="#3e5ea8"/><stop offset="0.5620" stop-color="#34409a"/><stop offset="0.6022" stop-color="#323896"/><stop offset="1.0000" stop-color="#313695"/></linearGradient><clipPath id="clip1"><rect x="178.0" y="1068.0" width="1149.0" height="548.0"/></clipPath><linearGradient id="g1_0" x1="0" y1="0" x2="0" y2="1"><stop offset="0.0000" stop-color="#313695"/><stop offset="0.1423" stop-color="#323896"/><stop offset="0.2190" stop-color="#3a54a4"/><stop offset="0.2701" stop-color="#3e60aa"/><stop offset="0.3285" stop-color="#4065ac"/><stop offset="0.3869" stop-color="#4065ac"/><stop offset="0.4088" stop-color="#3f62ab"/><stop offset="0.4781" stop-color="#3c59a6"/><stop offset="0.6314" stop-color="#333b97"/><stop offset="0.6752" stop-color="#313695"/><stop offset="1.0000" stop-color="#313695"/></linearGradient><linearGradient id="g1_1" x1="0" y1="0" x2="0" y2="1"><stop offset="0.0000" stop-color="#313695"/><stop offset="0.1460" stop-color="#323896"/><stop offset="0.1825" stop-color="#36479e"/><stop offset="0.2409" stop-color="#3d5ba7"/><stop offset="0.3139" stop-color="#4065ac"/><stop offset="0.3905" stop-color="#4065ac"/><stop offset="0.4124" stop-color="#3f62ab"/><stop offset="0.5036" stop-color="#3a54a4"/><stop offset="0.6314" stop-color="#333b97"/><stop offset="0.6752" stop-color="#313695"/><stop offset="1.0000" stop-color="#313695"/></linearGradient><linearGradient id="g1_2" x1="0" y1="0" x2="0" y2="1"><stop offset="0.0000" stop-color="#313695"/><stop offset="0.1460" stop-color="#323896"/><stop offset="0.2226" stop-color="#3b56a5"/><stop offset="0.2774" stop-color="#3f62ab"/><stop offset="0.3467" stop-color="#4167ad"/><stop offset="0.3942" stop-color="#4065ac"/><stop offset="0.4161" stop-color="#3f62ab"/><stop offset="0.4781" stop-color="#3c59a6"/><stop offset="0.6569" stop-color="#313695"/><stop offset="1.0000" stop-color="#313695"/></linearGradient><linearGradient id="g1_3" x1="0" y1="0" x2="0" y2="1"><stop offset="0.0000" stop-color="#313695"/><stop offset="0.1460" stop-color="#323896"/><stop offset="0.2336" stop-color="#3d5ba7"/><stop offset="0.2920" stop-color="#4065ac"/><stop offset="0.4015" stop-color="#4065ac"/><stop offset="0.4380" stop-color="#3e60aa"/><stop offset="0.5292" stop-color="#394fa1"/><stop offset="0.6569" stop-color="#313695"/><stop offset="1.0000" stop-color="#313695"/></linearGradient><linearGradient id="g1_4" x1="0" y1="0" x2="0" y2="1"><stop offset="0.0000" stop-color="#313695"/><stop offset="0.1496" stop-color="#323896"/><stop offset="0.1825" stop-color="#36479e"/><stop offset="0.2299" stop-color="#3d5ba7"/><stop offset="0.2774" stop-color="#4065ac"/><stop offset="0.4088" stop-color="#4065ac"/><stop offset="0.5292" stop-color="#394fa1"/><stop offset="0.6496" stop-color="#313695"/><stop offset="1.0000" stop-color="#313695"/></linearGradient><linearGradient id="g1_5" x1="0" y1="0" x2="0" y2="1"><stop offset="0.0000" stop-color="#313695"/><stop offset="0.1533" stop-color="#323896"/><stop offset="0.1825" stop-color="#36479e"/><stop offset="0.2226" stop-color="#3d5ba7"/><stop offset="0.2737" stop-color="#4167ad"/><stop offset="0.3394" stop-color="#416aaf"/><stop offset="0.3613" stop-color="#4167ad"/><stop offset="0.4161" stop-color="#4065ac"/><stop offset="0.5073" stop-color="#3a54a4"/><stop offset="0.5511" stop-color="#374a9f"/><stop offset="0.6533" stop-color="#313695"/><stop offset="1.0000" stop-color="#313695"/></linearGradient><linearGradient id="g1_6" x1="0" y1="0" x2="0" y2="1"><stop offset="0.0000" stop-color="#313695"/><stop offset="0.1642" stop-color="#323896"/><stop offset="0.2044" stop-color="#3b56a5"/><stop offset="0.2555" stop-color="#4167ad"/><stop offset="0.3102" stop-color="#426cb0"/><stop offset="0.3613" stop-color="#416aaf"/><stop offset="0.3832" stop-color="#4167ad"/><stop offset="0.4270" stop-color="#4065ac"/><stop offset="0.5511" stop-color="#374a9f"/><stop offset="0.6533" stop-color="#313695"/><stop offset="1.0000" stop-color="#313695"/></linearGradient><linearGradient id="g1_7" x1="0" y1="0" x2="0" y2="1"><stop offset="0.0000" stop-color="#313695"/><stop offset="0.1642" stop-color="#323896"/><stop offset="0.1934" stop-color="#3a51a2"/><stop offset="0.2263" stop-color="#3f62ab"/><stop offset="0.2701" stop-color="#426cb0"/><stop offset="0.3029" stop-color="#436fb1"/><stop offset="0.3248" stop-color="#426cb0"/><stop offset="0.3759" stop-color="#416aaf"/><stop offset="0.3978" stop-color="#4167ad"/><stop offset="0.4380" stop-color="#4065ac"/><stop offset="0.4818" stop-color="#3c59a6"/><stop offset="0.5985" stop-color="#34409a"/><stop offset="0.6496" stop-color="#313695"/><stop offset="1.0000" stop-color="#313695"/></linearGradient><linearGradient id="g1_8" x1="0" y1="0" x2="0" y2="1"><stop offset="0.0000" stop-color="#313695"/><stop offset="0.1350" stop-color="#323896"/><stop offset="0.1679" stop-color="#36479e"/><stop offset="0.2044" stop-color="#3e5ea8"/><stop offset="0.2409" stop-color="#416aaf"/><stop offset="0.2920" stop-color="#4574b3"/><stop offset="0.3358" stop-color="#426cb0"/><stop offset="0.3942" stop-color="#416aaf"/><stop offset="0.4161" stop-color="#4167ad"/><stop offset="0.4270" stop-color="#416aaf"/><stop offset="0.4635" stop-color="#3e5ea8"/><stop offset="0.5730" stop-color="#36459c"/><stop offset="0.6496" stop-color="#313695"/><stop offset="1.0000" stop-color="#313695"/></linearGradient><linearGradient id="g1_9" x1="0" y1="0" x2="0" y2="1"><stop offset="0.0000" stop-color="#313695"/><stop offset="0.1058" stop-color="#323896"/><stop offset="0.1679" stop-color="#3a51a2"/><stop offset="0.2044" stop-color="#3f62ab"/><stop offset="0.2299" stop-color="#416aaf"/><stop offset="0.2847" stop-color="#4676b5"/><stop offset="0.3248" stop-color="#436fb1"/><stop offset="0.3978" stop-color="#416aaf"/><stop offset="0.4270" stop-color="#416aaf"/><stop offset="0.4635" stop-color="#3e5ea8"/><stop offset="0.5949" stop-color="#34409a"/><stop offset="0.6460" stop-color="#313695"/><stop offset="1.0000" stop-color="#313695"/></linearGradient><linearGradient id="g1_10" x1="0" y1="0" x2="0" y2="1"><stop offset="0.0000" stop-color="#313695"/><stop offset="0.0839" stop-color="#323896"/><stop offset="0.2007" stop-color="#4167ad"/><stop offset="0.2701" stop-color="#4878b6"/><stop offset="0.3358" stop-color="#436fb1"/><stop offset="0.4088" stop-color="#416aaf"/><stop offset="0.4343" stop-color="#4167ad"/><stop offset="0.5036" stop-color="#3a54a4"/><stop offset="0.5949" stop-color="#34409a"/><stop offset="0.6460" stop-color="#313695"/><stop offset="1.0000" stop-color="#313695"/></linearGradient><linearGradient id="g1_11" x1="0" y1="0" x2="0" y2="1"><stop offset="0.0000" stop-color="#313695"/><stop offset="0.0693" stop-color="#323896"/><stop offset="0.1022" stop-color="#374a9f"/><stop offset="0.1642" stop-color="#3f62ab"/><stop offset="0.1898" stop-color="#416aaf"/><stop offset="0.2628" stop-color="#4878b6"/><stop offset="0.3686" stop-color="#426cb0"/><stop offset="0.4270" stop-color="#416aaf"/><stop offset="0.4635" stop-color="#3e5ea8"/><stop offset="0.6168" stop-color="#333b97"/><stop offset="0.6533" stop-color="#313695"/><stop offset="1.0000" stop-color="#313695"/></linearGradient><linearGradient id="g1_12" x1="0" y1="0" x2="0" y2="1"><stop offset="0.0000" stop-color="#313695"/><stop offset="0.0547" stop-color="#323896"/><stop offset="0.1204" stop-color="#3d5ba7"/><stop offset="0.1569" stop-color="#416aaf"/><stop offset="0.2007" stop-color="#4471b2"/><stop offset="0.2518" stop-color="#4a7ab7"/><stop offset="0.3759" stop-color="#426cb0"/><stop offset="0.4234" stop-color="#416aaf"/><stop offset="0.5036" stop-color="#3a54a4"/><stop offset="0.5693" stop-color="#36459c"/><stop offset="0.6423" stop-color="#313695"/><stop offset="1.0000" stop-color="#313695"/></linearGradient><linearGradient id="g1_13" x1="0" y1="0" x2="0" y2="1"><stop offset="0.0000" stop-color="#313695"/><stop offset="0.0474" stop-color="#323896"/><stop offset="0.0912" stop-color="#3a54a4"/><stop offset="0.1204" stop-color="#4065ac"/><stop offset="0.1423" stop-color="#416aaf"/><stop offset="0.2007" stop-color="#4878b6"/><stop offset="0.2409" stop-color="#4b7db8"/><stop offset="0.3066" stop-color="#4574b3"/><stop offset="0.3796" stop-color="#426cb0"/><stop offset="0.4197" stop-color="#416aaf"/><stop offset="0.4635" stop-color="#3e5ea8"/><stop offset="0.5438" stop-color="#374a9f"/><stop offset="0.6387" stop-color="#313695"/><stop offset="1.0000" stop-color="#313695"/></linearGradient><linearGradient id="g1_14" x1="0" y1="0" x2="0" y2="1"><stop offset="0.0000" stop-color="#313695"/><stop offset="0.0401" stop-color="#313695"/><stop offset="0.0912" stop-color="#3e5ea8"/><stop offset="0.1131" stop-color="#416aaf"/><stop offset="0.1387" stop-color="#436fb1"/><stop offset="0.1825" stop-color="#4a7ab7"/><stop offset="0.2153" stop-color="#4d7fb9"/><stop offset="0.3504" stop-color="#436fb1"/><stop offset="0.4124" stop-color="#416aaf"/><stop offset="0.5219" stop-color="#394fa1"/><stop offset="0.6350" stop-color="#313695"/><stop offset="1.0000" stop-color="#313695"/></linearGradient><linearGradient id="g1_15" x1="0" y1="0" x2="0" y2="1"><stop offset="0.0000" stop-color="#313695"/><stop offset="0.0365" stop-color="#323896"/><stop offset="0.0949" stop-color="#416aaf"/><stop offset="0.1825" stop-color="#4f81ba"/><stop offset="0.2372" stop-color="#4b7db8"/><stop offset="0.2737" stop-color="#4878b6"/><stop offset="0.3796" stop-color="#426cb0"/><stop offset="0.4197" stop-color="#4167ad"/><stop offset="0.5438" stop-color="#374a9f"/><stop offset="0.5876" stop-color="#34409a"/><stop offset="0.6387" stop-color="#313695"/><stop offset="1.0000" stop-color="#313695"/></linearGradient><linearGradient id="g1_16" x1="0" y1="0" x2="0" y2="1"><stop offset="0.0000" stop-color="#313695"/><stop offset="0.0328" stop-color="#323896"/><stop offset="0.0839" stop-color="#416aaf"/><stop offset="0.1496" stop-color="#4f81ba"/><stop offset="0.1934" stop-color="#4f81ba"/><stop offset="0.3139" stop-color="#4574b3"/><stop offset="0.3504" stop-color="#436fb1"/><stop offset="0.4161" stop-color="#4167ad"/><stop offset="0.6314" stop-color="#313695"/><stop offset="1.0000" stop-color="#313695"/></linearGradient><linearGradient id="g1_17" x1="0" y1="0" x2="0" y2="1"><stop offset="0.0000" stop-color="#313695"/><stop offset="0.0292" stop-color="#323896"/><stop offset="0.0766" stop-color="#416aaf"/><stop offset="0.1241" stop-color="#4d7fb9"/><stop offset="0.1533" stop-color="#5183bb"/><stop offset="0.2409" stop-color="#4b7db8"/><stop offset="0.2920" stop-color="#4676b5"/><stop offset="0.3942" stop-color="#416aaf"/><stop offset="0.6314" stop-color="#313695"/><stop offset="1.0000" stop-color="#313695"/></linearGradient><linearGradient id="g1_18" x1="0" y1="0" x2="0" y2="1"><stop offset="0.0000" stop-color="#313695"/><stop offset="0.0255" stop-color="#323896"/><stop offset="0.0438" stop-color="#374a9f"/><stop offset="0.0730" stop-color="#416aaf"/><stop offset="0.1204" stop-color="#5183bb"/><stop offset="0.1752" stop-color="#5183bb"/><stop offset="0.2409" stop-color="#4b7db8"/><stop offset="0.2774" stop-color="#4878b6"/><stop offset="0.3942" stop-color="#416aaf"/><stop offset="0.6277" stop-color="#313695"/><stop offset="1.0000" stop-color="#313695"/></linearGradient><linearGradient id="g1_19" x1="0" y1="0" x2="0" y2="1"><stop offset="0.0000" stop-color="#313695"/><stop offset="0.0255" stop-color="#313695"/><stop offset="0.0693" stop-color="#426cb0"/><stop offset="0.0766" stop-color="#4471b2"/><stop offset="0.1168" stop-color="#5588be"/><stop offset="0.1387" stop-color="#5385bd"/><stop offset="0.2445" stop-color="#4b7db8"/><stop offset="0.2956" stop-color="#4676b5"/><stop offset="0.4161" stop-color="#4065ac"/><stop offset="0.6277" stop-color="#313695"/><stop offset="1.0000" stop-color="#313695"/></linearGradient><linearGradient id="g1_20" x1="0" y1="0" x2="0" y2="1"><stop offset="0.0000" stop-color="#313695"/><stop offset="0.0292" stop-color="#313695"/><stop offset="0.0584" stop-color="#4167ad"/><stop offset="0.0766" stop-color="#4574b3"/><stop offset="0.1058" stop-color="#5588be"/><stop offset="0.1314" stop-color="#5588be"/><stop offset="0.1533" stop-color="#5385bd"/><stop offset="0.2482" stop-color="#4b7db8"/><stop offset="0.3139" stop-color="#4574b3"/><stop offset="0.4015" stop-color="#4167ad"/><stop offset="0.6241" stop-color="#313695"/><stop offset="1.0000" stop-color="#313695"/></linearGradient><linearGradient id="g1_21" x1="0" y1="0" x2="0" y2="1"><stop offset="0.0000" stop-color="#313695"/><stop offset="0.0292" stop-color="#313695"/><stop offset="0.0511" stop-color="#3e60aa"/><stop offset="0.0547" stop-color="#416aaf"/><stop offset="0.0620" stop-color="#426cb0"/><stop offset="0.0985" stop-color="#578abf"/><stop offset="0.1460" stop-color="#5588be"/><stop offset="0.1679" stop-color="#5385bd"/><stop offset="0.2482" stop-color="#4b7db8"/><stop offset="0.3139" stop-color="#4574b3"/><stop offset="0.4124" stop-color="#4065ac"/><stop offset="0.6241" stop-color="#313695"/><stop offset="1.0000" stop-color="#313695"/></linearGradient><linearGradient id="g1_22" x1="0" y1="0" x2="0" y2="1"><stop offset="0.0000" stop-color="#313695"/><stop offset="0.0328" stop-color="#323896"/><stop offset="0.0511" stop-color="#4065ac"/><stop offset="0.0730" stop-color="#4d7fb9"/><stop offset="0.0949" stop-color="#578abf"/><stop offset="0.1569" stop-color="#5588be"/><stop offset="0.1934" stop-color="#5183bb"/><stop offset="0.3467" stop-color="#436fb1"/><stop offset="0.4672" stop-color="#3c59a6"/><stop offset="0.6204" stop-color="#313695"/><stop offset="1.0000" stop-color="#313695"/></linearGradient><linearGradient id="g1_23" x1="0" y1="0" x2="0" y2="1"><stop offset="0.0000" stop-color="#313695"/><stop offset="0.0365" stop-color="#323896"/><stop offset="0.0438" stop-color="#3a51a2"/><stop offset="0.0511" stop-color="#4471b2"/><stop offset="0.0547" stop-color="#4b7db8"/><stop offset="0.0876" stop-color="#588cc0"/><stop offset="0.1642" stop-color="#5588be"/><stop offset="0.2153" stop-color="#4f81ba"/><stop offset="0.3796" stop-color="#416aaf"/><stop offset="0.5328" stop-color="#374a9f"/><stop offset="0.6204" stop-color="#313695"/><stop offset="1.0000" stop-color="#313695"/></linearGradient><linearGradient id="g1_24" x1="0" y1="0" x2="0" y2="1"><stop offset="0.0000" stop-color="#313695"/><stop offset="0.0401" stop-color="#313695"/><stop offset="0.0511" stop-color="#4878b6"/><stop offset="0.0547" stop-color="#6095c4"/><stop offset="0.0693" stop-color="#588cc0"/><stop offset="0.1314" stop-color="#588cc0"/><stop offset="0.3175" stop-color="#4574b3"/><stop offset="0.4635" stop-color="#3c59a6"/><stop offset="0.6168" stop-color="#313695"/><stop offset="1.0000" stop-color="#313695"/></linearGradient><linearGradient id="g1_25" x1="0" y1="0" x2="0" y2="1"><stop offset="0.0000" stop-color="#313695"/><stop offset="0.0365" stop-color="#313695"/><stop offset="0.0401" stop-color="#34409a"/><stop offset="0.0438" stop-color="#416aaf"/><stop offset="0.0474" stop-color="#416aaf"/><stop offset="0.0511" stop-color="#4878b6"/><stop offset="0.0547" stop-color="#6095c4"/><stop offset="0.0803" stop-color="#5a8ec1"/><stop offset="0.1241" stop-color="#5a8ec1"/><stop offset="0.3212" stop-color="#4574b3"/><stop offset="0.4635" stop-color="#3c59a6"/><stop offset="0.6168" stop-color="#313695"/><stop offset="1.0000" stop-color="#313695"/></linearGradient><linearGradient id="g1_26" x1="0" y1="0" x2="0" y2="1"><stop offset="0.0000" stop-color="#313695"/><stop offset="0.0365" stop-color="#313695"/><stop offset="0.0401" stop-color="#34409a"/><stop offset="0.0438" stop-color="#416aaf"/><stop offset="0.0511" stop-color="#5385bd"/><stop offset="0.0547" stop-color="#6095c4"/><stop offset="0.1022" stop-color="#5e93c3"/><stop offset="0.3321" stop-color="#4471b2"/><stop offset="0.4599" stop-color="#3c59a6"/><stop offset="0.6168" stop-color="#313695"/><stop offset="1.0000" stop-color="#313695"/></linearGradient><linearGradient id="g1_27" x1="0" y1="0" x2="0" y2="1"><stop offset="0.0000" stop-color="#313695"/><stop offset="0.0365" stop-color="#313695"/><stop offset="0.0401" stop-color="#34409a"/><stop offset="0.0438" stop-color="#416aaf"/><stop offset="0.0474" stop-color="#4878b6"/><stop offset="0.0547" stop-color="#6095c4"/><stop offset="0.0839" stop-color="#659bc8"/><stop offset="0.1277" stop-color="#5c90c2"/><stop offset="0.3321" stop-color="#4471b2"/><stop offset="0.4599" stop-color="#3c59a6"/><stop offset="0.6131" stop-color="#313695"/><stop offset="1.0000" stop-color="#313695"/></linearGradient><linearGradient id="g1_28" x1="0" y1="0" x2="0" y2="1"><stop offset="0.0000" stop-color="#313695"/><stop offset="0.0365" stop-color="#313695"/><stop offset="0.0401" stop-color="#34409a"/><stop offset="0.0438" stop-color="#416aaf"/><stop offset="0.0474" stop-color="#4878b6"/><stop offset="0.0547" stop-color="#6095c4"/><stop offset="0.0876" stop-color="#659bc8"/><stop offset="0.1642" stop-color="#588cc0"/><stop offset="0.3321" stop-color="#4471b2"/><stop offset="0.4599" stop-color="#3c59a6"/><stop offset="0.6131" stop-color="#313695"/><stop offset="1.0000" stop-color="#313695"/></linearGradient><linearGradient id="g1_29" x1="0" y1="0" x2="0" y2="1"><stop offset="0.0000" stop-color="#313695"/><stop offset="0.0365" stop-color="#313695"/><stop offset="0.0401" stop-color="#34409a"/><stop offset="0.0438" stop-color="#416aaf"/><stop offset="0.0474" stop-color="#4878b6"/><stop offset="0.0547" stop-color="#6095c4"/><stop offset="0.0803" stop-color="#679ec9"/><stop offset="0.1314" stop-color="#5e93c3"/><stop offset="0.2372" stop-color="#4f81ba"/><stop offset="0.3613" stop-color="#426cb0"/><stop offset="0.5876" stop-color="#333b97"/><stop offset="0.6168" stop-color="#313695"/><stop offset="1.0000" stop-color="#313695"/></linearGradient><linearGradient id="g1_30" x1="0" y1="0" x2="0" y2="1"><stop offset="0.0000" stop-color="#313695"/><stop offset="0.0365" stop-color="#313695"/><stop offset="0.0401" stop-color="#34409a"/><stop offset="0.0438" stop-color="#416aaf"/><stop offset="0.0474" stop-color="#4878b6"/><stop offset="0.0547" stop-color="#6095c4"/><stop offset="0.0839" stop-color="#679ec9"/><stop offset="0.2263" stop-color="#5183bb"/><stop offset="0.3431" stop-color="#436fb1"/><stop offset="0.4015" stop-color="#4065ac"/><stop offset="0.6095" stop-color="#313695"/><stop offset="1.0000" stop-color="#313695"/></linearGradient><linearGradient id="g1_31" x1="0" y1="0" x2="0" y2="1"><stop offset="0.0000" stop-color="#313695"/><stop offset="0.0328" stop-color="#313695"/><stop offset="0.0365" stop-color="#333d99"/><stop offset="0.0438" stop-color="#416aaf"/><stop offset="0.0547" stop-color="#6095c4"/><stop offset="0.0766" stop-color="#679ec9"/><stop offset="0.1460" stop-color="#5e93c3"/><stop offset="0.2409" stop-color="#4f81ba"/><stop offset="0.3504" stop-color="#436fb1"/><stop offset="0.5401" stop-color="#36459c"/><stop offset="0.6058" stop-color="#313695"/><stop offset="1.0000" stop-color="#313695"/></linearGradient><linearGradient id="g1_32" x1="0" y1="0" x2="0" y2="1"><stop offset="0.0000" stop-color="#313695"/><stop offset="0.0328" stop-color="#313695"/><stop offset="0.0365" stop-color="#34409a"/><stop offset="0.0438" stop-color="#416aaf"/><stop offset="0.0474" stop-color="#5588be"/><stop offset="0.0511" stop-color="#6095c4"/><stop offset="0.0803" stop-color="#69a0ca"/><stop offset="0.2445" stop-color="#4f81ba"/><stop offset="0.3504" stop-color="#436fb1"/><stop offset="0.4526" stop-color="#3c59a6"/><stop offset="0.6058" stop-color="#313695"/><stop offset="1.0000" stop-color="#313695"/></linearGradient><linearGradient id="g1_33" x1="0" y1="0" x2="0" y2="1"><stop offset="0.0000" stop-color="#313695"/><stop offset="0.0328" stop-color="#313695"/><stop offset="0.0365" stop-color="#34409a"/><stop offset="0.0438" stop-color="#416aaf"/><stop offset="0.0474" stop-color="#5588be"/><stop offset="0.0511" stop-color="#6095c4"/><stop offset="0.0803" stop-color="#69a0ca"/><stop offset="0.2591" stop-color="#4d7fb9"/><stop offset="0.3759" stop-color="#416aaf"/><stop offset="0.5584" stop-color="#34409a"/><stop offset="0.6022" stop-color="#313695"/><stop offset="1.0000" stop-color="#313695"/></linearGradient><linearGradient id="g1_34" x1="0" y1="0" x2="0" y2="1"><stop offset="0.0000" stop-color="#313695"/><stop offset="0.0328" stop-color="#313695"/><stop offset="0.0365" stop-color="#34409a"/><stop offset="0.0438" stop-color="#416aaf"/><stop offset="0.0474" stop-color="#5588be"/><stop offset="0.0511" stop-color="#6095c4"/><stop offset="0.0766" stop-color="#69a0ca"/><stop offset="0.1350" stop-color="#6297c6"/><stop offset="0.2847" stop-color="#4a7ab7"/><stop offset="0.4015" stop-color="#4065ac"/><stop offset="0.5766" stop-color="#333b97"/><stop offset="0.6131" stop-color="#313695"/><stop offset="1.0000" stop-color="#313695"/></linearGradient><linearGradient id="g1_35" x1="0" y1="0" x2="0" y2="1"><stop offset="0.0000" stop-color="#313695"/><stop offset="0.0328" stop-color="#313695"/><stop offset="0.0365" stop-color="#36459c"/><stop offset="0.0401" stop-color="#3d5ba7"/><stop offset="0.0438" stop-color="#416aaf"/><stop offset="0.0474" stop-color="#5588be"/><stop offset="0.0511" stop-color="#6095c4"/><stop offset="0.0803" stop-color="#6ba2cb"/><stop offset="0.2737" stop-color="#4b7db8"/><stop offset="0.4015" stop-color="#4065ac"/><stop offset="0.5109" stop-color="#374a9f"/><stop offset="0.5985" stop-color="#313695"/><stop offset="1.0000" stop-color="#313695"/></linearGradient><linearGradient id="g1_36" x1="0" y1="0" x2="0" y2="1"><stop offset="0.0000" stop-color="#313695"/><stop offset="0.0328" stop-color="#313695"/><stop offset="0.0401" stop-color="#4471b2"/><stop offset="0.0474" stop-color="#5a8ec1"/><stop offset="0.0547" stop-color="#6297c6"/><stop offset="0.0766" stop-color="#6ba2cb"/><stop offset="0.1606" stop-color="#5e93c3"/><stop offset="0.3212" stop-color="#4574b3"/><stop offset="0.3978" stop-color="#4065ac"/><stop offset="0.5949" stop-color="#313695"/><stop offset="1.0000" stop-color="#313695"/></linearGradient><linearGradient id="g1_37" x1="0" y1="0" x2="0" y2="1"><stop offset="0.0000" stop-color="#313695"/><stop offset="0.0328" stop-color="#313695"/><stop offset="0.0401" stop-color="#4471b2"/><stop offset="0.0474" stop-color="#5a8ec1"/><stop offset="0.0511" stop-color="#6297c6"/><stop offset="0.0766" stop-color="#6da4cc"/><stop offset="0.2628" stop-color="#4d7fb9"/><stop offset="0.3796" stop-color="#416aaf"/><stop offset="0.4161" stop-color="#3e60aa"/><stop offset="0.5730" stop-color="#333b97"/><stop offset="0.6022" stop-color="#313695"/><stop offset="1.0000" stop-color="#313695"/></linearGradient><linearGradient id="g1_38" x1="0" y1="0" x2="0" y2="1"><stop offset="0.0000" stop-color="#313695"/><stop offset="0.0328" stop-color="#313695"/><stop offset="0.0401" stop-color="#4471b2"/><stop offset="0.0474" stop-color="#5a8ec1"/><stop offset="0.0511" stop-color="#6297c6"/><stop offset="0.0766" stop-color="#6da4cc"/><stop offset="0.2883" stop-color="#4a7ab7"/><stop offset="0.3978" stop-color="#4065ac"/><stop offset="0.5073" stop-color="#374a9f"/><stop offset="0.5949" stop-color="#313695"/><stop offset="1.0000" stop-color="#313695"/></linearGradient><linearGradient id="g1_39" x1="0" y1="0" x2="0" y2="1"><stop offset="0.0000" stop-color="#313695"/><stop offset="0.0292" stop-color="#313695"/><stop offset="0.0328" stop-color="#36479e"/><stop offset="0.0401" stop-color="#4878b6"/><stop offset="0.0438" stop-color="#6095c4"/><stop offset="0.0584" stop-color="#659bc8"/><stop offset="0.0693" stop-color="#6da4cc"/><stop offset="0.1679" stop-color="#5e93c3"/><stop offset="0.2664" stop-color="#4d7fb9"/><stop offset="0.3613" stop-color="#426cb0"/><stop offset="0.3978" stop-color="#4065ac"/><stop offset="0.5474" stop-color="#34409a"/><stop offset="0.5949" stop-color="#313695"/><stop offset="1.0000" stop-color="#313695"/></linearGradient><linearGradient id="g1_40" x1="0" y1="0" x2="0" y2="1"><stop offset="0.0000" stop-color="#313695"/><stop offset="0.0292" stop-color="#313695"/><stop offset="0.0401" stop-color="#4878b6"/><stop offset="0.0438" stop-color="#6095c4"/><stop offset="0.0730" stop-color="#6da4cc"/><stop offset="0.1715" stop-color="#5e93c3"/><stop offset="0.2445" stop-color="#5183bb"/><stop offset="0.3467" stop-color="#436fb1"/><stop offset="0.3978" stop-color="#4065ac"/><stop offset="0.5255" stop-color="#36459c"/><stop offset="0.5912" stop-color="#313695"/><stop offset="1.0000" stop-color="#313695"/></linearGradient><linearGradient id="g1_41" x1="0" y1="0" x2="0" y2="1"><stop offset="0.0000" stop-color="#313695"/><stop offset="0.0292" stop-color="#313695"/><stop offset="0.0401" stop-color="#4878b6"/><stop offset="0.0438" stop-color="#6095c4"/><stop offset="0.0730" stop-color="#6ea6ce"/><stop offset="0.3248" stop-color="#4574b3"/><stop offset="0.3759" stop-color="#416aaf"/><stop offset="0.5036" stop-color="#374a9f"/><stop offset="0.5912" stop-color="#313695"/><stop offset="1.0000" stop-color="#313695"/></linearGradient><linearGradient id="g1_42" x1="0" y1="0" x2="0" y2="1"><stop offset="0.0000" stop-color="#313695"/><stop offset="0.0292" stop-color="#323896"/><stop offset="0.0328" stop-color="#3a51a2"/><stop offset="0.0401" stop-color="#4878b6"/><stop offset="0.0438" stop-color="#6095c4"/><stop offset="0.0730" stop-color="#6ea6ce"/><stop offset="0.3248" stop-color="#4574b3"/><stop offset="0.3942" stop-color="#4065ac"/><stop offset="0.5839" stop-color="#313695"/><stop offset="1.0000" stop-color="#313695"/></linearGradient><linearGradient id="g1_43" x1="0" y1="0" x2="0" y2="1"><stop offset="0.0000" stop-color="#313695"/><stop offset="0.0255" stop-color="#313695"/><stop offset="0.0292" stop-color="#34409a"/><stop offset="0.0328" stop-color="#416aaf"/><stop offset="0.0401" stop-color="#5385bd"/><stop offset="0.0438" stop-color="#6095c4"/><stop offset="0.0730" stop-color="#6ea6ce"/><stop offset="0.1752" stop-color="#5e93c3"/><stop offset="0.2774" stop-color="#4b7db8"/><stop offset="0.4015" stop-color="#3f62ab"/><stop offset="0.5620" stop-color="#333b97"/><stop offset="0.5912" stop-color="#313695"/><stop offset="1.0000" stop-color="#313695"/></linearGradient><linearGradient id="g1_44" x1="0" y1="0" x2="0" y2="1"><stop offset="0.0000" stop-color="#313695"/><stop offset="0.0255" stop-color="#313695"/><stop offset="0.0292" stop-color="#34409a"/><stop offset="0.0328" stop-color="#416aaf"/><stop offset="0.0365" stop-color="#4878b6"/><stop offset="0.0438" stop-color="#6095c4"/><stop offset="0.0730" stop-color="#70a9cf"/><stop offset="0.3212" stop-color="#4574b3"/><stop offset="0.3905" stop-color="#4065ac"/><stop offset="0.5401" stop-color="#34409a"/><stop offset="0.5839" stop-color="#313695"/><stop offset="1.0000" stop-color="#313695"/></linearGradient><linearGradient id="g1_45" x1="0" y1="0" x2="0" y2="1"><stop offset="0.0000" stop-color="#313695"/><stop offset="0.0255" stop-color="#313695"/><stop offset="0.0292" stop-color="#34409a"/><stop offset="0.0328" stop-color="#416aaf"/><stop offset="0.0365" stop-color="#4878b6"/><stop offset="0.0438" stop-color="#6095c4"/><stop offset="0.0730" stop-color="#70a9cf"/><stop offset="0.3212" stop-color="#4574b3"/><stop offset="0.4380" stop-color="#3c59a6"/><stop offset="0.5803" stop-color="#313695"/><stop offset="1.0000" stop-color="#313695"/></linearGradient><linearGradient id="g1_46" x1="0" y1="0" x2="0" y2="1"><stop offset="0.0000" stop-color="#313695"/><stop offset="0.0255" stop-color="#313695"/><stop offset="0.0292" stop-color="#34409a"/><stop offset="0.0328" stop-color="#416aaf"/><stop offset="0.0365" stop-color="#4878b6"/><stop offset="0.0438" stop-color="#6095c4"/><stop offset="0.0730" stop-color="#70a9cf"/><stop offset="0.3212" stop-color="#4574b3"/><stop offset="0.4161" stop-color="#3e5ea8"/><stop offset="0.5803" stop-color="#313695"/><stop offset="1.0000" stop-color="#313695"/></linearGradient><linearGradient id="g1_47" x1="0" y1="0" x2="0" y2="1"><stop offset="0.0000" stop-color="#313695"/><stop offset="0.0255" stop-color="#313695"/><stop offset="0.0292" stop-color="#34409a"/><stop offset="0.0328" stop-color="#416aaf"/><stop offset="0.0365" stop-color="#4878b6"/><stop offset="0.0438" stop-color="#6095c4"/><stop offset="0.0730" stop-color="#72abd0"/><stop offset="0.3102" stop-color="#4676b5"/><stop offset="0.3869" stop-color="#4065ac"/><stop offset="0.5766" stop-color="#313695"/><stop offset="1.0000" stop-color="#313695"/></linearGradient><linearGradient id="g1_48" x1="0" y1="0" x2="0" y2="1"><stop offset="0.0000" stop-color="#313695"/><stop offset="0.0255" stop-color="#313695"/><stop offset="0.0292" stop-color="#34409a"/><stop offset="0.0328" stop-color="#416aaf"/><stop offset="0.0365" stop-color="#4878b6"/><stop offset="0.0438" stop-color="#6095c4"/><stop offset="0.0693" stop-color="#72abd0"/><stop offset="0.3248" stop-color="#4471b2"/><stop offset="0.3832" stop-color="#4065ac"/><stop offset="0.5766" stop-color="#313695"/><stop offset="1.0000" stop-color="#313695"/></linearGradient><linearGradient id="g1_49" x1="0" y1="0" x2="0" y2="1"><stop offset="0.0000" stop-color="#313695"/><stop offset="0.0255" stop-color="#313695"/><stop offset="0.0292" stop-color="#34409a"/><stop offset="0.0328" stop-color="#416aaf"/><stop offset="0.0365" stop-color="#4878b6"/><stop offset="0.0438" stop-color="#6095c4"/><stop offset="0.0693" stop-color="#72abd0"/><stop offset="0.1350" stop-color="#679ec9"/><stop offset="0.2299" stop-color="#5588be"/><stop offset="0.3285" stop-color="#4471b2"/><stop offset="0.4526" stop-color="#3a54a4"/><stop offset="0.5730" stop-color="#313695"/><stop offset="1.0000" stop-color="#313695"/></linearGradient><linearGradient id="g1_50" x1="0" y1="0" x2="0" y2="1"><stop offset="0.0000" stop-color="#313695"/><stop offset="0.0219" stop-color="#313695"/><stop offset="0.0255" stop-color="#333d99"/><stop offset="0.0328" stop-color="#416aaf"/><stop offset="0.0365" stop-color="#4878b6"/><stop offset="0.0438" stop-color="#6095c4"/><stop offset="0.0730" stop-color="#74add1"/><stop offset="0.3175" stop-color="#4574b3"/><stop offset="0.5109" stop-color="#36459c"/><stop offset="0.5730" stop-color="#313695"/><stop offset="1.0000" stop-color="#313695"/></linearGradient><linearGradient id="g1_51" x1="0" y1="0" x2="0" y2="1"><stop offset="0.0000" stop-color="#313695"/><stop offset="0.0219" stop-color="#313695"/><stop offset="0.0255" stop-color="#34409a"/><stop offset="0.0328" stop-color="#416aaf"/><stop offset="0.0365" stop-color="#4878b6"/><stop offset="0.0438" stop-color="#6095c4"/><stop offset="0.0730" stop-color="#74add1"/><stop offset="0.3212" stop-color="#4471b2"/><stop offset="0.3796" stop-color="#4065ac"/><stop offset="0.5730" stop-color="#313695"/><stop offset="1.0000" stop-color="#313695"/></linearGradient><linearGradient id="g1_52" x1="0" y1="0" x2="0" y2="1"><stop offset="0.0000" stop-color="#313695"/><stop offset="0.0219" stop-color="#313695"/><stop offset="0.0255" stop-color="#34409a"/><stop offset="0.0328" stop-color="#416aaf"/><stop offset="0.0365" stop-color="#4878b6"/><stop offset="0.0438" stop-color="#6095c4"/><stop offset="0.0693" stop-color="#74add1"/><stop offset="0.1861" stop-color="#5e93c3"/><stop offset="0.3212" stop-color="#4471b2"/><stop offset="0.4489" stop-color="#3a54a4"/><stop offset="0.5693" stop-color="#313695"/><stop offset="1.0000" stop-color="#313695"/></linearGradient><linearGradient id="g1_53" x1="0" y1="0" x2="0" y2="1"><stop offset="0.0000" stop-color="#313695"/><stop offset="0.0219" stop-color="#313695"/><stop offset="0.0255" stop-color="#34409a"/><stop offset="0.0328" stop-color="#416aaf"/><stop offset="0.0438" stop-color="#6095c4"/><stop offset="0.0730" stop-color="#76afd2"/><stop offset="0.1387" stop-color="#679ec9"/><stop offset="0.3212" stop-color="#4471b2"/><stop offset="0.4270" stop-color="#3c59a6"/><stop offset="0.5693" stop-color="#313695"/><stop offset="1.0000" stop-color="#313695"/></linearGradient><linearGradient id="g1_54" x1="0" y1="0" x2="0" y2="1"><stop offset="0.0000" stop-color="#313695"/><stop offset="0.0219" stop-color="#313695"/><stop offset="0.0255" stop-color="#34409a"/><stop offset="0.0328" stop-color="#416aaf"/><stop offset="0.0365" stop-color="#5588be"/><stop offset="0.0401" stop-color="#6095c4"/><stop offset="0.0474" stop-color="#6399c7"/><stop offset="0.0730" stop-color="#76afd2"/><stop offset="0.2774" stop-color="#4b7db8"/><stop offset="0.3942" stop-color="#3e60aa"/><stop offset="0.5657" stop-color="#313695"/><stop offset="1.0000" stop-color="#313695"/></linearGradient><linearGradient id="g1_55" x1="0" y1="0" x2="0" y2="1"><stop offset="0.0000" stop-color="#313695"/><stop offset="0.0219" stop-color="#313695"/><stop offset="0.0255" stop-color="#34409a"/><stop offset="0.0328" stop-color="#416aaf"/><stop offset="0.0365" stop-color="#5588be"/><stop offset="0.0401" stop-color="#6297c6"/><stop offset="0.0693" stop-color="#76afd2"/><stop offset="0.3139" stop-color="#4574b3"/><stop offset="0.3504" stop-color="#416aaf"/><stop offset="0.5036" stop-color="#36459c"/><stop offset="0.5657" stop-color="#313695"/><stop offset="1.0000" stop-color="#313695"/></linearGradient><linearGradient id="g1_56" x1="0" y1="0" x2="0" y2="1"><stop offset="0.0000" stop-color="#313695"/><stop offset="0.0219" stop-color="#313695"/><stop offset="0.0255" stop-color="#34409a"/><stop offset="0.0328" stop-color="#416aaf"/><stop offset="0.0365" stop-color="#5588be"/><stop offset="0.0401" stop-color="#6297c6"/><stop offset="0.0693" stop-color="#76afd2"/><stop offset="0.1022" stop-color="#70a9cf"/><stop offset="0.2336" stop-color="#5588be"/><stop offset="0.3248" stop-color="#436fb1"/><stop offset="0.4234" stop-color="#3c59a6"/><stop offset="0.5401" stop-color="#333b97"/><stop offset="0.5693" stop-color="#313695"/><stop offset="1.0000" stop-color="#313695"/></linearGradient><linearGradient id="g1_57" x1="0" y1="0" x2="0" y2="1"><stop offset="0.0000" stop-color="#313695"/><stop offset="0.0219" stop-color="#313695"/><stop offset="0.0255" stop-color="#34409a"/><stop offset="0.0328" stop-color="#416aaf"/><stop offset="0.0365" stop-color="#5588be"/><stop offset="0.0401" stop-color="#6297c6"/><stop offset="0.0693" stop-color="#76afd2"/><stop offset="0.0876" stop-color="#74add1"/><stop offset="0.3175" stop-color="#4471b2"/><stop offset="0.3686" stop-color="#4065ac"/><stop offset="0.4818" stop-color="#374a9f"/><stop offset="0.5584" stop-color="#313695"/><stop offset="1.0000" stop-color="#313695"/></linearGradient><linearGradient id="g1_58" x1="0" y1="0" x2="0" y2="1"><stop offset="0.0000" stop-color="#313695"/><stop offset="0.0219" stop-color="#313695"/><stop offset="0.0255" stop-color="#36459c"/><stop offset="0.0292" stop-color="#3d5ba7"/><stop offset="0.0328" stop-color="#416aaf"/><stop offset="0.0365" stop-color="#5588be"/><stop offset="0.0401" stop-color="#6297c6"/><stop offset="0.0657" stop-color="#78b0d3"/><stop offset="0.1058" stop-color="#70a9cf"/><stop offset="0.3175" stop-color="#4471b2"/><stop offset="0.3686" stop-color="#4065ac"/><stop offset="0.5000" stop-color="#36459c"/><stop offset="0.5584" stop-color="#313695"/><stop offset="1.0000" stop-color="#313695"/></linearGradient><linearGradient id="g1_59" x1="0" y1="0" x2="0" y2="1"><stop offset="0.0000" stop-color="#313695"/><stop offset="0.0219" stop-color="#313695"/><stop offset="0.0292" stop-color="#4471b2"/><stop offset="0.0365" stop-color="#5a8ec1"/><stop offset="0.0438" stop-color="#659bc8"/><stop offset="0.0657" stop-color="#7ab2d4"/><stop offset="0.3102" stop-color="#4574b3"/><stop offset="0.3650" stop-color="#4065ac"/><stop offset="0.4416" stop-color="#3a54a4"/><stop offset="0.4781" stop-color="#374a9f"/><stop offset="0.5547" stop-color="#313695"/><stop offset="1.0000" stop-color="#313695"/></linearGradient><linearGradient id="g1_60" x1="0" y1="0" x2="0" y2="1"><stop offset="0.0000" stop-color="#313695"/><stop offset="0.0219" stop-color="#313695"/><stop offset="0.0292" stop-color="#4471b2"/><stop offset="0.0365" stop-color="#5a8ec1"/><stop offset="0.0438" stop-color="#659bc8"/><stop offset="0.0657" stop-color="#7ab2d4"/><stop offset="0.1934" stop-color="#5e93c3"/><stop offset="0.3175" stop-color="#4471b2"/><stop offset="0.3686" stop-color="#4065ac"/><stop offset="0.5547" stop-color="#313695"/><stop offset="1.0000" stop-color="#313695"/></linearGradient><linearGradient id="g1_61" x1="0" y1="0" x2="0" y2="1"><stop offset="0.0000" stop-color="#313695"/><stop offset="0.0182" stop-color="#313695"/><stop offset="0.0219" stop-color="#333b97"/><stop offset="0.0292" stop-color="#4574b3"/><stop offset="0.0328" stop-color="#5385bd"/><stop offset="0.0401" stop-color="#6297c6"/><stop offset="0.0620" stop-color="#76afd2"/><stop offset="0.0693" stop-color="#7ab2d4"/><stop offset="0.1533" stop-color="#679ec9"/><stop offset="0.2263" stop-color="#578abf"/><stop offset="0.3285" stop-color="#436fb1"/><stop offset="0.4781" stop-color="#374a9f"/><stop offset="0.5328" stop-color="#333b97"/><stop offset="0.5620" stop-color="#313695"/><stop offset="1.0000" stop-color="#313695"/></linearGradient><linearGradient id="g1_62" x1="0" y1="0" x2="0" y2="1"><stop offset="0.0000" stop-color="#313695"/><stop offset="0.0182" stop-color="#313695"/><stop offset="0.0219" stop-color="#35429b"/><stop offset="0.0292" stop-color="#4878b6"/><stop offset="0.0328" stop-color="#6095c4"/><stop offset="0.0511" stop-color="#6da4cc"/><stop offset="0.0657" stop-color="#7ab2d4"/><stop offset="0.1131" stop-color="#70a9cf"/><stop offset="0.1934" stop-color="#5e93c3"/><stop offset="0.3212" stop-color="#4471b2"/><stop offset="0.5146" stop-color="#34409a"/><stop offset="0.5511" stop-color="#313695"/><stop offset="1.0000" stop-color="#313695"/></linearGradient><linearGradient id="g1_63" x1="0" y1="0" x2="0" y2="1"><stop offset="0.0000" stop-color="#313695"/><stop offset="0.0182" stop-color="#313695"/><stop offset="0.0219" stop-color="#416aaf"/><stop offset="0.0255" stop-color="#416aaf"/><stop offset="0.0292" stop-color="#4878b6"/><stop offset="0.0328" stop-color="#6095c4"/><stop offset="0.0620" stop-color="#78b0d3"/><stop offset="0.0657" stop-color="#7db4d5"/><stop offset="0.1277" stop-color="#6da4cc"/><stop offset="0.3139" stop-color="#4574b3"/><stop offset="0.3686" stop-color="#4065ac"/><stop offset="0.5511" stop-color="#313695"/><stop offset="1.0000" stop-color="#313695"/></linearGradient><linearGradient id="g1_64" x1="0" y1="0" x2="0" y2="1"><stop offset="0.0000" stop-color="#313695"/><stop offset="0.0182" stop-color="#313695"/><stop offset="0.0219" stop-color="#416aaf"/><stop offset="0.0292" stop-color="#5385bd"/><stop offset="0.0328" stop-color="#6095c4"/><stop offset="0.0657" stop-color="#7db4d5"/><stop offset="0.1387" stop-color="#6ba2cb"/><stop offset="0.2701" stop-color="#4d7fb9"/><stop offset="0.3321" stop-color="#436fb1"/><stop offset="0.3686" stop-color="#4065ac"/><stop offset="0.5474" stop-color="#313695"/><stop offset="1.0000" stop-color="#313695"/></linearGradient><linearGradient id="g1_65" x1="0" y1="0" x2="0" y2="1"><stop offset="0.0000" stop-color="#313695"/><stop offset="0.0182" stop-color="#313695"/><stop offset="0.0219" stop-color="#416aaf"/><stop offset="0.0255" stop-color="#4574b3"/><stop offset="0.0328" stop-color="#6095c4"/><stop offset="0.0657" stop-color="#7db4d5"/><stop offset="0.1387" stop-color="#6ba2cb"/><stop offset="0.2628" stop-color="#4f81ba"/><stop offset="0.3467" stop-color="#416aaf"/><stop offset="0.4562" stop-color="#394fa1"/><stop offset="0.5474" stop-color="#313695"/><stop offset="1.0000" stop-color="#313695"/></linearGradient><linearGradient id="g1_66" x1="0" y1="0" x2="0" y2="1"><stop offset="0.0000" stop-color="#313695"/><stop offset="0.0182" stop-color="#313695"/><stop offset="0.0219" stop-color="#35429b"/><stop offset="0.0292" stop-color="#4878b6"/><stop offset="0.0328" stop-color="#6095c4"/><stop offset="0.0657" stop-color="#7db4d5"/><stop offset="0.1387" stop-color="#6ba2cb"/><stop offset="0.3066" stop-color="#4676b5"/><stop offset="0.5474" stop-color="#313695"/><stop offset="1.0000" stop-color="#313695"/></linearGradient><linearGradient id="g1_67" x1="0" y1="0" x2="0" y2="1"><stop offset="0.0000" stop-color="#313695"/><stop offset="0.0182" stop-color="#313695"/><stop offset="0.0219" stop-color="#34409a"/><stop offset="0.0292" stop-color="#4878b6"/><stop offset="0.0328" stop-color="#6095c4"/><stop offset="0.0657" stop-color="#7db4d5"/><stop offset="0.1387" stop-color="#6ba2cb"/><stop offset="0.3139" stop-color="#4574b3"/><stop offset="0.3723" stop-color="#4065ac"/><stop offset="0.5255" stop-color="#333b97"/><stop offset="0.5547" stop-color="#313695"/><stop offset="1.0000" stop-color="#313695"/></linearGradient><linearGradient id="g1_68" x1="0" y1="0" x2="0" y2="1"><stop offset="0.0000" stop-color="#313695"/><stop offset="0.0182" stop-color="#313695"/><stop offset="0.0219" stop-color="#34409a"/><stop offset="0.0292" stop-color="#4878b6"/><stop offset="0.0328" stop-color="#6095c4"/><stop offset="0.0620" stop-color="#78b0d3"/><stop offset="0.0657" stop-color="#7db4d5"/><stop offset="0.1569" stop-color="#679ec9"/><stop offset="0.2372" stop-color="#5588be"/><stop offset="0.3248" stop-color="#4471b2"/><stop offset="0.3723" stop-color="#4065ac"/><stop offset="0.4708" stop-color="#374a9f"/><stop offset="0.5438" stop-color="#313695"/><stop offset="1.0000" stop-color="#313695"/></linearGradient><linearGradient id="g1_69" x1="0" y1="0" x2="0" y2="1"><stop offset="0.0000" stop-color="#313695"/><stop offset="0.0182" stop-color="#313695"/><stop offset="0.0219" stop-color="#34409a"/><stop offset="0.0292" stop-color="#4878b6"/><stop offset="0.0328" stop-color="#6095c4"/><stop offset="0.0620" stop-color="#78b0d3"/><stop offset="0.0657" stop-color="#7db4d5"/><stop offset="0.1569" stop-color="#679ec9"/><stop offset="0.2372" stop-color="#5588be"/><stop offset="0.3248" stop-color="#4471b2"/><stop offset="0.4526" stop-color="#394fa1"/><stop offset="0.5438" stop-color="#313695"/><stop offset="1.0000" stop-color="#313695"/></linearGradient><linearGradient id="g1_70" x1="0" y1="0" x2="0" y2="1"><stop offset="0.0000" stop-color="#313695"/><stop offset="0.0182" stop-color="#313695"/><stop offset="0.0219" stop-color="#34409a"/><stop offset="0.0292" stop-color="#4878b6"/><stop offset="0.0328" stop-color="#6095c4"/><stop offset="0.0620" stop-color="#78b0d3"/><stop offset="0.0657" stop-color="#7db4d5"/><stop offset="0.1569" stop-color="#679ec9"/><stop offset="0.2372" stop-color="#5588be"/><stop offset="0.3248" stop-color="#4471b2"/><stop offset="0.4343" stop-color="#3a54a4"/><stop offset="0.5438" stop-color="#313695"/><stop offset="1.0000" stop-color="#313695"/></linearGradient><linearGradient id="g1_71" x1="0" y1="0" x2="0" y2="1"><stop offset="0.0000" stop-color="#313695"/><stop offset="0.0182" stop-color="#313695"/><stop offset="0.0219" stop-color="#34409a"/><stop offset="0.0292" stop-color="#4878b6"/><stop offset="0.0328" stop-color="#6095c4"/><stop offset="0.0620" stop-color="#78b0d3"/><stop offset="0.0657" stop-color="#7db4d5"/><stop offset="0.1277" stop-color="#6da4cc"/><stop offset="0.3175" stop-color="#4574b3"/><stop offset="0.4343" stop-color="#3a54a4"/><stop offset="0.5401" stop-color="#313695"/><stop offset="1.0000" stop-color="#313695"/></linearGradient><linearGradient id="g1_72" x1="0" y1="0" x2="0" y2="1"><stop offset="0.0000" stop-color="#313695"/><stop offset="0.0182" stop-color="#313695"/><stop offset="0.0219" stop-color="#333d99"/><stop offset="0.0292" stop-color="#4878b6"/><stop offset="0.0328" stop-color="#6095c4"/><stop offset="0.0620" stop-color="#78b0d3"/><stop offset="0.0657" stop-color="#7db4d5"/><stop offset="0.1277" stop-color="#6da4cc"/><stop offset="0.3139" stop-color="#4574b3"/><stop offset="0.4343" stop-color="#3a54a4"/><stop offset="0.5401" stop-color="#313695"/><stop offset="1.0000" stop-color="#313695"/></linearGradient><linearGradient id="g1_73" x1="0" y1="0" x2="0" y2="1"><stop offset="0.0000" stop-color="#313695"/><stop offset="0.0182" stop-color="#313695"/><stop offset="0.0219" stop-color="#34409a"/><stop offset="0.0292" stop-color="#4878b6"/><stop offset="0.0328" stop-color="#6095c4"/><stop offset="0.0620" stop-color="#78b0d3"/><stop offset="0.0803" stop-color="#78b0d3"/><stop offset="0.2810" stop-color="#4b7db8"/><stop offset="0.3978" stop-color="#3e5ea8"/><stop offset="0.5401" stop-color="#313695"/><stop offset="1.0000" stop-color="#313695"/></linearGradient><linearGradient id="g1_74" x1="0" y1="0" x2="0" y2="1"><stop offset="0.0000" stop-color="#313695"/><stop offset="0.0182" stop-color="#313695"/><stop offset="0.0219" stop-color="#34409a"/><stop offset="0.0292" stop-color="#4878b6"/><stop offset="0.0328" stop-color="#6095c4"/><stop offset="0.0620" stop-color="#78b0d3"/><stop offset="0.0803" stop-color="#78b0d3"/><stop offset="0.2810" stop-color="#4b7db8"/><stop offset="0.3759" stop-color="#4065ac"/><stop offset="0.5000" stop-color="#34409a"/><stop offset="0.5365" stop-color="#313695"/><stop offset="1.0000" stop-color="#313695"/></linearGradient><linearGradient id="g1_75" x1="0" y1="0" x2="0" y2="1"><stop offset="0.0000" stop-color="#313695"/><stop offset="0.0182" stop-color="#313695"/><stop offset="0.0219" stop-color="#34409a"/><stop offset="0.0292" stop-color="#4878b6"/><stop offset="0.0328" stop-color="#6095c4"/><stop offset="0.0620" stop-color="#78b0d3"/><stop offset="0.0803" stop-color="#78b0d3"/><stop offset="0.2883" stop-color="#4a7ab7"/><stop offset="0.3759" stop-color="#4065ac"/><stop offset="0.4818" stop-color="#36459c"/><stop offset="0.5365" stop-color="#313695"/><stop offset="1.0000" stop-color="#313695"/></linearGradient><linearGradient id="g1_76" x1="0" y1="0" x2="0" y2="1"><stop offset="0.0000" stop-color="#313695"/><stop offset="0.0182" stop-color="#313695"/><stop offset="0.0219" stop-color="#34409a"/><stop offset="0.0292" stop-color="#4878b6"/><stop offset="0.0328" stop-color="#6095c4"/><stop offset="0.0620" stop-color="#78b0d3"/><stop offset="0.0803" stop-color="#78b0d3"/><stop offset="0.2883" stop-color="#4a7ab7"/><stop offset="0.3759" stop-color="#4065ac"/><stop offset="0.5146" stop-color="#333b97"/><stop offset="0.5438" stop-color="#313695"/><stop offset="1.0000" stop-color="#313695"/></linearGradient><linearGradient id="g1_77" x1="0" y1="0" x2="0" y2="1"><stop offset="0.0000" stop-color="#313695"/><stop offset="0.0182" stop-color="#313695"/><stop offset="0.0292" stop-color="#4878b6"/><stop offset="0.0328" stop-color="#6095c4"/><stop offset="0.0657" stop-color="#7ab2d4"/><stop offset="0.1204" stop-color="#6ea6ce"/><stop offset="0.2701" stop-color="#4d7fb9"/><stop offset="0.3577" stop-color="#416aaf"/><stop offset="0.4635" stop-color="#374a9f"/><stop offset="0.5365" stop-color="#313695"/><stop offset="1.0000" stop-color="#313695"/></linearGradient><linearGradient id="g1_78" x1="0" y1="0" x2="0" y2="1"><stop offset="0.0000" stop-color="#313695"/><stop offset="0.0182" stop-color="#313695"/><stop offset="0.0292" stop-color="#4878b6"/><stop offset="0.0328" stop-color="#6095c4"/><stop offset="0.0657" stop-color="#7ab2d4"/><stop offset="0.1204" stop-color="#6ea6ce"/><stop offset="0.2591" stop-color="#4f81ba"/><stop offset="0.3467" stop-color="#426cb0"/><stop offset="0.3978" stop-color="#3e5ea8"/><stop offset="0.4964" stop-color="#34409a"/><stop offset="0.5328" stop-color="#313695"/><stop offset="1.0000" stop-color="#313695"/></linearGradient><linearGradient id="g1_79" x1="0" y1="0" x2="0" y2="1"><stop offset="0.0000" stop-color="#313695"/><stop offset="0.0182" stop-color="#313695"/><stop offset="0.0219" stop-color="#34409a"/><stop offset="0.0292" stop-color="#4878b6"/><stop offset="0.0328" stop-color="#6095c4"/><stop offset="0.0657" stop-color="#7ab2d4"/><stop offset="0.1277" stop-color="#6da4cc"/><stop offset="0.2226" stop-color="#578abf"/><stop offset="0.3212" stop-color="#4471b2"/><stop offset="0.3759" stop-color="#4065ac"/><stop offset="0.4781" stop-color="#36459c"/><stop offset="0.5328" stop-color="#313695"/><stop offset="1.0000" stop-color="#313695"/></linearGradient><linearGradient id="g1_80" x1="0" y1="0" x2="0" y2="1"><stop offset="0.0000" stop-color="#313695"/><stop offset="0.0182" stop-color="#313695"/><stop offset="0.0219" stop-color="#333d99"/><stop offset="0.0292" stop-color="#4574b3"/><stop offset="0.0328" stop-color="#5385bd"/><stop offset="0.0401" stop-color="#6297c6"/><stop offset="0.0620" stop-color="#76afd2"/><stop offset="0.0693" stop-color="#7ab2d4"/><stop offset="0.1168" stop-color="#6ea6ce"/><stop offset="0.2664" stop-color="#4d7fb9"/><stop offset="0.3540" stop-color="#416aaf"/><stop offset="0.5109" stop-color="#333b97"/><stop offset="0.5401" stop-color="#313695"/><stop offset="1.0000" stop-color="#313695"/></linearGradient><linearGradient id="g1_81" x1="0" y1="0" x2="0" y2="1"><stop offset="0.0000" stop-color="#313695"/><stop offset="0.0219" stop-color="#313695"/><stop offset="0.0292" stop-color="#4471b2"/><stop offset="0.0365" stop-color="#5a8ec1"/><stop offset="0.0438" stop-color="#659bc8"/><stop offset="0.0657" stop-color="#7ab2d4"/><stop offset="0.1387" stop-color="#69a0ca"/><stop offset="0.2555" stop-color="#4f81ba"/><stop offset="0.3431" stop-color="#426cb0"/><stop offset="0.3942" stop-color="#3e5ea8"/><stop offset="0.4927" stop-color="#34409a"/><stop offset="0.5292" stop-color="#313695"/><stop offset="1.0000" stop-color="#313695"/></linearGradient><linearGradient id="g1_82" x1="0" y1="0" x2="0" y2="1"><stop offset="0.0000" stop-color="#313695"/><stop offset="0.0219" stop-color="#313695"/><stop offset="0.0292" stop-color="#4471b2"/><stop offset="0.0365" stop-color="#5a8ec1"/><stop offset="0.0438" stop-color="#659bc8"/><stop offset="0.0657" stop-color="#7ab2d4"/><stop offset="0.1460" stop-color="#679ec9"/><stop offset="0.2190" stop-color="#578abf"/><stop offset="0.3175" stop-color="#4471b2"/><stop offset="0.3613" stop-color="#4167ad"/><stop offset="0.4745" stop-color="#36459c"/><stop offset="0.5292" stop-color="#313695"/><stop offset="1.0000" stop-color="#313695"/></linearGradient><linearGradient id="g1_83" x1="0" y1="0" x2="0" y2="1"><stop offset="0.0000" stop-color="#313695"/><stop offset="0.0219" stop-color="#313695"/><stop offset="0.0292" stop-color="#4471b2"/><stop offset="0.0365" stop-color="#5a8ec1"/><stop offset="0.0438" stop-color="#659bc8"/><stop offset="0.0657" stop-color="#78b0d3"/><stop offset="0.1204" stop-color="#6da4cc"/><stop offset="0.2518" stop-color="#4f81ba"/><stop offset="0.3431" stop-color="#416aaf"/><stop offset="0.4088" stop-color="#3c59a6"/><stop offset="0.5073" stop-color="#333b97"/><stop offset="0.5365" stop-color="#313695"/><stop offset="1.0000" stop-color="#313695"/></linearGradient><linearGradient id="g1_84" x1="0" y1="0" x2="0" y2="1"><stop offset="0.0000" stop-color="#313695"/><stop offset="0.0219" stop-color="#313695"/><stop offset="0.0292" stop-color="#4471b2"/><stop offset="0.0365" stop-color="#5a8ec1"/><stop offset="0.0438" stop-color="#659bc8"/><stop offset="0.0657" stop-color="#78b0d3"/><stop offset="0.1423" stop-color="#679ec9"/><stop offset="0.2153" stop-color="#578abf"/><stop offset="0.3139" stop-color="#4471b2"/><stop offset="0.3650" stop-color="#4065ac"/><stop offset="0.4891" stop-color="#34409a"/><stop offset="0.5255" stop-color="#313695"/><stop offset="1.0000" stop-color="#313695"/></linearGradient><linearGradient id="g1_85" x1="0" y1="0" x2="0" y2="1"><stop offset="0.0000" stop-color="#313695"/><stop offset="0.0219" stop-color="#313695"/><stop offset="0.0292" stop-color="#4471b2"/><stop offset="0.0365" stop-color="#5a8ec1"/><stop offset="0.0438" stop-color="#659bc8"/><stop offset="0.0657" stop-color="#78b0d3"/><stop offset="0.2664" stop-color="#4b7db8"/><stop offset="0.3613" stop-color="#4065ac"/><stop offset="0.5255" stop-color="#313695"/><stop offset="1.0000" stop-color="#313695"/></linearGradient><linearGradient id="g1_86" x1="0" y1="0" x2="0" y2="1"><stop offset="0.0000" stop-color="#313695"/><stop offset="0.0219" stop-color="#313695"/><stop offset="0.0255" stop-color="#36459c"/><stop offset="0.0292" stop-color="#3d5ba7"/><stop offset="0.0328" stop-color="#416aaf"/><stop offset="0.0365" stop-color="#5588be"/><stop offset="0.0401" stop-color="#6297c6"/><stop offset="0.0657" stop-color="#76afd2"/><stop offset="0.1387" stop-color="#679ec9"/><stop offset="0.2117" stop-color="#578abf"/><stop offset="0.3139" stop-color="#436fb1"/><stop offset="0.4015" stop-color="#3c59a6"/><stop offset="0.5255" stop-color="#313695"/><stop offset="1.0000" stop-color="#313695"/></linearGradient><linearGradient id="g1_87" x1="0" y1="0" x2="0" y2="1"><stop offset="0.0000" stop-color="#313695"/><stop offset="0.0219" stop-color="#313695"/><stop offset="0.0255" stop-color="#34409a"/><stop offset="0.0328" stop-color="#416aaf"/><stop offset="0.0365" stop-color="#5588be"/><stop offset="0.0401" stop-color="#6297c6"/><stop offset="0.0657" stop-color="#76afd2"/><stop offset="0.3029" stop-color="#4471b2"/><stop offset="0.4197" stop-color="#3a54a4"/><stop offset="0.4599" stop-color="#36479e"/><stop offset="0.5219" stop-color="#313695"/><stop offset="1.0000" stop-color="#313695"/></linearGradient><linearGradient id="g1_88" x1="0" y1="0" x2="0" y2="1"><stop offset="0.0000" stop-color="#313695"/><stop offset="0.0219" stop-color="#313695"/><stop offset="0.0255" stop-color="#34409a"/><stop offset="0.0328" stop-color="#416aaf"/><stop offset="0.0365" stop-color="#5588be"/><stop offset="0.0401" stop-color="#6297c6"/><stop offset="0.0693" stop-color="#74add1"/><stop offset="0.2993" stop-color="#4471b2"/><stop offset="0.3978" stop-color="#3c59a6"/><stop offset="0.5219" stop-color="#313695"/><stop offset="1.0000" stop-color="#313695"/></linearGradient><linearGradient id="g1_89" x1="0" y1="0" x2="0" y2="1"><stop offset="0.0000" stop-color="#313695"/><stop offset="0.0219" stop-color="#313695"/><stop offset="0.0255" stop-color="#34409a"/><stop offset="0.0328" stop-color="#416aaf"/><stop offset="0.0365" stop-color="#5588be"/><stop offset="0.0401" stop-color="#6297c6"/><stop offset="0.0693" stop-color="#74add1"/><stop offset="0.2920" stop-color="#4574b3"/><stop offset="0.4489" stop-color="#374a9f"/><stop offset="0.5219" stop-color="#313695"/><stop offset="1.0000" stop-color="#313695"/></linearGradient><linearGradient id="g1_90" x1="0" y1="0" x2="0" y2="1"><stop offset="0.0000" stop-color="#313695"/><stop offset="0.0219" stop-color="#313695"/><stop offset="0.0255" stop-color="#34409a"/><stop offset="0.0328" stop-color="#416aaf"/><stop offset="0.0365" stop-color="#5588be"/><stop offset="0.0401" stop-color="#6297c6"/><stop offset="0.0730" stop-color="#74add1"/><stop offset="0.1679" stop-color="#5e93c3"/><stop offset="0.3029" stop-color="#436fb1"/><stop offset="0.4124" stop-color="#3a54a4"/><stop offset="0.5182" stop-color="#313695"/><stop offset="1.0000" stop-color="#313695"/></linearGradient><linearGradient id="g1_91" x1="0" y1="0" x2="0" y2="1"><stop offset="0.0000" stop-color="#313695"/><stop offset="0.0219" stop-color="#313695"/><stop offset="0.0255" stop-color="#34409a"/><stop offset="0.0365" stop-color="#4b7db8"/><stop offset="0.0438" stop-color="#6095c4"/><stop offset="0.0730" stop-color="#74add1"/><stop offset="0.1569" stop-color="#6095c4"/><stop offset="0.2920" stop-color="#4471b2"/><stop offset="0.4015" stop-color="#3b56a5"/><stop offset="0.5182" stop-color="#313695"/><stop offset="1.0000" stop-color="#313695"/></linearGradient><linearGradient id="g1_92" x1="0" y1="0" x2="0" y2="1"><stop offset="0.0000" stop-color="#313695"/><stop offset="0.0219" stop-color="#313695"/><stop offset="0.0255" stop-color="#34409a"/><stop offset="0.0328" stop-color="#416aaf"/><stop offset="0.0365" stop-color="#4878b6"/><stop offset="0.0438" stop-color="#6095c4"/><stop offset="0.0693" stop-color="#72abd0"/><stop offset="0.2920" stop-color="#4471b2"/><stop offset="0.4453" stop-color="#374a9f"/><stop offset="0.5182" stop-color="#313695"/><stop offset="1.0000" stop-color="#313695"/></linearGradient><linearGradient id="g1_93" x1="0" y1="0" x2="0" y2="1"><stop offset="0.0000" stop-color="#313695"/><stop offset="0.0219" stop-color="#313695"/><stop offset="0.0255" stop-color="#34409a"/><stop offset="0.0328" stop-color="#416aaf"/><stop offset="0.0365" stop-color="#4878b6"/><stop offset="0.0438" stop-color="#6095c4"/><stop offset="0.0730" stop-color="#72abd0"/><stop offset="0.1606" stop-color="#5e93c3"/><stop offset="0.2956" stop-color="#436fb1"/><stop offset="0.3978" stop-color="#3b56a5"/><stop offset="0.4964" stop-color="#333b97"/><stop offset="0.5255" stop-color="#313695"/><stop offset="1.0000" stop-color="#313695"/></linearGradient><linearGradient id="g1_94" x1="0" y1="0" x2="0" y2="1"><stop offset="0.0000" stop-color="#313695"/><stop offset="0.0219" stop-color="#313695"/><stop offset="0.0255" stop-color="#34409a"/><stop offset="0.0328" stop-color="#416aaf"/><stop offset="0.0365" stop-color="#4878b6"/><stop offset="0.0438" stop-color="#6095c4"/><stop offset="0.0730" stop-color="#72abd0"/><stop offset="0.0912" stop-color="#6da4cc"/><stop offset="0.2883" stop-color="#4471b2"/><stop offset="0.4526" stop-color="#36479e"/><stop offset="0.5146" stop-color="#313695"/><stop offset="1.0000" stop-color="#313695"/></linearGradient><linearGradient id="g1_95" x1="0" y1="0" x2="0" y2="1"><stop offset="0.0000" stop-color="#313695"/><stop offset="0.0219" stop-color="#313695"/><stop offset="0.0255" stop-color="#34409a"/><stop offset="0.0328" stop-color="#416aaf"/><stop offset="0.0365" stop-color="#4878b6"/><stop offset="0.0438" stop-color="#6095c4"/><stop offset="0.0730" stop-color="#70a9cf"/><stop offset="0.1387" stop-color="#6297c6"/><stop offset="0.2847" stop-color="#4471b2"/><stop offset="0.3650" stop-color="#3e5ea8"/><stop offset="0.5146" stop-color="#313695"/><stop offset="1.0000" stop-color="#313695"/></linearGradient><linearGradient id="g1_96" x1="0" y1="0" x2="0" y2="1"><stop offset="0.0000" stop-color="#313695"/><stop offset="0.0219" stop-color="#313695"/><stop offset="0.0255" stop-color="#34409a"/><stop offset="0.0328" stop-color="#416aaf"/><stop offset="0.0365" stop-color="#4878b6"/><stop offset="0.0438" stop-color="#6095c4"/><stop offset="0.0730" stop-color="#6ea6ce"/><stop offset="0.2774" stop-color="#4574b3"/><stop offset="0.3102" stop-color="#416aaf"/><stop offset="0.4124" stop-color="#3a51a2"/><stop offset="0.5146" stop-color="#313695"/><stop offset="1.0000" stop-color="#313695"/></linearGradient><linearGradient id="g1_97" x1="0" y1="0" x2="0" y2="1"><stop offset="0.0000" stop-color="#313695"/><stop offset="0.0255" stop-color="#323896"/><stop offset="0.0328" stop-color="#416aaf"/><stop offset="0.0365" stop-color="#4878b6"/><stop offset="0.0438" stop-color="#6095c4"/><stop offset="0.0730" stop-color="#6ea6ce"/><stop offset="0.2883" stop-color="#436fb1"/><stop offset="0.4307" stop-color="#384ca0"/><stop offset="0.5109" stop-color="#313695"/><stop offset="1.0000" stop-color="#313695"/></linearGradient><linearGradient id="g1_98" x1="0" y1="0" x2="0" y2="1"><stop offset="0.0000" stop-color="#313695"/><stop offset="0.0255" stop-color="#313695"/><stop offset="0.0292" stop-color="#34409a"/><stop offset="0.0328" stop-color="#416aaf"/><stop offset="0.0365" stop-color="#4878b6"/><stop offset="0.0438" stop-color="#6095c4"/><stop offset="0.0730" stop-color="#6da4cc"/><stop offset="0.2482" stop-color="#4a7ab7"/><stop offset="0.3066" stop-color="#416aaf"/><stop offset="0.4489" stop-color="#36479e"/><stop offset="0.5109" stop-color="#313695"/><stop offset="1.0000" stop-color="#313695"/></linearGradient><linearGradient id="g1_99" x1="0" y1="0" x2="0" y2="1"><stop offset="0.0000" stop-color="#313695"/><stop offset="0.0255" stop-color="#313695"/><stop offset="0.0292" stop-color="#34409a"/><stop offset="0.0328" stop-color="#416aaf"/><stop offset="0.0365" stop-color="#4878b6"/><stop offset="0.0438" stop-color="#6095c4"/><stop offset="0.0730" stop-color="#6da4cc"/><stop offset="0.1825" stop-color="#578abf"/><stop offset="0.2847" stop-color="#436fb1"/><stop offset="0.4015" stop-color="#3a54a4"/><stop offset="0.5109" stop-color="#313695"/><stop offset="1.0000" stop-color="#313695"/></linearGradient><linearGradient id="g1_100" x1="0" y1="0" x2="0" y2="1"><stop offset="0.0000" stop-color="#313695"/><stop offset="0.0255" stop-color="#313695"/><stop offset="0.0292" stop-color="#34409a"/><stop offset="0.0328" stop-color="#416aaf"/><stop offset="0.0365" stop-color="#4878b6"/><stop offset="0.0438" stop-color="#6095c4"/><stop offset="0.0730" stop-color="#6ba2cb"/><stop offset="0.2372" stop-color="#4b7db8"/><stop offset="0.3139" stop-color="#4167ad"/><stop offset="0.3796" stop-color="#3c59a6"/><stop offset="0.5109" stop-color="#313695"/><stop offset="1.0000" stop-color="#313695"/></linearGradient><linearGradient id="g1_101" x1="0" y1="0" x2="0" y2="1"><stop offset="0.0000" stop-color="#313695"/><stop offset="0.0255" stop-color="#313695"/><stop offset="0.0292" stop-color="#34409a"/><stop offset="0.0328" stop-color="#416aaf"/><stop offset="0.0401" stop-color="#5385bd"/><stop offset="0.0438" stop-color="#6095c4"/><stop offset="0.0620" stop-color="#6399c7"/><stop offset="0.0730" stop-color="#69a0ca"/><stop offset="0.1022" stop-color="#6399c7"/><stop offset="0.2263" stop-color="#4d7fb9"/><stop offset="0.3029" stop-color="#416aaf"/><stop offset="0.3796" stop-color="#3c59a6"/><stop offset="0.5109" stop-color="#313695"/><stop offset="1.0000" stop-color="#313695"/></linearGradient><linearGradient id="g1_102" x1="0" y1="0" x2="0" y2="1"><stop offset="0.0000" stop-color="#313695"/><stop offset="0.0255" stop-color="#313695"/><stop offset="0.0292" stop-color="#35429b"/><stop offset="0.0328" stop-color="#3c59a6"/><stop offset="0.0401" stop-color="#4676b5"/><stop offset="0.0474" stop-color="#5183bb"/><stop offset="0.0730" stop-color="#6297c6"/><stop offset="0.1204" stop-color="#6095c4"/><stop offset="0.2445" stop-color="#4a7ab7"/><stop offset="0.3102" stop-color="#4167ad"/><stop offset="0.3686" stop-color="#3d5ba7"/><stop offset="0.4927" stop-color="#333b97"/><stop offset="0.5146" stop-color="#313695"/><stop offset="1.0000" stop-color="#313695"/></linearGradient><linearGradient id="g1_103" x1="0" y1="0" x2="0" y2="1"><stop offset="0.0000" stop-color="#313695"/><stop offset="0.0219" stop-color="#313695"/><stop offset="0.0438" stop-color="#426cb0"/><stop offset="0.0547" stop-color="#4b7db8"/><stop offset="0.0693" stop-color="#578abf"/><stop offset="0.1022" stop-color="#5e93c3"/><stop offset="0.1752" stop-color="#578abf"/><stop offset="0.2774" stop-color="#4471b2"/><stop offset="0.3577" stop-color="#3e5ea8"/><stop offset="0.5073" stop-color="#323896"/><stop offset="1.0000" stop-color="#313695"/></linearGradient><linearGradient id="g1_104" x1="0" y1="0" x2="0" y2="1"><stop offset="0.0000" stop-color="#313695"/><stop offset="0.0182" stop-color="#323896"/><stop offset="0.0474" stop-color="#426cb0"/><stop offset="0.0693" stop-color="#5183bb"/><stop offset="0.0912" stop-color="#5a8ec1"/><stop offset="0.1496" stop-color="#5a8ec1"/><stop offset="0.2701" stop-color="#4574b3"/><stop offset="0.3248" stop-color="#4065ac"/><stop offset="0.4380" stop-color="#374a9f"/><stop offset="0.5000" stop-color="#333b97"/><stop offset="0.5438" stop-color="#313695"/><stop offset="1.0000" stop-color="#313695"/></linearGradient><linearGradient id="g1_105" x1="0" y1="0" x2="0" y2="1"><stop offset="0.0000" stop-color="#313695"/><stop offset="0.0146" stop-color="#323896"/><stop offset="0.0328" stop-color="#3a51a2"/><stop offset="0.0547" stop-color="#4574b3"/><stop offset="0.0803" stop-color="#5588be"/><stop offset="0.1095" stop-color="#5a8ec1"/><stop offset="0.1460" stop-color="#5a8ec1"/><stop offset="0.2336" stop-color="#4b7db8"/><stop offset="0.3066" stop-color="#416aaf"/><stop offset="0.4380" stop-color="#374a9f"/><stop offset="0.4891" stop-color="#333d99"/><stop offset="0.5401" stop-color="#313695"/><stop offset="1.0000" stop-color="#313695"/></linearGradient><clipPath id="clip2"><rect x="178.0" y="1849.0" width="1149.0" height="548.0"/></clipPath><linearGradient id="g2_0" x1="0" y1="0" x2="0" y2="1"><stop offset="0.0000" stop-color="#eee5e2"/><stop offset="0.0219" stop-color="#ecded9"/><stop offset="0.0693" stop-color="#deb7aa"/><stop offset="0.0985" stop-color="#dbad9d"/><stop offset="0.1533" stop-color="#dbaf9f"/><stop offset="0.3175" stop-color="#e6cdc5"/><stop offset="0.4526" stop-color="#ebdcd7"/><stop offset="0.6715" stop-color="#ede0dd"/><stop offset="1.0000" stop-color="#ede2de"/></linearGradient><linearGradient id="g2_1" x1="0" y1="0" x2="0" y2="1"><stop offset="0.0000" stop-color="#efe7e5"/><stop offset="0.0219" stop-color="#eee3e0"/><stop offset="0.0547" stop-color="#e1bfb3"/><stop offset="0.0839" stop-color="#dbaf9f"/><stop offset="0.1204" stop-color="#daab9b"/><stop offset="0.2007" stop-color="#deb8aa"/><stop offset="0.3175" stop-color="#e6cdc5"/><stop offset="0.4526" stop-color="#ebdcd7"/><stop offset="0.6715" stop-color="#ede0dd"/><stop offset="1.0000" stop-color="#ede2de"/></linearGradient><linearGradient id="g2_2" x1="0" y1="0" x2="0" y2="1"><stop offset="0.0000" stop-color="#f1ebea"/><stop offset="0.0182" stop-color="#ece9e9"/><stop offset="0.0219" stop-color="#e8e7e7"/><stop offset="0.0255" stop-color="#f1ebe9"/><stop offset="0.0438" stop-color="#e3c8be"/><stop offset="0.0584" stop-color="#deb7a9"/><stop offset="0.0839" stop-color="#daab9b"/><stop offset="0.1204" stop-color="#daa998"/><stop offset="0.2044" stop-color="#dfb9ab"/><stop offset="0.2993" stop-color="#e5cbc2"/><stop offset="0.4453" stop-color="#ebdcd7"/><stop offset="0.6715" stop-color="#ede0dd"/><stop offset="1.0000" stop-color="#ede2de"/></linearGradient><linearGradient id="g2_3" x1="0" y1="0" x2="0" y2="1"><stop offset="0.0000" stop-color="#f1eceb"/><stop offset="0.0219" stop-color="#e8e7e7"/><stop offset="0.0255" stop-color="#f0eceb"/><stop offset="0.0401" stop-color="#e4cac0"/><stop offset="0.0511" stop-color="#ddb3a4"/><stop offset="0.0657" stop-color="#daa999"/><stop offset="0.1131" stop-color="#d8a593"/><stop offset="0.1679" stop-color="#dcafa0"/><stop offset="0.2628" stop-color="#e3c6bb"/><stop offset="0.4270" stop-color="#ebdbd6"/><stop offset="0.6387" stop-color="#ede1dd"/><stop offset="1.0000" stop-color="#ede2de"/></linearGradient><linearGradient id="g2_4" x1="0" y1="0" x2="0" y2="1"><stop offset="0.0000" stop-color="#f1eceb"/><stop offset="0.0219" stop-color="#e8e7e7"/><stop offset="0.0328" stop-color="#f1eceb"/><stop offset="0.0474" stop-color="#d59985"/><stop offset="0.0511" stop-color="#d3927d"/><stop offset="0.0584" stop-color="#d59b88"/><stop offset="0.0803" stop-color="#d7a18f"/><stop offset="0.1131" stop-color="#d69d8a"/><stop offset="0.1277" stop-color="#daa998"/><stop offset="0.1861" stop-color="#dcb0a1"/><stop offset="0.2190" stop-color="#e0beb2"/><stop offset="0.4124" stop-color="#eadad5"/><stop offset="0.6095" stop-color="#ede1dd"/><stop offset="1.0000" stop-color="#ede2de"/></linearGradient><linearGradient id="g2_5" x1="0" y1="0" x2="0" y2="1"><stop offset="0.0000" stop-color="#f1eceb"/><stop offset="0.0146" stop-color="#eae8e8"/><stop offset="0.0219" stop-color="#e8e7e7"/><stop offset="0.0328" stop-color="#f1eceb"/><stop offset="0.0474" stop-color="#d3937e"/><stop offset="0.0511" stop-color="#d08b74"/><stop offset="0.0693" stop-color="#d59a86"/><stop offset="0.0876" stop-color="#d69e8b"/><stop offset="0.1022" stop-color="#d7a08d"/><stop offset="0.1314" stop-color="#dbaf9f"/><stop offset="0.1861" stop-color="#ddb3a5"/><stop offset="0.2226" stop-color="#e1c0b5"/><stop offset="0.4234" stop-color="#ebdcd7"/><stop offset="0.6496" stop-color="#ede1dd"/><stop offset="1.0000" stop-color="#ede2de"/></linearGradient><linearGradient id="g2_6" x1="0" y1="0" x2="0" y2="1"><stop offset="0.0000" stop-color="#f1eceb"/><stop offset="0.0182" stop-color="#e9e8e8"/><stop offset="0.0328" stop-color="#f1eceb"/><stop offset="0.0438" stop-color="#d7a290"/><stop offset="0.0474" stop-color="#d18d76"/><stop offset="0.0511" stop-color="#ce856d"/><stop offset="0.0730" stop-color="#d59b88"/><stop offset="0.0985" stop-color="#d9a796"/><stop offset="0.1241" stop-color="#ddb4a6"/><stop offset="0.1679" stop-color="#dfb9ac"/><stop offset="0.2883" stop-color="#e4cac1"/><stop offset="0.3832" stop-color="#ead9d3"/><stop offset="0.5255" stop-color="#ede0dc"/><stop offset="1.0000" stop-color="#ede2de"/></linearGradient><linearGradient id="g2_7" x1="0" y1="0" x2="0" y2="1"><stop offset="0.0000" stop-color="#f1eceb"/><stop offset="0.0182" stop-color="#eae8e8"/><stop offset="0.0328" stop-color="#f1eceb"/><stop offset="0.0401" stop-color="#dbad9d"/><stop offset="0.0438" stop-color="#d3927d"/><stop offset="0.0474" stop-color="#ce836b"/><stop offset="0.0511" stop-color="#cd8066"/><stop offset="0.0657" stop-color="#d59884"/><stop offset="0.0912" stop-color="#daa998"/><stop offset="0.0985" stop-color="#dcb1a2"/><stop offset="0.1058" stop-color="#e0bcaf"/><stop offset="0.1533" stop-color="#e1c1b5"/><stop offset="0.2482" stop-color="#e3c7bd"/><stop offset="0.3504" stop-color="#e7d2cb"/><stop offset="0.3796" stop-color="#eadad4"/><stop offset="0.4088" stop-color="#ebddd8"/><stop offset="0.6423" stop-color="#ede1dd"/><stop offset="1.0000" stop-color="#ede2de"/></linearGradient><linearGradient id="g2_8" x1="0" y1="0" x2="0" y2="1"><stop offset="0.0000" stop-color="#f1eceb"/><stop offset="0.0146" stop-color="#eae8e8"/><stop offset="0.0182" stop-color="#edeae9"/><stop offset="0.0219" stop-color="#efe6e4"/><stop offset="0.0328" stop-color="#e2c5ba"/><stop offset="0.0438" stop-color="#c9755a"/><stop offset="0.0657" stop-color="#d69d8a"/><stop offset="0.0912" stop-color="#daaa99"/><stop offset="0.1168" stop-color="#dfbcaf"/><stop offset="0.1387" stop-color="#e2c5ba"/><stop offset="0.1496" stop-color="#e4c9bf"/><stop offset="0.2153" stop-color="#e3c8be"/><stop offset="0.2336" stop-color="#e2c5ba"/><stop offset="0.2701" stop-color="#e4c9bf"/><stop offset="0.3650" stop-color="#e8d4cd"/><stop offset="0.4197" stop-color="#ebddd8"/><stop offset="0.6022" stop-color="#ede1dd"/><stop offset="1.0000" stop-color="#ede2df"/></linearGradient><linearGradient id="g2_9" x1="0" y1="0" x2="0" y2="1"><stop offset="0.0000" stop-color="#f1eceb"/><stop offset="0.0146" stop-color="#eae8e8"/><stop offset="0.0182" stop-color="#f1eceb"/><stop offset="0.0328" stop-color="#daab9a"/><stop offset="0.0438" stop-color="#c87156"/><stop offset="0.0657" stop-color="#d69d8a"/><stop offset="0.1241" stop-color="#deb7a9"/><stop offset="0.1679" stop-color="#e0bfb3"/><stop offset="0.3285" stop-color="#e6cec5"/><stop offset="0.4416" stop-color="#ebddd8"/><stop offset="0.5803" stop-color="#ede1de"/><stop offset="1.0000" stop-color="#ede2df"/></linearGradient><linearGradient id="g2_10" x1="0" y1="0" x2="0" y2="1"><stop offset="0.0000" stop-color="#f1eceb"/><stop offset="0.0146" stop-color="#eae8e8"/><stop offset="0.0182" stop-color="#f1ebea"/><stop offset="0.0401" stop-color="#cc7f65"/><stop offset="0.0438" stop-color="#c76c52"/><stop offset="0.0657" stop-color="#d59a86"/><stop offset="0.1058" stop-color="#dbac9c"/><stop offset="0.2956" stop-color="#e4c9c0"/><stop offset="0.4708" stop-color="#ecded9"/><stop offset="0.5693" stop-color="#ede2de"/><stop offset="0.9453" stop-color="#ede2de"/><stop offset="1.0000" stop-color="#ede2df"/></linearGradient><linearGradient id="g2_11" x1="0" y1="0" x2="0" y2="1"><stop offset="0.0000" stop-color="#f1eceb"/><stop offset="0.0146" stop-color="#eae8e8"/><stop offset="0.0182" stop-color="#f0eae9"/><stop offset="0.0365" stop-color="#d18c75"/><stop offset="0.0438" stop-color="#c5684e"/><stop offset="0.0584" stop-color="#d18c75"/><stop offset="0.0657" stop-color="#d69d8a"/><stop offset="0.1058" stop-color="#daa898"/><stop offset="0.1569" stop-color="#daa998"/><stop offset="0.2336" stop-color="#e0bfb3"/><stop offset="0.4562" stop-color="#ebdbd6"/><stop offset="0.5912" stop-color="#ede2de"/><stop offset="0.9307" stop-color="#ede2de"/><stop offset="1.0000" stop-color="#ede2df"/></linearGradient><linearGradient id="g2_12" x1="0" y1="0" x2="0" y2="1"><stop offset="0.0000" stop-color="#f1eceb"/><stop offset="0.0146" stop-color="#eae8e8"/><stop offset="0.0182" stop-color="#f0eae8"/><stop offset="0.0328" stop-color="#d59b87"/><stop offset="0.0438" stop-color="#c4644a"/><stop offset="0.0657" stop-color="#d69d8a"/><stop offset="0.0949" stop-color="#daa998"/><stop offset="0.1277" stop-color="#d79f8d"/><stop offset="0.1496" stop-color="#d69d8a"/><stop offset="0.1715" stop-color="#d79f8c"/><stop offset="0.1934" stop-color="#dcafa0"/><stop offset="0.2445" stop-color="#e0bfb3"/><stop offset="0.3285" stop-color="#e5cbc2"/><stop offset="0.5036" stop-color="#ecded9"/><stop offset="0.6496" stop-color="#ede0dd"/><stop offset="0.9197" stop-color="#ede2de"/><stop offset="1.0000" stop-color="#ede2df"/></linearGradient><linearGradient id="g2_13" x1="0" y1="0" x2="0" y2="1"><stop offset="0.0000" stop-color="#f1eceb"/><stop offset="0.0146" stop-color="#eae8e8"/><stop offset="0.0182" stop-color="#f0eae8"/><stop offset="0.0328" stop-color="#d59986"/><stop offset="0.0401" stop-color="#ca765b"/><stop offset="0.0438" stop-color="#c4634a"/><stop offset="0.0657" stop-color="#d69d8a"/><stop offset="0.0949" stop-color="#daa998"/><stop offset="0.1387" stop-color="#d59b87"/><stop offset="0.1752" stop-color="#d69d8a"/><stop offset="0.1971" stop-color="#dbad9e"/><stop offset="0.2482" stop-color="#e0beb1"/><stop offset="0.3212" stop-color="#e4cac0"/><stop offset="0.5182" stop-color="#ecddd9"/><stop offset="0.7226" stop-color="#ecdfdb"/><stop offset="1.0000" stop-color="#ede2df"/></linearGradient><linearGradient id="g2_14" x1="0" y1="0" x2="0" y2="1"><stop offset="0.0000" stop-color="#f1eceb"/><stop offset="0.0146" stop-color="#eae8e8"/><stop offset="0.0182" stop-color="#f0e9e7"/><stop offset="0.0292" stop-color="#daaa99"/><stop offset="0.0401" stop-color="#c9755a"/><stop offset="0.0438" stop-color="#c46349"/><stop offset="0.0620" stop-color="#d3947e"/><stop offset="0.0657" stop-color="#d69d8a"/><stop offset="0.0876" stop-color="#daa999"/><stop offset="0.1423" stop-color="#d49581"/><stop offset="0.1825" stop-color="#d8a492"/><stop offset="0.2263" stop-color="#deb7a9"/><stop offset="0.3212" stop-color="#e4c9bf"/><stop offset="0.5255" stop-color="#ebddd8"/><stop offset="1.0000" stop-color="#ede3df"/></linearGradient><linearGradient id="g2_15" x1="0" y1="0" x2="0" y2="1"><stop offset="0.0000" stop-color="#f1eceb"/><stop offset="0.0073" stop-color="#f0eae8"/><stop offset="0.0146" stop-color="#ecdeda"/><stop offset="0.0219" stop-color="#e2c4b9"/><stop offset="0.0401" stop-color="#c97358"/><stop offset="0.0438" stop-color="#c46349"/><stop offset="0.0620" stop-color="#d3937e"/><stop offset="0.0657" stop-color="#d69d8a"/><stop offset="0.0876" stop-color="#daa999"/><stop offset="0.1314" stop-color="#d49682"/><stop offset="0.1423" stop-color="#d28f79"/><stop offset="0.1715" stop-color="#d79f8d"/><stop offset="0.2372" stop-color="#deb8ab"/><stop offset="0.3358" stop-color="#e4c9bf"/><stop offset="0.5255" stop-color="#ebdcd7"/><stop offset="1.0000" stop-color="#eee3df"/></linearGradient><linearGradient id="g2_16" x1="0" y1="0" x2="0" y2="1"><stop offset="0.0000" stop-color="#f1eceb"/><stop offset="0.0036" stop-color="#f1eceb"/><stop offset="0.0073" stop-color="#efe7e4"/><stop offset="0.0219" stop-color="#deb7a9"/><stop offset="0.0401" stop-color="#c87157"/><stop offset="0.0438" stop-color="#c36349"/><stop offset="0.0584" stop-color="#d08972"/><stop offset="0.0657" stop-color="#d69d8a"/><stop offset="0.0876" stop-color="#daa999"/><stop offset="0.1131" stop-color="#d69d8a"/><stop offset="0.1387" stop-color="#d2907a"/><stop offset="0.2080" stop-color="#dbae9f"/><stop offset="0.2774" stop-color="#e1c0b4"/><stop offset="0.3650" stop-color="#e4cac0"/><stop offset="0.5255" stop-color="#ebdbd6"/><stop offset="1.0000" stop-color="#eee3e0"/></linearGradient><linearGradient id="g2_17" x1="0" y1="0" x2="0" y2="1"><stop offset="0.0000" stop-color="#f1eceb"/><stop offset="0.0036" stop-color="#f1eceb"/><stop offset="0.0073" stop-color="#efe6e3"/><stop offset="0.0365" stop-color="#cc7d63"/><stop offset="0.0438" stop-color="#c36249"/><stop offset="0.0584" stop-color="#cf8870"/><stop offset="0.0693" stop-color="#d59b87"/><stop offset="0.0876" stop-color="#daa999"/><stop offset="0.1022" stop-color="#d69e8b"/><stop offset="0.1277" stop-color="#d3947f"/><stop offset="0.1387" stop-color="#d2907b"/><stop offset="0.1606" stop-color="#d69d8a"/><stop offset="0.2409" stop-color="#deb8aa"/><stop offset="0.3431" stop-color="#e3c8be"/><stop offset="0.3942" stop-color="#e5cbc2"/><stop offset="0.4927" stop-color="#ead8d2"/><stop offset="0.6679" stop-color="#ecdfda"/><stop offset="1.0000" stop-color="#eee3e0"/></linearGradient><linearGradient id="g2_18" x1="0" y1="0" x2="0" y2="1"><stop offset="0.0000" stop-color="#f1eceb"/><stop offset="0.0036" stop-color="#f1eceb"/><stop offset="0.0073" stop-color="#eee5e3"/><stop offset="0.0328" stop-color="#d08971"/><stop offset="0.0438" stop-color="#c36248"/><stop offset="0.0584" stop-color="#d18e78"/><stop offset="0.0657" stop-color="#d69d8a"/><stop offset="0.0730" stop-color="#d79f8d"/><stop offset="0.0803" stop-color="#d9a897"/><stop offset="0.0912" stop-color="#d8a493"/><stop offset="0.1058" stop-color="#d69d8a"/><stop offset="0.1350" stop-color="#d49681"/><stop offset="0.2409" stop-color="#deb7aa"/><stop offset="0.3540" stop-color="#e4c8be"/><stop offset="0.4015" stop-color="#e5ccc3"/><stop offset="0.5255" stop-color="#eadad4"/><stop offset="0.9270" stop-color="#eee3df"/><stop offset="1.0000" stop-color="#eee3e0"/></linearGradient><linearGradient id="g2_19" x1="0" y1="0" x2="0" y2="1"><stop offset="0.0000" stop-color="#f1eceb"/><stop offset="0.0036" stop-color="#f1eceb"/><stop offset="0.0073" stop-color="#eee5e2"/><stop offset="0.0328" stop-color="#cf8870"/><stop offset="0.0438" stop-color="#c36248"/><stop offset="0.0547" stop-color="#d28f79"/><stop offset="0.0620" stop-color="#d69e8b"/><stop offset="0.0839" stop-color="#daa998"/><stop offset="0.1168" stop-color="#d69e8b"/><stop offset="0.1460" stop-color="#d69c88"/><stop offset="0.2226" stop-color="#dcb2a3"/><stop offset="0.3321" stop-color="#e3c6bc"/><stop offset="0.4051" stop-color="#e5cdc4"/><stop offset="0.5365" stop-color="#eadad4"/><stop offset="1.0000" stop-color="#eee4e1"/></linearGradient><linearGradient id="g2_20" x1="0" y1="0" x2="0" y2="1"><stop offset="0.0000" stop-color="#f1eceb"/><stop offset="0.0036" stop-color="#f1eceb"/><stop offset="0.0073" stop-color="#eee5e2"/><stop offset="0.0292" stop-color="#d3947f"/><stop offset="0.0438" stop-color="#c36148"/><stop offset="0.0511" stop-color="#d08972"/><stop offset="0.0547" stop-color="#d69d8a"/><stop offset="0.0839" stop-color="#daa998"/><stop offset="0.1277" stop-color="#d69d8b"/><stop offset="0.1642" stop-color="#d79f8d"/><stop offset="0.2555" stop-color="#dfb9ac"/><stop offset="0.3613" stop-color="#e4c9bf"/><stop offset="0.5474" stop-color="#eadad4"/><stop offset="1.0000" stop-color="#eee4e1"/></linearGradient><linearGradient id="g2_21" x1="0" y1="0" x2="0" y2="1"><stop offset="0.0000" stop-color="#f1eceb"/><stop offset="0.0036" stop-color="#f1eceb"/><stop offset="0.0073" stop-color="#eee5e2"/><stop offset="0.0328" stop-color="#cf876f"/><stop offset="0.0438" stop-color="#c36147"/><stop offset="0.0547" stop-color="#d69d8a"/><stop offset="0.0839" stop-color="#daa998"/><stop offset="0.1314" stop-color="#d69e8b"/><stop offset="0.1679" stop-color="#d7a08e"/><stop offset="0.2555" stop-color="#deb8ab"/><stop offset="0.3650" stop-color="#e4c9c0"/><stop offset="0.5584" stop-color="#eadad4"/><stop offset="1.0000" stop-color="#eee4e1"/></linearGradient><linearGradient id="g2_22" x1="0" y1="0" x2="0" y2="1"><stop offset="0.0000" stop-color="#f1eceb"/><stop offset="0.0036" stop-color="#f1eceb"/><stop offset="0.0073" stop-color="#eee5e2"/><stop offset="0.0292" stop-color="#d3947f"/><stop offset="0.0401" stop-color="#c76e54"/><stop offset="0.0438" stop-color="#c36147"/><stop offset="0.0547" stop-color="#d69d8a"/><stop offset="0.0839" stop-color="#daa998"/><stop offset="0.1314" stop-color="#d69e8b"/><stop offset="0.1679" stop-color="#d79f8c"/><stop offset="0.2482" stop-color="#deb6a9"/><stop offset="0.3613" stop-color="#e4c9c0"/><stop offset="0.5693" stop-color="#eadad4"/><stop offset="1.0000" stop-color="#eee5e2"/></linearGradient><linearGradient id="g2_23" x1="0" y1="0" x2="0" y2="1"><stop offset="0.0000" stop-color="#f1eceb"/><stop offset="0.0036" stop-color="#f1eceb"/><stop offset="0.0073" stop-color="#eee5e2"/><stop offset="0.0328" stop-color="#cf8870"/><stop offset="0.0438" stop-color="#c36248"/><stop offset="0.0511" stop-color="#d08972"/><stop offset="0.0547" stop-color="#d69d8a"/><stop offset="0.0839" stop-color="#daa998"/><stop offset="0.1350" stop-color="#d69d8a"/><stop offset="0.1715" stop-color="#d79f8c"/><stop offset="0.2555" stop-color="#deb7aa"/><stop offset="0.3650" stop-color="#e4cac0"/><stop offset="0.5584" stop-color="#ead9d3"/><stop offset="1.0000" stop-color="#eee5e3"/></linearGradient><linearGradient id="g2_24" x1="0" y1="0" x2="0" y2="1"><stop offset="0.0000" stop-color="#f1eceb"/><stop offset="0.0036" stop-color="#f1eceb"/><stop offset="0.0073" stop-color="#eee5e2"/><stop offset="0.0328" stop-color="#d08971"/><stop offset="0.0438" stop-color="#c36249"/><stop offset="0.0547" stop-color="#d2907a"/><stop offset="0.0620" stop-color="#d69e8b"/><stop offset="0.0839" stop-color="#daa998"/><stop offset="0.1241" stop-color="#d69c89"/><stop offset="0.1715" stop-color="#d69e8b"/><stop offset="0.2591" stop-color="#deb7aa"/><stop offset="0.3650" stop-color="#e4cac0"/><stop offset="0.5547" stop-color="#ead8d2"/><stop offset="1.0000" stop-color="#efe6e3"/></linearGradient><linearGradient id="g2_25" x1="0" y1="0" x2="0" y2="1"><stop offset="0.0000" stop-color="#f1eceb"/><stop offset="0.0036" stop-color="#f1eceb"/><stop offset="0.0073" stop-color="#eee5e3"/><stop offset="0.0328" stop-color="#d08a73"/><stop offset="0.0438" stop-color="#c46349"/><stop offset="0.0511" stop-color="#cc7c61"/><stop offset="0.0584" stop-color="#d49682"/><stop offset="0.0620" stop-color="#d69e8b"/><stop offset="0.0839" stop-color="#d9a897"/><stop offset="0.1131" stop-color="#d69d8a"/><stop offset="0.1423" stop-color="#d59884"/><stop offset="0.1898" stop-color="#d8a290"/><stop offset="0.2518" stop-color="#deb6a8"/><stop offset="0.3686" stop-color="#e4cac0"/><stop offset="0.5803" stop-color="#ead9d3"/><stop offset="1.0000" stop-color="#efe7e5"/></linearGradient><linearGradient id="g2_26" x1="0" y1="0" x2="0" y2="1"><stop offset="0.0000" stop-color="#f1eceb"/><stop offset="0.0036" stop-color="#f1eceb"/><stop offset="0.0073" stop-color="#efe6e3"/><stop offset="0.0292" stop-color="#d59a86"/><stop offset="0.0401" stop-color="#ca785d"/><stop offset="0.0474" stop-color="#c5674d"/><stop offset="0.0511" stop-color="#c76c52"/><stop offset="0.0584" stop-color="#d08a73"/><stop offset="0.0657" stop-color="#d69d8a"/><stop offset="0.0876" stop-color="#d7a18e"/><stop offset="0.1350" stop-color="#d3947f"/><stop offset="0.1898" stop-color="#d7a18f"/><stop offset="0.2555" stop-color="#deb6a8"/><stop offset="0.3723" stop-color="#e4cac0"/><stop offset="0.6277" stop-color="#eadbd5"/><stop offset="1.0000" stop-color="#efe7e5"/></linearGradient><linearGradient id="g2_27" x1="0" y1="0" x2="0" y2="1"><stop offset="0.0000" stop-color="#f1eceb"/><stop offset="0.0036" stop-color="#f1eceb"/><stop offset="0.0073" stop-color="#efe6e3"/><stop offset="0.0328" stop-color="#d2927c"/><stop offset="0.0474" stop-color="#c6694f"/><stop offset="0.0511" stop-color="#c66b51"/><stop offset="0.0657" stop-color="#d69d8a"/><stop offset="0.0985" stop-color="#d69d8a"/><stop offset="0.1314" stop-color="#d08b73"/><stop offset="0.2299" stop-color="#dbae9f"/><stop offset="0.3613" stop-color="#e4c9bf"/><stop offset="0.6569" stop-color="#ebdbd6"/><stop offset="1.0000" stop-color="#efe7e5"/></linearGradient><linearGradient id="g2_28" x1="0" y1="0" x2="0" y2="1"><stop offset="0.0000" stop-color="#f1eceb"/><stop offset="0.0036" stop-color="#f1eceb"/><stop offset="0.0073" stop-color="#efe6e3"/><stop offset="0.0328" stop-color="#d3947f"/><stop offset="0.0474" stop-color="#c66a50"/><stop offset="0.0511" stop-color="#c66a50"/><stop offset="0.0693" stop-color="#d59985"/><stop offset="0.0766" stop-color="#d69d8a"/><stop offset="0.0985" stop-color="#d59a87"/><stop offset="0.1314" stop-color="#cd8167"/><stop offset="0.1569" stop-color="#d3937e"/><stop offset="0.2591" stop-color="#deb6a8"/><stop offset="0.3723" stop-color="#e4c9c0"/><stop offset="0.7007" stop-color="#ebddd8"/><stop offset="1.0000" stop-color="#efe8e5"/></linearGradient><linearGradient id="g2_29" x1="0" y1="0" x2="0" y2="1"><stop offset="0.0000" stop-color="#f1eceb"/><stop offset="0.0036" stop-color="#f1eceb"/><stop offset="0.0073" stop-color="#efe6e4"/><stop offset="0.0328" stop-color="#d39580"/><stop offset="0.0474" stop-color="#c66b51"/><stop offset="0.0511" stop-color="#c66a50"/><stop offset="0.0730" stop-color="#d59884"/><stop offset="0.0766" stop-color="#d69d8a"/><stop offset="0.0949" stop-color="#d59b88"/><stop offset="0.1241" stop-color="#cd8168"/><stop offset="0.1350" stop-color="#ce846c"/><stop offset="0.1825" stop-color="#d69e8b"/><stop offset="0.2591" stop-color="#ddb5a7"/><stop offset="0.3686" stop-color="#e4c9c0"/><stop offset="0.6095" stop-color="#ead8d2"/><stop offset="1.0000" stop-color="#efe8e6"/></linearGradient><linearGradient id="g2_30" x1="0" y1="0" x2="0" y2="1"><stop offset="0.0000" stop-color="#f1eceb"/><stop offset="0.0036" stop-color="#f1eceb"/><stop offset="0.0073" stop-color="#efe6e4"/><stop offset="0.0292" stop-color="#d7a08e"/><stop offset="0.0474" stop-color="#c66c51"/><stop offset="0.0511" stop-color="#c66a50"/><stop offset="0.0693" stop-color="#d18c76"/><stop offset="0.0766" stop-color="#d69d8a"/><stop offset="0.0876" stop-color="#d69d8a"/><stop offset="0.1095" stop-color="#d08a73"/><stop offset="0.1241" stop-color="#cd8066"/><stop offset="0.1898" stop-color="#d7a08e"/><stop offset="0.2628" stop-color="#deb6a8"/><stop offset="0.3686" stop-color="#e4c9bf"/><stop offset="0.5985" stop-color="#e9d7d0"/><stop offset="0.8467" stop-color="#ede2de"/><stop offset="1.0000" stop-color="#efe8e6"/></linearGradient><linearGradient id="g2_31" x1="0" y1="0" x2="0" y2="1"><stop offset="0.0000" stop-color="#f1eceb"/><stop offset="0.0036" stop-color="#f1eceb"/><stop offset="0.0073" stop-color="#efe6e4"/><stop offset="0.0328" stop-color="#d49682"/><stop offset="0.0474" stop-color="#c76c52"/><stop offset="0.0511" stop-color="#c66a50"/><stop offset="0.0803" stop-color="#d28f79"/><stop offset="0.0949" stop-color="#d18d76"/><stop offset="0.1277" stop-color="#cd7f65"/><stop offset="0.1788" stop-color="#d69c89"/><stop offset="0.2628" stop-color="#ddb5a7"/><stop offset="0.3686" stop-color="#e4c9bf"/><stop offset="0.5584" stop-color="#e7d3cb"/><stop offset="0.7336" stop-color="#ecded9"/><stop offset="1.0000" stop-color="#efe8e6"/></linearGradient><linearGradient id="g2_32" x1="0" y1="0" x2="0" y2="1"><stop offset="0.0000" stop-color="#f1eceb"/><stop offset="0.0036" stop-color="#f1eceb"/><stop offset="0.0073" stop-color="#efe6e4"/><stop offset="0.0365" stop-color="#d18d76"/><stop offset="0.0474" stop-color="#c76d53"/><stop offset="0.0511" stop-color="#c66a4f"/><stop offset="0.0803" stop-color="#ce836a"/><stop offset="0.0985" stop-color="#ce856c"/><stop offset="0.1277" stop-color="#cc7e64"/><stop offset="0.1788" stop-color="#d69e8b"/><stop offset="0.2701" stop-color="#deb6a9"/><stop offset="0.3686" stop-color="#e4c9bf"/><stop offset="0.5438" stop-color="#e7d0c8"/><stop offset="0.7372" stop-color="#ecded9"/><stop offset="1.0000" stop-color="#f0e8e6"/></linearGradient><linearGradient id="g2_33" x1="0" y1="0" x2="0" y2="1"><stop offset="0.0000" stop-color="#f1eceb"/><stop offset="0.0036" stop-color="#f1eceb"/><stop offset="0.0073" stop-color="#efe6e4"/><stop offset="0.0365" stop-color="#d18e78"/><stop offset="0.0474" stop-color="#c76e54"/><stop offset="0.0511" stop-color="#c66a4f"/><stop offset="0.0839" stop-color="#cc7e64"/><stop offset="0.1131" stop-color="#cc7e64"/><stop offset="0.1241" stop-color="#cc7d63"/><stop offset="0.1752" stop-color="#d69d8a"/><stop offset="0.2737" stop-color="#deb7a9"/><stop offset="0.3723" stop-color="#e3c8be"/><stop offset="0.5365" stop-color="#e6cfc6"/><stop offset="0.7555" stop-color="#ecdeda"/><stop offset="1.0000" stop-color="#f0e8e6"/></linearGradient><linearGradient id="g2_34" x1="0" y1="0" x2="0" y2="1"><stop offset="0.0000" stop-color="#f1eceb"/><stop offset="0.0036" stop-color="#f1eceb"/><stop offset="0.0073" stop-color="#efe6e4"/><stop offset="0.0328" stop-color="#d59a86"/><stop offset="0.0474" stop-color="#ca755b"/><stop offset="0.0547" stop-color="#c5694f"/><stop offset="0.0839" stop-color="#cc7c61"/><stop offset="0.1168" stop-color="#cc7c61"/><stop offset="0.1241" stop-color="#cc7e63"/><stop offset="0.1715" stop-color="#d69d8a"/><stop offset="0.2774" stop-color="#deb7aa"/><stop offset="0.3832" stop-color="#e3c7bd"/><stop offset="0.5219" stop-color="#e5ccc3"/><stop offset="0.7409" stop-color="#ecded9"/><stop offset="1.0000" stop-color="#f0e8e6"/></linearGradient><linearGradient id="g2_35" x1="0" y1="0" x2="0" y2="1"><stop offset="0.0000" stop-color="#f1eceb"/><stop offset="0.0036" stop-color="#f1eceb"/><stop offset="0.0073" stop-color="#efe6e4"/><stop offset="0.0328" stop-color="#d59b88"/><stop offset="0.0474" stop-color="#cb795e"/><stop offset="0.0547" stop-color="#c66a50"/><stop offset="0.0876" stop-color="#cc7c61"/><stop offset="0.1204" stop-color="#cb7a5f"/><stop offset="0.1679" stop-color="#d69c89"/><stop offset="0.2737" stop-color="#deb6a9"/><stop offset="0.3978" stop-color="#e3c7bd"/><stop offset="0.5292" stop-color="#e5ccc2"/><stop offset="0.7409" stop-color="#ecded9"/><stop offset="1.0000" stop-color="#f0e8e7"/></linearGradient><linearGradient id="g2_36" x1="0" y1="0" x2="0" y2="1"><stop offset="0.0000" stop-color="#f1eceb"/><stop offset="0.0036" stop-color="#f1eceb"/><stop offset="0.0073" stop-color="#efe6e4"/><stop offset="0.0365" stop-color="#d2917c"/><stop offset="0.0474" stop-color="#ca775c"/><stop offset="0.0547" stop-color="#c66a50"/><stop offset="0.0876" stop-color="#cc7c61"/><stop offset="0.1204" stop-color="#cb7b60"/><stop offset="0.1642" stop-color="#d69d8a"/><stop offset="0.2810" stop-color="#deb7aa"/><stop offset="0.4124" stop-color="#e3c7bd"/><stop offset="0.5365" stop-color="#e5cbc2"/><stop offset="0.7445" stop-color="#ecddd9"/><stop offset="1.0000" stop-color="#f0e9e7"/></linearGradient><linearGradient id="g2_37" x1="0" y1="0" x2="0" y2="1"><stop offset="0.0000" stop-color="#f1eceb"/><stop offset="0.0036" stop-color="#f1eceb"/><stop offset="0.0073" stop-color="#efe6e4"/><stop offset="0.0401" stop-color="#cf866d"/><stop offset="0.0474" stop-color="#c87056"/><stop offset="0.0511" stop-color="#c66b51"/><stop offset="0.0876" stop-color="#cc7c61"/><stop offset="0.1204" stop-color="#cc7f65"/><stop offset="0.1642" stop-color="#d69d8a"/><stop offset="0.2774" stop-color="#deb7a9"/><stop offset="0.4270" stop-color="#e3c7bd"/><stop offset="0.5474" stop-color="#e5cbc2"/><stop offset="0.7372" stop-color="#ebddd8"/><stop offset="1.0000" stop-color="#f0e9e7"/></linearGradient><linearGradient id="g2_38" x1="0" y1="0" x2="0" y2="1"><stop offset="0.0000" stop-color="#f1eceb"/><stop offset="0.0036" stop-color="#f1eceb"/><stop offset="0.0073" stop-color="#efe6e4"/><stop offset="0.0365" stop-color="#d28f79"/><stop offset="0.0474" stop-color="#c87156"/><stop offset="0.0511" stop-color="#c76c52"/><stop offset="0.0876" stop-color="#cc7c61"/><stop offset="0.1168" stop-color="#cc7f65"/><stop offset="0.1606" stop-color="#d69d8a"/><stop offset="0.2737" stop-color="#deb6a8"/><stop offset="0.4234" stop-color="#e3c6bb"/><stop offset="0.5620" stop-color="#e5ccc3"/><stop offset="0.7409" stop-color="#ebddd8"/><stop offset="1.0000" stop-color="#f0e9e7"/></linearGradient><linearGradient id="g2_39" x1="0" y1="0" x2="0" y2="1"><stop offset="0.0000" stop-color="#f1eceb"/><stop offset="0.0036" stop-color="#f1eceb"/><stop offset="0.0073" stop-color="#efe6e4"/><stop offset="0.0365" stop-color="#d28f79"/><stop offset="0.0474" stop-color="#c87157"/><stop offset="0.0511" stop-color="#c76d53"/><stop offset="0.0912" stop-color="#cc7d62"/><stop offset="0.1168" stop-color="#cd8067"/><stop offset="0.1569" stop-color="#d69c89"/><stop offset="0.2737" stop-color="#deb6a8"/><stop offset="0.4270" stop-color="#e2c5ba"/><stop offset="0.5620" stop-color="#e5cbc2"/><stop offset="0.7409" stop-color="#ebddd8"/><stop offset="1.0000" stop-color="#f0e9e7"/></linearGradient><linearGradient id="g2_40" x1="0" y1="0" x2="0" y2="1"><stop offset="0.0000" stop-color="#f1eceb"/><stop offset="0.0036" stop-color="#f1eceb"/><stop offset="0.0073" stop-color="#efe6e4"/><stop offset="0.0365" stop-color="#d28f79"/><stop offset="0.0474" stop-color="#c87257"/><stop offset="0.0511" stop-color="#c76e53"/><stop offset="0.0949" stop-color="#cc7f65"/><stop offset="0.1168" stop-color="#cd8268"/><stop offset="0.1569" stop-color="#d69e8b"/><stop offset="0.2774" stop-color="#deb6a8"/><stop offset="0.4307" stop-color="#e2c4b9"/><stop offset="0.5766" stop-color="#e5ccc3"/><stop offset="0.7409" stop-color="#ebddd8"/><stop offset="1.0000" stop-color="#f0e9e7"/></linearGradient><linearGradient id="g2_41" x1="0" y1="0" x2="0" y2="1"><stop offset="0.0000" stop-color="#f1eceb"/><stop offset="0.0036" stop-color="#f1eceb"/><stop offset="0.0073" stop-color="#efe6e4"/><stop offset="0.0365" stop-color="#d28f79"/><stop offset="0.0474" stop-color="#c87258"/><stop offset="0.0511" stop-color="#c76e54"/><stop offset="0.0912" stop-color="#cd8167"/><stop offset="0.1095" stop-color="#cd8168"/><stop offset="0.1533" stop-color="#d69d8a"/><stop offset="0.2774" stop-color="#deb6a8"/><stop offset="0.4453" stop-color="#e2c4b9"/><stop offset="0.5839" stop-color="#e5ccc3"/><stop offset="0.7299" stop-color="#ebdcd7"/><stop offset="1.0000" stop-color="#f0e9e8"/></linearGradient><linearGradient id="g2_42" x1="0" y1="0" x2="0" y2="1"><stop offset="0.0000" stop-color="#f1eceb"/><stop offset="0.0036" stop-color="#f1eceb"/><stop offset="0.0073" stop-color="#efe6e4"/><stop offset="0.0328" stop-color="#d59985"/><stop offset="0.0474" stop-color="#c97358"/><stop offset="0.0511" stop-color="#c76f55"/><stop offset="0.0912" stop-color="#ce856c"/><stop offset="0.1642" stop-color="#d7a08d"/><stop offset="0.2737" stop-color="#ddb5a7"/><stop offset="0.4307" stop-color="#e2c2b7"/><stop offset="0.5839" stop-color="#e5ccc2"/><stop offset="0.7190" stop-color="#ebdbd6"/><stop offset="1.0000" stop-color="#f0e9e8"/></linearGradient><linearGradient id="g2_43" x1="0" y1="0" x2="0" y2="1"><stop offset="0.0000" stop-color="#f1eceb"/><stop offset="0.0036" stop-color="#f1eceb"/><stop offset="0.0073" stop-color="#efe6e4"/><stop offset="0.0328" stop-color="#d49782"/><stop offset="0.0474" stop-color="#c97358"/><stop offset="0.0511" stop-color="#c87056"/><stop offset="0.0876" stop-color="#d08971"/><stop offset="0.1533" stop-color="#d69d8a"/><stop offset="0.2664" stop-color="#ddb4a6"/><stop offset="0.4270" stop-color="#e1c1b6"/><stop offset="0.5876" stop-color="#e5ccc2"/><stop offset="0.7080" stop-color="#eadad5"/><stop offset="1.0000" stop-color="#f0eae8"/></linearGradient><linearGradient id="g2_44" x1="0" y1="0" x2="0" y2="1"><stop offset="0.0000" stop-color="#f1eceb"/><stop offset="0.0036" stop-color="#f1eceb"/><stop offset="0.0073" stop-color="#efe6e4"/><stop offset="0.0438" stop-color="#c76f55"/><stop offset="0.0657" stop-color="#cd8168"/><stop offset="0.0912" stop-color="#d2917b"/><stop offset="0.1387" stop-color="#d69d8a"/><stop offset="0.2883" stop-color="#deb7a9"/><stop offset="0.5693" stop-color="#e4c9bf"/><stop offset="0.7153" stop-color="#ebdbd6"/><stop offset="1.0000" stop-color="#f0eae8"/></linearGradient><linearGradient id="g2_45" x1="0" y1="0" x2="0" y2="1"><stop offset="0.0000" stop-color="#f1eceb"/><stop offset="0.0036" stop-color="#f1eceb"/><stop offset="0.0073" stop-color="#efe6e3"/><stop offset="0.0401" stop-color="#cc7c61"/><stop offset="0.0438" stop-color="#c87055"/><stop offset="0.0803" stop-color="#d39580"/><stop offset="0.1131" stop-color="#d69d8a"/><stop offset="0.1934" stop-color="#d9a897"/><stop offset="0.3066" stop-color="#deb8ab"/><stop offset="0.5912" stop-color="#e5ccc3"/><stop offset="0.7153" stop-color="#ebdbd6"/><stop offset="1.0000" stop-color="#f0eae8"/></linearGradient><linearGradient id="g2_46" x1="0" y1="0" x2="0" y2="1"><stop offset="0.0000" stop-color="#f1eceb"/><stop offset="0.0036" stop-color="#f1eceb"/><stop offset="0.0073" stop-color="#efe6e3"/><stop offset="0.0365" stop-color="#cf8870"/><stop offset="0.0438" stop-color="#c87257"/><stop offset="0.0766" stop-color="#d69d8a"/><stop offset="0.1642" stop-color="#d8a492"/><stop offset="0.3029" stop-color="#deb8ab"/><stop offset="0.5073" stop-color="#e2c5ba"/><stop offset="0.6022" stop-color="#e6cec5"/><stop offset="0.7226" stop-color="#ebdcd7"/><stop offset="1.0000" stop-color="#f0eae8"/></linearGradient><linearGradient id="g2_47" x1="0" y1="0" x2="0" y2="1"><stop offset="0.0000" stop-color="#f1eceb"/><stop offset="0.0036" stop-color="#f1eceb"/><stop offset="0.0073" stop-color="#efe6e3"/><stop offset="0.0328" stop-color="#d3937e"/><stop offset="0.0438" stop-color="#c97459"/><stop offset="0.0693" stop-color="#d59b88"/><stop offset="0.2007" stop-color="#daaa9a"/><stop offset="0.3321" stop-color="#dfbbae"/><stop offset="0.4453" stop-color="#e0bfb3"/><stop offset="0.6058" stop-color="#e6cec6"/><stop offset="0.7226" stop-color="#ebdcd7"/><stop offset="1.0000" stop-color="#f0eae9"/></linearGradient><linearGradient id="g2_48" x1="0" y1="0" x2="0" y2="1"><stop offset="0.0000" stop-color="#f1eceb"/><stop offset="0.0036" stop-color="#f1eceb"/><stop offset="0.0073" stop-color="#efe6e3"/><stop offset="0.0292" stop-color="#d69e8b"/><stop offset="0.0438" stop-color="#ca765b"/><stop offset="0.0657" stop-color="#d69d8a"/><stop offset="0.1861" stop-color="#daa998"/><stop offset="0.3321" stop-color="#dfbbae"/><stop offset="0.4526" stop-color="#e0bfb3"/><stop offset="0.6168" stop-color="#e7d0c8"/><stop offset="0.7372" stop-color="#ebddd8"/><stop offset="1.0000" stop-color="#f0eae9"/></linearGradient><linearGradient id="g2_49" x1="0" y1="0" x2="0" y2="1"><stop offset="0.0000" stop-color="#f1eceb"/><stop offset="0.0036" stop-color="#f1eceb"/><stop offset="0.0073" stop-color="#efe6e3"/><stop offset="0.0292" stop-color="#d69b88"/><stop offset="0.0401" stop-color="#cc7e64"/><stop offset="0.0438" stop-color="#ca785d"/><stop offset="0.0584" stop-color="#d59985"/><stop offset="0.0657" stop-color="#d69d8a"/><stop offset="0.2117" stop-color="#dbad9d"/><stop offset="0.3540" stop-color="#e0bcb0"/><stop offset="0.4599" stop-color="#e1bfb3"/><stop offset="0.6460" stop-color="#e8d4cd"/><stop offset="0.7372" stop-color="#ebddd8"/><stop offset="1.0000" stop-color="#f0eae9"/></linearGradient><linearGradient id="g2_50" x1="0" y1="0" x2="0" y2="1"><stop offset="0.0000" stop-color="#f1eceb"/><stop offset="0.0036" stop-color="#f1eceb"/><stop offset="0.0073" stop-color="#efe6e3"/><stop offset="0.0365" stop-color="#cd8067"/><stop offset="0.0401" stop-color="#cc7c61"/><stop offset="0.0547" stop-color="#d3937d"/><stop offset="0.0620" stop-color="#d69d8a"/><stop offset="0.2445" stop-color="#dcb2a3"/><stop offset="0.3686" stop-color="#e0bdb1"/><stop offset="0.4562" stop-color="#e0beb2"/><stop offset="0.7336" stop-color="#ebddd8"/><stop offset="1.0000" stop-color="#f0eae9"/></linearGradient><linearGradient id="g2_51" x1="0" y1="0" x2="0" y2="1"><stop offset="0.0000" stop-color="#f1eceb"/><stop offset="0.0036" stop-color="#f1eceb"/><stop offset="0.0073" stop-color="#efe6e3"/><stop offset="0.0365" stop-color="#ce8269"/><stop offset="0.0401" stop-color="#cd7f65"/><stop offset="0.0584" stop-color="#d59a87"/><stop offset="0.0803" stop-color="#d79f8c"/><stop offset="0.3467" stop-color="#e0bdb0"/><stop offset="0.4599" stop-color="#e0beb2"/><stop offset="0.7372" stop-color="#ebddd8"/><stop offset="1.0000" stop-color="#f0ebe9"/></linearGradient><linearGradient id="g2_52" x1="0" y1="0" x2="0" y2="1"><stop offset="0.0000" stop-color="#f1eceb"/><stop offset="0.0036" stop-color="#f1eceb"/><stop offset="0.0073" stop-color="#efe6e3"/><stop offset="0.0365" stop-color="#ce846c"/><stop offset="0.0401" stop-color="#cd8168"/><stop offset="0.0584" stop-color="#d59b87"/><stop offset="0.0912" stop-color="#d7a08e"/><stop offset="0.2737" stop-color="#deb7a9"/><stop offset="0.3832" stop-color="#e0beb2"/><stop offset="0.4635" stop-color="#e0beb2"/><stop offset="0.7336" stop-color="#ebddd8"/><stop offset="1.0000" stop-color="#f1ebe9"/></linearGradient><linearGradient id="g2_53" x1="0" y1="0" x2="0" y2="1"><stop offset="0.0000" stop-color="#f1eceb"/><stop offset="0.0036" stop-color="#f1eceb"/><stop offset="0.0073" stop-color="#efe6e4"/><stop offset="0.0328" stop-color="#d3947f"/><stop offset="0.0365" stop-color="#d08972"/><stop offset="0.0401" stop-color="#cf866e"/><stop offset="0.0547" stop-color="#d69d8a"/><stop offset="0.2518" stop-color="#ddb4a6"/><stop offset="0.3577" stop-color="#e0beb2"/><stop offset="0.4635" stop-color="#e0beb2"/><stop offset="0.6569" stop-color="#e9d6cf"/><stop offset="0.7737" stop-color="#ecdfdb"/><stop offset="1.0000" stop-color="#f1ebea"/></linearGradient><linearGradient id="g2_54" x1="0" y1="0" x2="0" y2="1"><stop offset="0.0000" stop-color="#f1eceb"/><stop offset="0.0036" stop-color="#f1eceb"/><stop offset="0.0073" stop-color="#efe6e4"/><stop offset="0.0365" stop-color="#d18e77"/><stop offset="0.0401" stop-color="#d08b74"/><stop offset="0.0547" stop-color="#d69d8a"/><stop offset="0.2372" stop-color="#ddb3a4"/><stop offset="0.3394" stop-color="#e0beb2"/><stop offset="0.4672" stop-color="#e1c0b4"/><stop offset="0.6058" stop-color="#e6cfc7"/><stop offset="0.7409" stop-color="#ecddd9"/><stop offset="1.0000" stop-color="#f1ebea"/></linearGradient><linearGradient id="g2_55" x1="0" y1="0" x2="0" y2="1"><stop offset="0.0000" stop-color="#f1eceb"/><stop offset="0.0036" stop-color="#f1eceb"/><stop offset="0.0073" stop-color="#efe7e4"/><stop offset="0.0365" stop-color="#d3927d"/><stop offset="0.0401" stop-color="#d2907a"/><stop offset="0.0511" stop-color="#d69d8a"/><stop offset="0.2226" stop-color="#dcb1a2"/><stop offset="0.3321" stop-color="#e0bfb3"/><stop offset="0.4854" stop-color="#e2c3b8"/><stop offset="0.5876" stop-color="#e5cdc4"/><stop offset="0.7445" stop-color="#ecded9"/><stop offset="1.0000" stop-color="#f1ebea"/></linearGradient><linearGradient id="g2_56" x1="0" y1="0" x2="0" y2="1"><stop offset="0.0000" stop-color="#f1eceb"/><stop offset="0.0036" stop-color="#f1eceb"/><stop offset="0.0073" stop-color="#efe7e4"/><stop offset="0.0365" stop-color="#d49782"/><stop offset="0.0401" stop-color="#d49681"/><stop offset="0.0438" stop-color="#d69d8a"/><stop offset="0.2117" stop-color="#dcb0a0"/><stop offset="0.2993" stop-color="#e0bdb1"/><stop offset="0.4161" stop-color="#e1c2b6"/><stop offset="0.5620" stop-color="#e4c9bf"/><stop offset="0.7153" stop-color="#ebdcd7"/><stop offset="1.0000" stop-color="#f1ebea"/></linearGradient><linearGradient id="g2_57" x1="0" y1="0" x2="0" y2="1"><stop offset="0.0000" stop-color="#f1eceb"/><stop offset="0.0036" stop-color="#f1eceb"/><stop offset="0.0073" stop-color="#efe7e5"/><stop offset="0.0292" stop-color="#daab9b"/><stop offset="0.0365" stop-color="#d69d8a"/><stop offset="0.0438" stop-color="#d69c89"/><stop offset="0.1825" stop-color="#dbac9c"/><stop offset="0.3102" stop-color="#e1c0b4"/><stop offset="0.5292" stop-color="#e3c8bd"/><stop offset="0.7409" stop-color="#ecded9"/><stop offset="1.0000" stop-color="#f1ebea"/></linearGradient><linearGradient id="g2_58" x1="0" y1="0" x2="0" y2="1"><stop offset="0.0000" stop-color="#f1eceb"/><stop offset="0.0036" stop-color="#f1eceb"/><stop offset="0.0073" stop-color="#efe7e5"/><stop offset="0.0292" stop-color="#daa999"/><stop offset="0.0328" stop-color="#d69d8a"/><stop offset="0.1934" stop-color="#dcafa0"/><stop offset="0.3066" stop-color="#e1c1b5"/><stop offset="0.5547" stop-color="#e4cac0"/><stop offset="0.7372" stop-color="#ecddd9"/><stop offset="1.0000" stop-color="#f1ebea"/></linearGradient><linearGradient id="g2_59" x1="0" y1="0" x2="0" y2="1"><stop offset="0.0000" stop-color="#f1eceb"/><stop offset="0.0036" stop-color="#f1eceb"/><stop offset="0.0109" stop-color="#ecdeda"/><stop offset="0.0328" stop-color="#daa999"/><stop offset="0.0401" stop-color="#d79f8c"/><stop offset="0.1898" stop-color="#dcb0a1"/><stop offset="0.3066" stop-color="#e2c2b7"/><stop offset="0.5474" stop-color="#e4cac0"/><stop offset="0.7372" stop-color="#ecded9"/><stop offset="1.0000" stop-color="#f1eceb"/></linearGradient><linearGradient id="g2_60" x1="0" y1="0" x2="0" y2="1"><stop offset="0.0000" stop-color="#f1eceb"/><stop offset="0.0073" stop-color="#efe8e6"/><stop offset="0.0365" stop-color="#d8a493"/><stop offset="0.0401" stop-color="#d7a18e"/><stop offset="0.1679" stop-color="#dbad9e"/><stop offset="0.3029" stop-color="#e2c4b9"/><stop offset="0.5438" stop-color="#e4cac1"/><stop offset="0.7482" stop-color="#ecdeda"/><stop offset="1.0000" stop-color="#f1eceb"/></linearGradient><linearGradient id="g2_61" x1="0" y1="0" x2="0" y2="1"><stop offset="0.0000" stop-color="#f1eceb"/><stop offset="0.0073" stop-color="#efe8e6"/><stop offset="0.0365" stop-color="#d9a695"/><stop offset="0.0438" stop-color="#d8a391"/><stop offset="0.1606" stop-color="#dbae9e"/><stop offset="0.3066" stop-color="#e3c6bc"/><stop offset="0.5255" stop-color="#e4cac0"/><stop offset="0.7518" stop-color="#ecdfda"/><stop offset="1.0000" stop-color="#f1eceb"/></linearGradient><linearGradient id="g2_62" x1="0" y1="0" x2="0" y2="1"><stop offset="0.0000" stop-color="#f1eceb"/><stop offset="0.0073" stop-color="#efe8e6"/><stop offset="0.0365" stop-color="#d9a897"/><stop offset="0.0438" stop-color="#d8a593"/><stop offset="0.1423" stop-color="#dbac9c"/><stop offset="0.3102" stop-color="#e4c9bf"/><stop offset="0.5182" stop-color="#e4cac1"/><stop offset="0.7847" stop-color="#ede1dd"/><stop offset="1.0000" stop-color="#f1eceb"/></linearGradient><linearGradient id="g2_63" x1="0" y1="0" x2="0" y2="1"><stop offset="0.0000" stop-color="#f1eceb"/><stop offset="0.0073" stop-color="#f0e8e6"/><stop offset="0.0365" stop-color="#daa999"/><stop offset="0.0401" stop-color="#d9a694"/><stop offset="0.1460" stop-color="#dbaf9f"/><stop offset="0.3029" stop-color="#e4cac0"/><stop offset="0.4234" stop-color="#e4c9c0"/><stop offset="0.5036" stop-color="#e5ccc2"/><stop offset="0.8869" stop-color="#efe7e5"/><stop offset="1.0000" stop-color="#f1eceb"/></linearGradient><linearGradient id="g2_64" x1="0" y1="0" x2="0" y2="1"><stop offset="0.0000" stop-color="#f1eceb"/><stop offset="0.0073" stop-color="#f0e8e6"/><stop offset="0.0365" stop-color="#daab9b"/><stop offset="0.0438" stop-color="#d9a897"/><stop offset="0.1423" stop-color="#dcb0a1"/><stop offset="0.2920" stop-color="#e4cac1"/><stop offset="0.4015" stop-color="#e5cdc4"/><stop offset="0.4964" stop-color="#e5cdc4"/><stop offset="0.9234" stop-color="#f0e9e7"/><stop offset="1.0000" stop-color="#f1eceb"/></linearGradient><linearGradient id="g2_65" x1="0" y1="0" x2="0" y2="1"><stop offset="0.0000" stop-color="#f1eceb"/><stop offset="0.0073" stop-color="#f0e8e6"/><stop offset="0.0365" stop-color="#dbad9d"/><stop offset="0.0438" stop-color="#daaa99"/><stop offset="0.1350" stop-color="#dcb1a2"/><stop offset="0.2920" stop-color="#e5ccc3"/><stop offset="0.3978" stop-color="#e6cfc7"/><stop offset="0.5438" stop-color="#e7d1c9"/><stop offset="0.9380" stop-color="#f0eae8"/><stop offset="1.0000" stop-color="#f1eceb"/></linearGradient><linearGradient id="g2_66" x1="0" y1="0" x2="0" y2="1"><stop offset="0.0000" stop-color="#f1eceb"/><stop offset="0.0073" stop-color="#f0e8e6"/><stop offset="0.0365" stop-color="#dbaf9f"/><stop offset="0.0438" stop-color="#daab9b"/><stop offset="0.1496" stop-color="#ddb5a7"/><stop offset="0.3102" stop-color="#e6d0c8"/><stop offset="0.5620" stop-color="#e8d3cc"/><stop offset="0.9526" stop-color="#f0ebe9"/><stop offset="1.0000" stop-color="#f1eceb"/></linearGradient><linearGradient id="g2_67" x1="0" y1="0" x2="0" y2="1"><stop offset="0.0000" stop-color="#f1eceb"/><stop offset="0.0073" stop-color="#f0e8e7"/><stop offset="0.0365" stop-color="#dcb0a1"/><stop offset="0.0438" stop-color="#dbad9d"/><stop offset="0.1496" stop-color="#deb7a9"/><stop offset="0.3066" stop-color="#e7d2ca"/><stop offset="0.4489" stop-color="#e8d4cd"/><stop offset="0.5584" stop-color="#e8d4cd"/><stop offset="0.9526" stop-color="#f0ebe9"/><stop offset="1.0000" stop-color="#f1eceb"/></linearGradient><linearGradient id="g2_68" x1="0" y1="0" x2="0" y2="1"><stop offset="0.0000" stop-color="#f1eceb"/><stop offset="0.0073" stop-color="#f0e9e7"/><stop offset="0.0365" stop-color="#dcb1a3"/><stop offset="0.0438" stop-color="#dbae9f"/><stop offset="0.1533" stop-color="#dfb9ac"/><stop offset="0.3102" stop-color="#e8d5ce"/><stop offset="0.4453" stop-color="#e9d6d0"/><stop offset="0.5474" stop-color="#e8d5ce"/><stop offset="0.8248" stop-color="#eee4e1"/><stop offset="1.0000" stop-color="#f1eceb"/></linearGradient><linearGradient id="g2_69" x1="0" y1="0" x2="0" y2="1"><stop offset="0.0000" stop-color="#f1eceb"/><stop offset="0.0073" stop-color="#f0e9e7"/><stop offset="0.0365" stop-color="#ddb3a4"/><stop offset="0.0438" stop-color="#dcb0a0"/><stop offset="0.1606" stop-color="#e0bcaf"/><stop offset="0.2628" stop-color="#e7d0c8"/><stop offset="0.3248" stop-color="#ead8d2"/><stop offset="0.4672" stop-color="#e9d6d0"/><stop offset="0.6350" stop-color="#ead9d3"/><stop offset="0.9489" stop-color="#f0ebe9"/><stop offset="1.0000" stop-color="#f1eceb"/></linearGradient><linearGradient id="g2_70" x1="0" y1="0" x2="0" y2="1"><stop offset="0.0000" stop-color="#f1eceb"/><stop offset="0.0073" stop-color="#f0e9e7"/><stop offset="0.0365" stop-color="#ddb4a5"/><stop offset="0.0511" stop-color="#dcb1a3"/><stop offset="0.1752" stop-color="#e1c0b4"/><stop offset="0.2445" stop-color="#e6cec5"/><stop offset="0.2810" stop-color="#e9d7d1"/><stop offset="0.3686" stop-color="#ebdbd6"/><stop offset="0.5547" stop-color="#e9d7d1"/><stop offset="0.7920" stop-color="#ede2de"/><stop offset="0.9672" stop-color="#f1ebea"/><stop offset="1.0000" stop-color="#f1eceb"/></linearGradient><linearGradient id="g2_71" x1="0" y1="0" x2="0" y2="1"><stop offset="0.0000" stop-color="#f1eceb"/><stop offset="0.0073" stop-color="#f0e9e7"/><stop offset="0.0365" stop-color="#ddb5a7"/><stop offset="0.0438" stop-color="#dcb2a3"/><stop offset="0.1715" stop-color="#e1c1b5"/><stop offset="0.2409" stop-color="#e6cfc7"/><stop offset="0.2956" stop-color="#ebdcd7"/><stop offset="0.3796" stop-color="#ecddd9"/><stop offset="0.5365" stop-color="#ead8d2"/><stop offset="0.7664" stop-color="#ede0dc"/><stop offset="0.9270" stop-color="#f0eae8"/><stop offset="1.0000" stop-color="#f1eceb"/></linearGradient><linearGradient id="g2_72" x1="0" y1="0" x2="0" y2="1"><stop offset="0.0000" stop-color="#f1eceb"/><stop offset="0.0073" stop-color="#f0e9e7"/><stop offset="0.0401" stop-color="#deb6a8"/><stop offset="0.0547" stop-color="#ddb4a6"/><stop offset="0.1679" stop-color="#e1c2b6"/><stop offset="0.2372" stop-color="#e7d1c9"/><stop offset="0.2956" stop-color="#ece0dc"/><stop offset="0.3796" stop-color="#ece0dc"/><stop offset="0.5000" stop-color="#ead9d4"/><stop offset="0.7190" stop-color="#ebddd8"/><stop offset="0.9234" stop-color="#f0eae8"/><stop offset="1.0000" stop-color="#f1eceb"/></linearGradient><linearGradient id="g2_73" x1="0" y1="0" x2="0" y2="1"><stop offset="0.0000" stop-color="#f1eceb"/><stop offset="0.0073" stop-color="#f0e9e7"/><stop offset="0.0438" stop-color="#ddb4a6"/><stop offset="0.1642" stop-color="#e1c2b7"/><stop offset="0.2263" stop-color="#e7d0c8"/><stop offset="0.2591" stop-color="#ebdbd6"/><stop offset="0.2956" stop-color="#eee5e2"/><stop offset="0.3686" stop-color="#eee4e1"/><stop offset="0.4489" stop-color="#ebdcd7"/><stop offset="0.6971" stop-color="#ebdcd7"/><stop offset="0.9416" stop-color="#f0eae9"/><stop offset="1.0000" stop-color="#f1eceb"/></linearGradient><linearGradient id="g2_74" x1="0" y1="0" x2="0" y2="1"><stop offset="0.0000" stop-color="#f1eceb"/><stop offset="0.0073" stop-color="#f0e9e8"/><stop offset="0.0438" stop-color="#deb5a8"/><stop offset="0.1423" stop-color="#e1c0b4"/><stop offset="0.2153" stop-color="#e6cfc7"/><stop offset="0.2518" stop-color="#ebddd8"/><stop offset="0.2628" stop-color="#efe7e5"/><stop offset="0.3723" stop-color="#efe6e3"/><stop offset="0.4453" stop-color="#ebddd8"/><stop offset="0.7190" stop-color="#ebddd8"/><stop offset="0.9161" stop-color="#f0eae8"/><stop offset="1.0000" stop-color="#f1eceb"/></linearGradient><linearGradient id="g2_75" x1="0" y1="0" x2="0" y2="1"><stop offset="0.0000" stop-color="#f1eceb"/><stop offset="0.0073" stop-color="#f0e9e8"/><stop offset="0.0438" stop-color="#deb7a9"/><stop offset="0.1423" stop-color="#e1c1b5"/><stop offset="0.2080" stop-color="#e6cfc7"/><stop offset="0.2482" stop-color="#ecded9"/><stop offset="0.2664" stop-color="#efe7e5"/><stop offset="0.3723" stop-color="#efe6e4"/><stop offset="0.4526" stop-color="#ecded9"/><stop offset="0.7153" stop-color="#ebddd8"/><stop offset="0.9015" stop-color="#f0e9e7"/><stop offset="1.0000" stop-color="#f1eceb"/></linearGradient><linearGradient id="g2_76" x1="0" y1="0" x2="0" y2="1"><stop offset="0.0000" stop-color="#f1eceb"/><stop offset="0.0073" stop-color="#f0e9e8"/><stop offset="0.0438" stop-color="#deb8ab"/><stop offset="0.1277" stop-color="#e0bfb3"/><stop offset="0.2044" stop-color="#e7d0c8"/><stop offset="0.2555" stop-color="#eee3e0"/><stop offset="0.2701" stop-color="#efe7e5"/><stop offset="0.3723" stop-color="#efe6e4"/><stop offset="0.4562" stop-color="#ecdeda"/><stop offset="0.7226" stop-color="#ebddd8"/><stop offset="0.8978" stop-color="#f0e9e7"/><stop offset="1.0000" stop-color="#f1eceb"/></linearGradient><linearGradient id="g2_77" x1="0" y1="0" x2="0" y2="1"><stop offset="0.0000" stop-color="#f1eceb"/><stop offset="0.0073" stop-color="#f0e9e8"/><stop offset="0.0438" stop-color="#dfb9ac"/><stop offset="0.1204" stop-color="#e0beb2"/><stop offset="0.2007" stop-color="#e6d0c8"/><stop offset="0.2664" stop-color="#efe7e5"/><stop offset="0.3686" stop-color="#efe7e5"/><stop offset="0.4526" stop-color="#ecdfdb"/><stop offset="0.7263" stop-color="#ebddd8"/><stop offset="0.8942" stop-color="#f0e9e7"/><stop offset="1.0000" stop-color="#f1eceb"/></linearGradient><linearGradient id="g2_78" x1="0" y1="0" x2="0" y2="1"><stop offset="0.0000" stop-color="#f1eceb"/><stop offset="0.0073" stop-color="#f0e9e8"/><stop offset="0.0438" stop-color="#deb8aa"/><stop offset="0.1533" stop-color="#e2c4b9"/><stop offset="0.2153" stop-color="#e9d6cf"/><stop offset="0.2701" stop-color="#efe8e6"/><stop offset="0.3577" stop-color="#efe8e6"/><stop offset="0.4562" stop-color="#ecdfdb"/><stop offset="0.7263" stop-color="#ebddd8"/><stop offset="0.8905" stop-color="#f0e9e7"/><stop offset="1.0000" stop-color="#f1eceb"/></linearGradient><linearGradient id="g2_79" x1="0" y1="0" x2="0" y2="1"><stop offset="0.0000" stop-color="#f1eceb"/><stop offset="0.0073" stop-color="#f0e9e8"/><stop offset="0.0438" stop-color="#deb6a8"/><stop offset="0.1569" stop-color="#e2c5ba"/><stop offset="0.2153" stop-color="#e9d6cf"/><stop offset="0.2701" stop-color="#efe8e6"/><stop offset="0.3577" stop-color="#efe8e6"/><stop offset="0.4599" stop-color="#ecdfdb"/><stop offset="0.7263" stop-color="#ebddd8"/><stop offset="0.8905" stop-color="#f0e9e7"/><stop offset="1.0000" stop-color="#f1eceb"/></linearGradient><linearGradient id="g2_80" x1="0" y1="0" x2="0" y2="1"><stop offset="0.0000" stop-color="#f1eceb"/><stop offset="0.0073" stop-color="#f0e9e8"/><stop offset="0.0438" stop-color="#ddb5a7"/><stop offset="0.1642" stop-color="#e3c6bb"/><stop offset="0.2482" stop-color="#ede1dd"/><stop offset="0.2664" stop-color="#efe7e5"/><stop offset="0.3686" stop-color="#efe7e5"/><stop offset="0.4526" stop-color="#ecdfdb"/><stop offset="0.7263" stop-color="#ebddd8"/><stop offset="0.8905" stop-color="#f0e9e7"/><stop offset="1.0000" stop-color="#f1eceb"/></linearGradient><linearGradient id="g2_81" x1="0" y1="0" x2="0" y2="1"><stop offset="0.0000" stop-color="#f1eceb"/><stop offset="0.0073" stop-color="#f0e9e8"/><stop offset="0.0438" stop-color="#ddb3a5"/><stop offset="0.1752" stop-color="#e3c8bd"/><stop offset="0.2518" stop-color="#ede2df"/><stop offset="0.2701" stop-color="#efe7e5"/><stop offset="0.3723" stop-color="#efe6e4"/><stop offset="0.4599" stop-color="#ecdeda"/><stop offset="0.6971" stop-color="#ebdcd7"/><stop offset="0.9088" stop-color="#f0eae8"/><stop offset="1.0000" stop-color="#f1eceb"/></linearGradient><linearGradient id="g2_82" x1="0" y1="0" x2="0" y2="1"><stop offset="0.0000" stop-color="#f1eceb"/><stop offset="0.0073" stop-color="#f0e9e8"/><stop offset="0.0438" stop-color="#ddb2a3"/><stop offset="0.1825" stop-color="#e4c8be"/><stop offset="0.2518" stop-color="#ede1dd"/><stop offset="0.2664" stop-color="#efe7e5"/><stop offset="0.3759" stop-color="#efe6e3"/><stop offset="0.4635" stop-color="#ecddd9"/><stop offset="0.7007" stop-color="#ebdcd7"/><stop offset="0.9088" stop-color="#f0eae8"/><stop offset="1.0000" stop-color="#f1eceb"/></linearGradient><linearGradient id="g2_83" x1="0" y1="0" x2="0" y2="1"><stop offset="0.0000" stop-color="#f1eceb"/><stop offset="0.0073" stop-color="#f0e9e7"/><stop offset="0.0438" stop-color="#dcb1a2"/><stop offset="0.1825" stop-color="#e3c7bd"/><stop offset="0.2482" stop-color="#ebddd8"/><stop offset="0.2628" stop-color="#efe7e5"/><stop offset="0.3723" stop-color="#efe6e3"/><stop offset="0.4599" stop-color="#ebddd8"/><stop offset="0.6752" stop-color="#ebdbd6"/><stop offset="0.8175" stop-color="#eee5e2"/><stop offset="1.0000" stop-color="#f1eceb"/></linearGradient><linearGradient id="g2_84" x1="0" y1="0" x2="0" y2="1"><stop offset="0.0000" stop-color="#f1eceb"/><stop offset="0.0073" stop-color="#f0e9e7"/><stop offset="0.0438" stop-color="#dcafa0"/><stop offset="0.1971" stop-color="#e4c9bf"/><stop offset="0.2810" stop-color="#eee5e2"/><stop offset="0.3686" stop-color="#efe7e4"/><stop offset="0.4343" stop-color="#ebddd8"/><stop offset="0.6204" stop-color="#eadad4"/><stop offset="0.7628" stop-color="#ede0dc"/><stop offset="0.8832" stop-color="#f0e9e7"/><stop offset="1.0000" stop-color="#f1eceb"/></linearGradient><linearGradient id="g2_85" x1="0" y1="0" x2="0" y2="1"><stop offset="0.0000" stop-color="#f1eceb"/><stop offset="0.0073" stop-color="#f0e9e7"/><stop offset="0.0438" stop-color="#dbae9f"/><stop offset="0.1898" stop-color="#e3c6bc"/><stop offset="0.2153" stop-color="#e5ccc3"/><stop offset="0.2847" stop-color="#ede1dd"/><stop offset="0.3686" stop-color="#eee3e0"/><stop offset="0.4854" stop-color="#ead9d4"/><stop offset="0.6898" stop-color="#ebdcd6"/><stop offset="0.8978" stop-color="#f0e9e8"/><stop offset="1.0000" stop-color="#f1eceb"/></linearGradient><linearGradient id="g2_86" x1="0" y1="0" x2="0" y2="1"><stop offset="0.0000" stop-color="#f1eceb"/><stop offset="0.0073" stop-color="#f0e9e7"/><stop offset="0.0438" stop-color="#dbad9d"/><stop offset="0.2044" stop-color="#e4c8be"/><stop offset="0.2883" stop-color="#ecdeda"/><stop offset="0.3759" stop-color="#ece0dc"/><stop offset="0.5219" stop-color="#e9d7d1"/><stop offset="0.7336" stop-color="#ecded9"/><stop offset="0.8942" stop-color="#f0e9e8"/><stop offset="1.0000" stop-color="#f1eceb"/></linearGradient><linearGradient id="g2_87" x1="0" y1="0" x2="0" y2="1"><stop offset="0.0000" stop-color="#f1eceb"/><stop offset="0.0073" stop-color="#f0e9e7"/><stop offset="0.0438" stop-color="#daab9b"/><stop offset="0.1934" stop-color="#e2c4b9"/><stop offset="0.2847" stop-color="#ebdbd6"/><stop offset="0.3723" stop-color="#ecdeda"/><stop offset="0.5219" stop-color="#e9d6d0"/><stop offset="0.7263" stop-color="#ebddd8"/><stop offset="0.8759" stop-color="#f0e9e7"/><stop offset="1.0000" stop-color="#f1eceb"/></linearGradient><linearGradient id="g2_88" x1="0" y1="0" x2="0" y2="1"><stop offset="0.0000" stop-color="#f1eceb"/><stop offset="0.0073" stop-color="#f0e9e7"/><stop offset="0.0438" stop-color="#daaa9a"/><stop offset="0.1971" stop-color="#e2c4b9"/><stop offset="0.2847" stop-color="#ead9d3"/><stop offset="0.3650" stop-color="#ebdcd8"/><stop offset="0.5328" stop-color="#e8d5ce"/><stop offset="0.7445" stop-color="#ecdfda"/><stop offset="0.8759" stop-color="#f0e9e7"/><stop offset="1.0000" stop-color="#f1eceb"/></linearGradient><linearGradient id="g2_89" x1="0" y1="0" x2="0" y2="1"><stop offset="0.0000" stop-color="#f1eceb"/><stop offset="0.0073" stop-color="#f0e9e7"/><stop offset="0.0438" stop-color="#daa999"/><stop offset="0.1898" stop-color="#e1c1b5"/><stop offset="0.2701" stop-color="#e9d6cf"/><stop offset="0.3686" stop-color="#eadbd5"/><stop offset="0.5401" stop-color="#e8d3cc"/><stop offset="0.7701" stop-color="#ede1dd"/><stop offset="0.8905" stop-color="#f0e9e8"/><stop offset="1.0000" stop-color="#f1eceb"/></linearGradient><linearGradient id="g2_90" x1="0" y1="0" x2="0" y2="1"><stop offset="0.0000" stop-color="#f1eceb"/><stop offset="0.0073" stop-color="#f0e9e7"/><stop offset="0.0438" stop-color="#d9a897"/><stop offset="0.1934" stop-color="#e1c0b4"/><stop offset="0.3029" stop-color="#e9d7d1"/><stop offset="0.4380" stop-color="#e9d7d1"/><stop offset="0.4964" stop-color="#e7d2ca"/><stop offset="0.6423" stop-color="#e9d7d1"/><stop offset="0.8905" stop-color="#f0e9e8"/><stop offset="1.0000" stop-color="#f1eceb"/></linearGradient><linearGradient id="g2_91" x1="0" y1="0" x2="0" y2="1"><stop offset="0.0000" stop-color="#f1eceb"/><stop offset="0.0073" stop-color="#f0e9e7"/><stop offset="0.0438" stop-color="#d9a796"/><stop offset="0.1971" stop-color="#e0beb2"/><stop offset="0.3139" stop-color="#e8d5cf"/><stop offset="0.4161" stop-color="#e9d7d1"/><stop offset="0.4927" stop-color="#e6d0c8"/><stop offset="0.6277" stop-color="#e9d6cf"/><stop offset="0.8869" stop-color="#f0e9e8"/><stop offset="1.0000" stop-color="#f1eceb"/></linearGradient><linearGradient id="g2_92" x1="0" y1="0" x2="0" y2="1"><stop offset="0.0000" stop-color="#f1eceb"/><stop offset="0.0073" stop-color="#f0e9e7"/><stop offset="0.0438" stop-color="#d9a694"/><stop offset="0.1971" stop-color="#e0bcb0"/><stop offset="0.3175" stop-color="#e7d2cb"/><stop offset="0.3796" stop-color="#e8d5ce"/><stop offset="0.5109" stop-color="#e6cec5"/><stop offset="0.7664" stop-color="#ede1dd"/><stop offset="0.8869" stop-color="#f0e9e8"/><stop offset="1.0000" stop-color="#f1eceb"/></linearGradient><linearGradient id="g2_93" x1="0" y1="0" x2="0" y2="1"><stop offset="0.0000" stop-color="#f1eceb"/><stop offset="0.0073" stop-color="#f0e9e7"/><stop offset="0.0438" stop-color="#d8a593"/><stop offset="0.1971" stop-color="#dfbaad"/><stop offset="0.3212" stop-color="#e6d0c8"/><stop offset="0.4051" stop-color="#e6d0c8"/><stop offset="0.5073" stop-color="#e5cbc2"/><stop offset="0.8650" stop-color="#f0e9e7"/><stop offset="1.0000" stop-color="#f1eceb"/></linearGradient><linearGradient id="g2_94" x1="0" y1="0" x2="0" y2="1"><stop offset="0.0000" stop-color="#f1eceb"/><stop offset="0.0073" stop-color="#f0e9e7"/><stop offset="0.0438" stop-color="#d8a392"/><stop offset="0.1752" stop-color="#ddb4a6"/><stop offset="0.2993" stop-color="#e4cac1"/><stop offset="0.3723" stop-color="#e6cec6"/><stop offset="0.4745" stop-color="#e4c9bf"/><stop offset="0.5620" stop-color="#e5cdc4"/><stop offset="0.8613" stop-color="#f0e9e7"/><stop offset="1.0000" stop-color="#f1eceb"/></linearGradient><linearGradient id="g2_95" x1="0" y1="0" x2="0" y2="1"><stop offset="0.0000" stop-color="#f1eceb"/><stop offset="0.0073" stop-color="#f0e8e7"/><stop offset="0.0438" stop-color="#d8a290"/><stop offset="0.1788" stop-color="#ddb3a4"/><stop offset="0.3212" stop-color="#e4cac1"/><stop offset="0.4343" stop-color="#e3c8be"/><stop offset="0.5511" stop-color="#e4cbc1"/><stop offset="0.8613" stop-color="#f0e9e7"/><stop offset="1.0000" stop-color="#f1eceb"/></linearGradient><linearGradient id="g2_96" x1="0" y1="0" x2="0" y2="1"><stop offset="0.0000" stop-color="#f1eceb"/><stop offset="0.0073" stop-color="#f0e8e6"/><stop offset="0.0438" stop-color="#d7a18f"/><stop offset="0.1679" stop-color="#dbaf9f"/><stop offset="0.3394" stop-color="#e4c9bf"/><stop offset="0.4964" stop-color="#e3c7bc"/><stop offset="0.5876" stop-color="#e5cdc4"/><stop offset="0.8504" stop-color="#f0e9e7"/><stop offset="1.0000" stop-color="#f1eceb"/></linearGradient><linearGradient id="g2_97" x1="0" y1="0" x2="0" y2="1"><stop offset="0.0000" stop-color="#f1eceb"/><stop offset="0.0073" stop-color="#f0e8e6"/><stop offset="0.0438" stop-color="#d7a08e"/><stop offset="0.1496" stop-color="#daa999"/><stop offset="0.3358" stop-color="#e2c4b9"/><stop offset="0.5146" stop-color="#e3c7bc"/><stop offset="0.5949" stop-color="#e5cdc4"/><stop offset="0.7737" stop-color="#ede2de"/><stop offset="0.8686" stop-color="#f0e9e7"/><stop offset="1.0000" stop-color="#f1eceb"/></linearGradient><linearGradient id="g2_98" x1="0" y1="0" x2="0" y2="1"><stop offset="0.0000" stop-color="#f1eceb"/><stop offset="0.0073" stop-color="#f0e8e6"/><stop offset="0.0438" stop-color="#d79f8c"/><stop offset="0.0803" stop-color="#d7a290"/><stop offset="0.1350" stop-color="#d8a593"/><stop offset="0.3285" stop-color="#e1c0b4"/><stop offset="0.5146" stop-color="#e3c6bb"/><stop offset="0.5985" stop-color="#e5ccc3"/><stop offset="0.7409" stop-color="#ecdeda"/><stop offset="0.8650" stop-color="#f0e9e7"/><stop offset="1.0000" stop-color="#f1eceb"/></linearGradient><linearGradient id="g2_99" x1="0" y1="0" x2="0" y2="1"><stop offset="0.0000" stop-color="#f1ebea"/><stop offset="0.0036" stop-color="#f1eceb"/><stop offset="0.0109" stop-color="#ede0dc"/><stop offset="0.0438" stop-color="#d69e8b"/><stop offset="0.0657" stop-color="#d8a391"/><stop offset="0.1058" stop-color="#d69e8b"/><stop offset="0.2518" stop-color="#ddb3a5"/><stop offset="0.3723" stop-color="#e0bfb2"/><stop offset="0.5073" stop-color="#e2c4b9"/><stop offset="0.5985" stop-color="#e5cbc2"/><stop offset="0.7226" stop-color="#ebddd8"/><stop offset="0.8650" stop-color="#f0e9e7"/><stop offset="1.0000" stop-color="#f1eceb"/></linearGradient><linearGradient id="g2_100" x1="0" y1="0" x2="0" y2="1"><stop offset="0.0000" stop-color="#efe7e5"/><stop offset="0.0036" stop-color="#f0eae9"/><stop offset="0.0073" stop-color="#efe7e5"/><stop offset="0.0219" stop-color="#e4c9bf"/><stop offset="0.0438" stop-color="#d9a898"/><stop offset="0.1022" stop-color="#d69e8b"/><stop offset="0.3066" stop-color="#deb8aa"/><stop offset="0.4380" stop-color="#e0bfb3"/><stop offset="0.5182" stop-color="#e2c5ba"/><stop offset="0.6095" stop-color="#e6cec5"/><stop offset="0.7664" stop-color="#ede1dd"/><stop offset="0.8759" stop-color="#f0e9e7"/><stop offset="1.0000" stop-color="#f1eceb"/></linearGradient><linearGradient id="g2_101" x1="0" y1="0" x2="0" y2="1"><stop offset="0.0000" stop-color="#e9d8d2"/><stop offset="0.0146" stop-color="#e6cec6"/><stop offset="0.0438" stop-color="#dcb1a2"/><stop offset="0.0766" stop-color="#d8a593"/><stop offset="0.1168" stop-color="#d7a18f"/><stop offset="0.3577" stop-color="#dfbcaf"/><stop offset="0.5182" stop-color="#e2c5ba"/><stop offset="0.6350" stop-color="#e7d2ca"/><stop offset="0.8394" stop-color="#efe7e5"/><stop offset="1.0000" stop-color="#f1ecea"/></linearGradient><linearGradient id="g2_102" x1="0" y1="0" x2="0" y2="1"><stop offset="0.0000" stop-color="#e6cec6"/><stop offset="0.0219" stop-color="#e2c3b8"/><stop offset="0.0584" stop-color="#dbad9d"/><stop offset="0.1058" stop-color="#d8a290"/><stop offset="0.1971" stop-color="#daab9b"/><stop offset="0.3759" stop-color="#e0bdb0"/><stop offset="0.5365" stop-color="#e3c6bc"/><stop offset="0.8285" stop-color="#efe6e4"/><stop offset="1.0000" stop-color="#f1ecea"/></linearGradient><linearGradient id="g2_103" x1="0" y1="0" x2="0" y2="1"><stop offset="0.0000" stop-color="#e5cbc2"/><stop offset="0.0292" stop-color="#e0beb2"/><stop offset="0.0657" stop-color="#daab9b"/><stop offset="0.1058" stop-color="#d8a391"/><stop offset="0.1861" stop-color="#daaa99"/><stop offset="0.3723" stop-color="#e0bcb0"/><stop offset="0.5474" stop-color="#e3c7bd"/><stop offset="0.8285" stop-color="#efe6e4"/><stop offset="1.0000" stop-color="#f1ebea"/></linearGradient><linearGradient id="cb0" x1="0" y1="0" x2="0" y2="1"><stop offset="0.0000" stop-color="#a50026"/><stop offset="0.0312" stop-color="#b30d26"/><stop offset="0.0625" stop-color="#c21c27"/><stop offset="0.0938" stop-color="#d22b27"/><stop offset="0.1250" stop-color="#dd3d2d"/><stop offset="0.1562" stop-color="#e65036"/><stop offset="0.1875" stop-color="#ef633f"/><stop offset="0.2188" stop-color="#f57748"/><stop offset="0.2500" stop-color="#f88c51"/><stop offset="0.2812" stop-color="#fba05b"/><stop offset="0.3125" stop-color="#fdb366"/><stop offset="0.3438" stop-color="#fdc374"/><stop offset="0.3750" stop-color="#fed283"/><stop offset="0.4062" stop-color="#fee192"/><stop offset="0.4375" stop-color="#feeba1"/><stop offset="0.4688" stop-color="#fff5af"/><stop offset="0.5000" stop-color="#fffebe"/><stop offset="0.5312" stop-color="#f6fbd0"/><stop offset="0.5625" stop-color="#ecf8e2"/><stop offset="0.5938" stop-color="#e2f4f4"/><stop offset="0.6250" stop-color="#d4edf4"/><stop offset="0.6562" stop-color="#c3e5f0"/><stop offset="0.6875" stop-color="#b2ddeb"/><stop offset="0.7188" stop-color="#a1d1e5"/><stop offset="0.7500" stop-color="#90c3dd"/><stop offset="0.7812" stop-color="#7fb6d6"/><stop offset="0.8125" stop-color="#6ea6ce"/><stop offset="0.8438" stop-color="#6095c4"/><stop offset="0.8750" stop-color="#5183bb"/><stop offset="0.9062" stop-color="#4471b2"/><stop offset="0.9375" stop-color="#3e5ea8"/><stop offset="0.9688" stop-color="#374a9f"/><stop offset="1.0000" stop-color="#313695"/></linearGradient><linearGradient id="cb1" x1="0" y1="0" x2="0" y2="1"><stop offset="0.0000" stop-color="#a50026"/><stop offset="0.0312" stop-color="#b30d26"/><stop offset="0.0625" stop-color="#c21c27"/><stop offset="0.0938" stop-color="#d22b27"/><stop offset="0.1250" stop-color="#dd3d2d"/><stop offset="0.1562" stop-color="#e65036"/><stop offset="0.1875" stop-color="#ef633f"/><stop offset="0.2188" stop-color="#f57748"/><stop offset="0.2500" stop-color="#f88c51"/><stop offset="0.2812" stop-color="#fba05b"/><stop offset="0.3125" stop-color="#fdb366"/><stop offset="0.3438" stop-color="#fdc374"/><stop offset="0.3750" stop-color="#fed283"/><stop offset="0.4062" stop-color="#fee192"/><stop offset="0.4375" stop-color="#feeba1"/><stop offset="0.4688" stop-color="#fff5af"/><stop offset="0.5000" stop-color="#fffebe"/><stop offset="0.5312" stop-color="#f6fbd0"/><stop offset="0.5625" stop-color="#ecf8e2"/><stop offset="0.5938" stop-color="#e2f4f4"/><stop offset="0.6250" stop-color="#d4edf4"/><stop offset="0.6562" stop-color="#c3e5f0"/><stop offset="0.6875" stop-color="#b2ddeb"/><stop offset="0.7188" stop-color="#a1d1e5"/><stop offset="0.7500" stop-color="#90c3dd"/><stop offset="0.7812" stop-color="#7fb6d6"/><stop offset="0.8125" stop-color="#6ea6ce"/><stop offset="0.8438" stop-color="#6095c4"/><stop offset="0.8750" stop-color="#5183bb"/><stop offset="0.9062" stop-color="#4471b2"/><stop offset="0.9375" stop-color="#3e5ea8"/><stop offset="0.9688" stop-color="#374a9f"/><stop offset="1.0000" stop-color="#313695"/></linearGradient><linearGradient id="cb2" x1="0" y1="0" x2="0" y2="1"><stop offset="0.0000" stop-color="#3c0912"/><stop offset="0.0312" stop-color="#500c1c"/><stop offset="0.0625" stop-color="#640e26"/><stop offset="0.0938" stop-color="#781027"/><stop offset="0.1250" stop-color="#8c1128"/><stop offset="0.1562" stop-color="#9c2026"/><stop offset="0.1875" stop-color="#ab2e25"/><stop offset="0.2188" stop-color="#b54230"/><stop offset="0.2500" stop-color="#bf553c"/><stop offset="0.2812" stop-color="#c5684e"/><stop offset="0.3125" stop-color="#cb7a5f"/><stop offset="0.3438" stop-color="#d08c74"/><stop offset="0.3750" stop-color="#d69d8a"/><stop offset="0.4062" stop-color="#dcb0a2"/><stop offset="0.4375" stop-color="#e2c4b9"/><stop offset="0.4688" stop-color="#ead8d2"/><stop offset="0.5000" stop-color="#f1eceb"/><stop offset="0.5312" stop-color="#dce0e2"/><stop offset="0.5625" stop-color="#c6d3d9"/><stop offset="0.5938" stop-color="#aec5d0"/><stop offset="0.6250" stop-color="#96b7c8"/><stop offset="0.6562" stop-color="#7eacc3"/><stop offset="0.6875" stop-color="#66a1be"/><stop offset="0.7188" stop-color="#4f92bc"/><stop offset="0.7500" stop-color="#3883bb"/><stop offset="0.7812" stop-color="#2273bd"/><stop offset="0.8125" stop-color="#0d63bf"/><stop offset="0.8438" stop-color="#1a56b8"/><stop offset="0.8750" stop-color="#2848b0"/><stop offset="0.9062" stop-color="#283d95"/><stop offset="0.9375" stop-color="#28327a"/><stop offset="0.9688" stop-color="#20275e"/><stop offset="1.0000" stop-color="#181c43"/></linearGradient></defs>
<rect x="0" y="0" width="1605" height="2509" fill="#fff"/>
<rect x="178.0" y="287.0" width="1149.0" height="548.0" fill="#808080"/>
<g clip-path="url(#clip0)">
<g filter="url(#hb)"><rect x="726" y="287" width="7" height="548" fill="url(#g0_0)"/><rect x="732" y="287" width="7" height="548" fill="url(#g0_1)"/><rect x="738" y="287" width="7" height="548" fill="url(#g0_2)"/><rect x="744" y="287" width="7" height="548" fill="url(#g0_3)"/><rect x="750" y="287" width="7" height="548" fill="url(#g0_4)"/><rect x="756" y="287" width="7" height="548" fill="url(#g0_5)"/><rect x="762" y="287" width="7" height="548" fill="url(#g0_6)"/><rect x="768" y="287" width="7" height="548" fill="url(#g0_7)"/><rect x="774" y="287" width="7" height="548" fill="url(#g0_8)"/><rect x="780" y="287" width="7" height="548" fill="url(#g0_9)"/><rect x="786" y="287" width="7" height="548" fill="url(#g0_10)"/><rect x="792" y="287" width="7" height="548" fill="url(#g0_11)"/><rect x="798" y="287" width="7" height="548" fill="url(#g0_12)"/><rect x="804" y="287" width="7" height="548" fill="url(#g0_13)"/><rect x="810" y="287" width="7" height="548" fill="url(#g0_14)"/><rect x="816" y="287" width="7" height="548" fill="url(#g0_15)"/><rect x="822" y="287" width="7" height="548" fill="url(#g0_16)"/><rect x="828" y="287" width="7" height="548" fill="url(#g0_17)"/><rect x="834" y="287" width="7" height="548" fill="url(#g0_18)"/><rect x="840" y="287" width="7" height="548" fill="url(#g0_19)"/><rect x="846" y="287" width="7" height="548" fill="url(#g0_20)"/><rect x="852" y="287" width="7" height="548" fill="url(#g0_21)"/><rect x="858" y="287" width="7" height="548" fill="url(#g0_22)"/><rect x="864" y="287" width="7" height="548" fill="url(#g0_23)"/><rect x="870" y="287" width="7" height="548" fill="url(#g0_24)"/><rect x="876" y="287" width="7" height="548" fill="url(#g0_25)"/><rect x="882" y="287" width="7" height="548" fill="url(#g0_26)"/><rect x="888" y="287" width="7" height="548" fill="url(#g0_27)"/><rect x="894" y="287" width="7" height="548" fill="url(#g0_28)"/><rect x="900" y="287" width="7" height="548" fill="url(#g0_29)"/><rect x="906" y="287" width="7" height="548" fill="url(#g0_30)"/><rect x="912" y="287" width="7" height="548" fill="url(#g0_31)"/><rect x="918" y="287" width="7" height="548" fill="url(#g0_32)"/><rect x="924" y="287" width="7" height="548" fill="url(#g0_33)"/><rect x="930" y="287" width="7" height="548" fill="url(#g0_34)"/><rect x="936" y="287" width="7" height="548" fill="url(#g0_35)"/><rect x="942" y="287" width="7" height="548" fill="url(#g0_36)"/><rect x="948" y="287" width="7" height="548" fill="url(#g0_37)"/><rect x="954" y="287" width="7" height="548" fill="url(#g0_38)"/><rect x="960" y="287" width="7" height="548" fill="url(#g0_39)"/><rect x="966" y="287" width="7" height="548" fill="url(#g0_40)"/><rect x="972" y="287" width="7" height="548" fill="url(#g0_41)"/><rect x="978" y="287" width="7" height="548" fill="url(#g0_42)"/><rect x="984" y="287" width="7" height="548" fill="url(#g0_43)"/><rect x="990" y="287" width="7" height="548" fill="url(#g0_44)"/><rect x="996" y="287" width="7" height="548" fill="url(#g0_45)"/><rect x="1002" y="287" width="7" height="548" fill="url(#g0_46)"/><rect x="1008" y="287" width="7" height="548" fill="url(#g0_47)"/><rect x="1014" y="287" width="7" height="548" fill="url(#g0_48)"/><rect x="1020" y="287" width="7" height="548" fill="url(#g0_49)"/><rect x="1026" y="287" width="7" height="548" fill="url(#g0_50)"/><rect x="1032" y="287" width="7" height="548" fill="url(#g0_51)"/><rect x="1038" y="287" width="7" height="548" fill="url(#g0_52)"/><rect x="1044" y="287" width="7" height="548" fill="url(#g0_53)"/><rect x="1050" y="287" width="7" height="548" fill="url(#g0_54)"/><rect x="1056" y="287" width="7" height="548" fill="url(#g0_55)"/><rect x="1062" y="287" width="7" height="548" fill="url(#g0_56)"/><rect x="1068" y="287" width="7" height="548" fill="url(#g0_57)"/><rect x="1074" y="287" width="7" height="548" fill="url(#g0_58)"/><rect x="1080" y="287" width="7" height="548" fill="url(#g0_59)"/><rect x="1086" y="287" width="7" height="548" fill="url(#g0_60)"/><rect x="1092" y="287" width="7" height="548" fill="url(#g0_61)"/><rect x="1098" y="287" width="7" height="548" fill="url(#g0_62)"/><rect x="1104" y="287" width="7" height="548" fill="url(#g0_63)"/><rect x="1110" y="287" width="7" height="548" fill="url(#g0_64)"/><rect x="1116" y="287" width="7" height="548" fill="url(#g0_65)"/><rect x="1122" y="287" width="7" height="548" fill="url(#g0_66)"/><rect x="1128" y="287" width="7" height="548" fill="url(#g0_67)"/><rect x="1134" y="287" width="7" height="548" fill="url(#g0_68)"/><rect x="1140" y="287" width="7" height="548" fill="url(#g0_69)"/><rect x="1146" y="287" width="7" height="548" fill="url(#g0_70)"/><rect x="1152" y="287" width="7" height="548" fill="url(#g0_71)"/><rect x="1158" y="287" width="7" height="548" fill="url(#g0_72)"/><rect x="1164" y="287" width="7" height="548" fill="url(#g0_73)"/><rect x="1170" y="287" width="7" height="548" fill="url(#g0_74)"/><rect x="1176" y="287" width="7" height="548" fill="url(#g0_75)"/><rect x="1182" y="287" width="7" height="548" fill="url(#g0_76)"/><rect x="1188" y="287" width="7" height="548" fill="url(#g0_77)"/><rect x="1194" y="287" width="7" height="548" fill="url(#g0_78)"/><rect x="1200" y="287" width="7" height="548" fill="url(#g0_79)"/><rect x="1206" y="287" width="7" height="548" fill="url(#g0_80)"/><rect x="1212" y="287" width="7" height="548" fill="url(#g0_81)"/><rect x="1218" y="287" width="7" height="548" fill="url(#g0_82)"/><rect x="1224" y="287" width="7" height="548" fill="url(#g0_83)"/><rect x="1230" y="287" width="7" height="548" fill="url(#g0_84)"/><rect x="1236" y="287" width="7" height="548" fill="url(#g0_85)"/><rect x="1242" y="287" width="7" height="548" fill="url(#g0_86)"/><rect x="1248" y="287" width="7" height="548" fill="url(#g0_87)"/><rect x="1254" y="287" width="7" height="548" fill="url(#g0_88)"/><rect x="1260" y="287" width="7" height="548" fill="url(#g0_89)"/><rect x="1266" y="287" width="7" height="548" fill="url(#g0_90)"/><rect x="1272" y="287" width="7" height="548" fill="url(#g0_91)"/><rect x="1278" y="287" width="7" height="548" fill="url(#g0_92)"/><rect x="1284" y="287" width="7" height="548" fill="url(#g0_93)"/><rect x="1290" y="287" width="7" height="548" fill="url(#g0_94)"/><rect x="1296" y="287" width="7" height="548" fill="url(#g0_95)"/><rect x="1302" y="287" width="7" height="548" fill="url(#g0_96)"/><rect x="1308" y="287" width="7" height="548" fill="url(#g0_97)"/><rect x="1314" y="287" width="7" height="548" fill="url(#g0_98)"/><rect x="1320" y="287" width="7" height="548" fill="url(#g0_99)"/><rect x="1326" y="287" width="7" height="548" fill="url(#g0_100)"/><rect x="1332" y="287" width="7" height="548" fill="url(#g0_101)"/><rect x="1338" y="287" width="7" height="548" fill="url(#g0_102)"/><rect x="1344" y="287" width="2" height="548" fill="url(#g0_103)"/></g>
<path d="M178.0 287.0L749.5 287.0L749.5 577.2L770.0 577.2L772.0 575.8L776.8 576.5L776.8 672.0L790.3 672.0L790.3 774.7L809.2 774.7L811.8 772.7L815.0 774.2L820.9 775.7L828.7 777.3L835.0 777.5L836.8 779.0L836.8 814.5L838.4 810.8L843.0 808.7L861.0 808.7L863.8 811.0L863.8 835.0L178.0 835.0Z" fill="#808080"/>
<path d="M749.5 367.3C752.1 367.3 760.8 367.4 765.0 367.3C769.2 367.2 772.7 367.6 774.8 367.0C776.9 366.4 776.5 366.0 777.7 363.8C778.9 361.6 780.5 357.2 782.0 354.0C783.5 350.8 785.4 347.2 786.5 344.3C787.6 341.4 787.4 339.4 788.4 336.5C789.4 333.6 790.8 330.1 792.3 326.8C793.8 323.6 795.2 319.6 797.2 317.0C799.2 314.4 799.6 312.8 804.0 311.2C808.4 309.6 816.4 308.4 823.5 307.3C830.6 306.2 838.1 305.3 846.9 304.4C855.7 303.5 866.4 302.4 876.1 301.8C885.8 301.2 893.9 300.9 905.3 300.5C916.7 300.1 931.0 299.7 944.3 299.5C957.6 299.3 970.7 299.3 985.0 299.3C999.3 299.3 1006.3 299.1 1030.0 299.5C1053.7 299.9 1094.9 301.2 1127.4 301.8C1159.9 302.4 1191.5 303.0 1224.8 303.4C1258.1 303.8 1310.0 304.2 1327.0 304.4" fill="none" stroke="#000" stroke-width="5.6" stroke-linejoin="round" stroke-linecap="butt"/>
<path d="M1327.0 318.0C1319.7 317.7 1300.3 316.6 1283.3 316.2C1266.3 315.8 1241.0 315.8 1224.8 315.5C1208.5 315.2 1202.0 315.3 1185.8 314.7C1169.6 314.1 1146.9 312.9 1127.4 312.1C1107.9 311.4 1085.2 311.2 1069.0 310.2C1052.8 309.1 1044.3 306.7 1030.0 305.8C1015.7 304.9 997.5 304.7 983.2 304.6C968.9 304.5 954.0 304.9 944.3 305.3C934.6 305.8 929.3 306.3 924.8 307.3C920.2 308.3 919.9 309.2 917.0 311.2C914.1 313.1 911.2 316.6 907.3 319.0C903.4 321.4 898.1 322.6 893.6 325.8C889.1 329.0 883.9 334.7 880.0 338.4C876.1 342.1 872.7 345.4 870.3 348.2C867.9 351.0 866.3 352.9 865.6 355.0C864.9 357.1 865.7 359.2 866.0 361.0C866.3 362.8 866.3 364.1 867.3 365.7C868.3 367.3 870.2 369.0 872.0 370.5C873.8 372.0 874.4 372.9 878.0 374.5C881.6 376.1 885.8 378.7 893.6 380.3C901.4 381.9 914.7 382.9 924.8 384.2C934.9 385.5 943.6 387.1 954.0 388.1C964.4 389.1 974.4 391.2 987.1 390.1C999.8 389.0 1011.5 385.4 1030.0 381.3C1048.5 377.2 1080.4 369.8 1098.2 365.7C1116.0 361.6 1121.8 359.9 1137.1 357.0C1152.3 354.1 1175.7 350.1 1189.7 348.2C1203.7 346.2 1208.6 345.3 1220.9 345.3C1233.2 345.3 1246.1 346.4 1263.8 348.2C1281.5 350.0 1316.5 354.7 1327.0 356.0" fill="none" stroke="#000" stroke-width="5.6" stroke-linejoin="round" stroke-linecap="butt"/>
<path d="M749.5 554.4C752.1 554.4 760.8 554.1 765.0 554.4C769.2 554.7 768.3 557.1 774.8 556.4C781.3 555.7 793.6 552.0 804.0 550.1C814.4 548.2 826.7 547.1 837.1 545.3C847.5 543.5 857.0 540.8 866.4 539.4C875.8 538.0 883.9 536.6 893.6 536.9C903.3 537.2 914.4 539.3 924.8 541.4C935.2 543.5 945.6 548.6 956.0 549.7C966.4 550.8 974.8 550.0 987.1 547.8C999.4 545.6 1019.0 539.5 1030.0 536.3C1041.0 533.1 1040.4 532.4 1053.4 528.7C1066.4 525.0 1092.3 518.2 1107.9 514.1C1123.5 510.1 1133.9 507.5 1146.9 504.4C1159.9 501.3 1172.8 497.6 1185.8 495.6C1198.8 493.7 1213.4 493.2 1224.8 492.7C1236.2 492.2 1242.6 492.3 1254.0 492.7C1265.4 493.1 1280.8 494.2 1293.0 495.2C1305.2 496.2 1321.3 497.9 1327.0 498.5" fill="none" stroke="#000" stroke-width="5.6" stroke-linejoin="round" stroke-linecap="butt"/>
<path d="M749.5 287.0L749.5 577.2L770.0 577.2L772.0 575.8L776.8 576.5L776.8 672.0L790.3 672.0L790.3 774.7L809.2 774.7L811.8 772.7L815.0 774.2L820.9 775.7L828.7 777.3L835.0 777.5L836.8 779.0L836.8 814.5L838.4 810.8L843.0 808.7L861.0 808.7L863.8 811.0L863.8 835.0" fill="none" stroke="#000" stroke-width="2.8" stroke-linejoin="round"/>
</g>
<rect x="178.0" y="287.0" width="1149.0" height="548.0" fill="none" stroke="#000" stroke-width="2.2"/>
<rect x="178.0" y="1068.0" width="1149.0" height="548.0" fill="#808080"/>
<g clip-path="url(#clip1)">
<g filter="url(#hb)"><rect x="714" y="1068" width="7" height="548" fill="url(#g1_0)"/><rect x="720" y="1068" width="7" height="548" fill="url(#g1_1)"/><rect x="726" y="1068" width="7" height="548" fill="url(#g1_2)"/><rect x="732" y="1068" width="7" height="548" fill="url(#g1_3)"/><rect x="738" y="1068" width="7" height="548" fill="url(#g1_4)"/><rect x="744" y="1068" width="7" height="548" fill="url(#g1_5)"/><rect x="750" y="1068" width="7" height="548" fill="url(#g1_6)"/><rect x="756" y="1068" width="7" height="548" fill="url(#g1_7)"/><rect x="762" y="1068" width="7" height="548" fill="url(#g1_8)"/><rect x="768" y="1068" width="7" height="548" fill="url(#g1_9)"/><rect x="774" y="1068" width="7" height="548" fill="url(#g1_10)"/><rect x="780" y="1068" width="7" height="548" fill="url(#g1_11)"/><rect x="786" y="1068" width="7" height="548" fill="url(#g1_12)"/><rect x="792" y="1068" width="7" height="548" fill="url(#g1_13)"/><rect x="798" y="1068" width="7" height="548" fill="url(#g1_14)"/><rect x="804" y="1068" width="7" height="548" fill="url(#g1_15)"/><rect x="810" y="1068" width="7" height="548" fill="url(#g1_16)"/><rect x="816" y="1068" width="7" height="548" fill="url(#g1_17)"/><rect x="822" y="1068" width="7" height="548" fill="url(#g1_18)"/><rect x="828" y="1068" width="7" height="548" fill="url(#g1_19)"/><rect x="834" y="1068" width="7" height="548" fill="url(#g1_20)"/><rect x="840" y="1068" width="7" height="548" fill="url(#g1_21)"/><rect x="846" y="1068" width="7" height="548" fill="url(#g1_22)"/><rect x="852" y="1068" width="7" height="548" fill="url(#g1_23)"/><rect x="858" y="1068" width="7" height="548" fill="url(#g1_24)"/><rect x="864" y="1068" width="7" height="548" fill="url(#g1_25)"/><rect x="870" y="1068" width="7" height="548" fill="url(#g1_26)"/><rect x="876" y="1068" width="7" height="548" fill="url(#g1_27)"/><rect x="882" y="1068" width="7" height="548" fill="url(#g1_28)"/><rect x="888" y="1068" width="7" height="548" fill="url(#g1_29)"/><rect x="894" y="1068" width="7" height="548" fill="url(#g1_30)"/><rect x="900" y="1068" width="7" height="548" fill="url(#g1_31)"/><rect x="906" y="1068" width="7" height="548" fill="url(#g1_32)"/><rect x="912" y="1068" width="7" height="548" fill="url(#g1_33)"/><rect x="918" y="1068" width="7" height="548" fill="url(#g1_34)"/><rect x="924" y="1068" width="7" height="548" fill="url(#g1_35)"/><rect x="930" y="1068" width="7" height="548" fill="url(#g1_36)"/><rect x="936" y="1068" width="7" height="548" fill="url(#g1_37)"/><rect x="942" y="1068" width="7" height="548" fill="url(#g1_38)"/><rect x="948" y="1068" width="7" height="548" fill="url(#g1_39)"/><rect x="954" y="1068" width="7" height="548" fill="url(#g1_40)"/><rect x="960" y="1068" width="7" height="548" fill="url(#g1_41)"/><rect x="966" y="1068" width="7" height="548" fill="url(#g1_42)"/><rect x="972" y="1068" width="7" height="548" fill="url(#g1_43)"/><rect x="978" y="1068" width="7" height="548" fill="url(#g1_44)"/><rect x="984" y="1068" width="7" height="548" fill="url(#g1_45)"/><rect x="990" y="1068" width="7" height="548" fill="url(#g1_46)"/><rect x="996" y="1068" width="7" height="548" fill="url(#g1_47)"/><rect x="1002" y="1068" width="7" height="548" fill="url(#g1_48)"/><rect x="1008" y="1068" width="7" height="548" fill="url(#g1_49)"/><rect x="1014" y="1068" width="7" height="548" fill="url(#g1_50)"/><rect x="1020" y="1068" width="7" height="548" fill="url(#g1_51)"/><rect x="1026" y="1068" width="7" height="548" fill="url(#g1_52)"/><rect x="1032" y="1068" width="7" height="548" fill="url(#g1_53)"/><rect x="1038" y="1068" width="7" height="548" fill="url(#g1_54)"/><rect x="1044" y="1068" width="7" height="548" fill="url(#g1_55)"/><rect x="1050" y="1068" width="7" height="548" fill="url(#g1_56)"/><rect x="1056" y="1068" width="7" height="548" fill="url(#g1_57)"/><rect x="1062" y="1068" width="7" height="548" fill="url(#g1_58)"/><rect x="1068" y="1068" width="7" height="548" fill="url(#g1_59)"/><rect x="1074" y="1068" width="7" height="548" fill="url(#g1_60)"/><rect x="1080" y="1068" width="7" height="548" fill="url(#g1_61)"/><rect x="1086" y="1068" width="7" height="548" fill="url(#g1_62)"/><rect x="1092" y="1068" width="7" height="548" fill="url(#g1_63)"/><rect x="1098" y="1068" width="7" height="548" fill="url(#g1_64)"/><rect x="1104" y="1068" width="7" height="548" fill="url(#g1_65)"/><rect x="1110" y="1068" width="7" height="548" fill="url(#g1_66)"/><rect x="1116" y="1068" width="7" height="548" fill="url(#g1_67)"/><rect x="1122" y="1068" width="7" height="548" fill="url(#g1_68)"/><rect x="1128" y="1068" width="7" height="548" fill="url(#g1_69)"/><rect x="1134" y="1068" width="7" height="548" fill="url(#g1_70)"/><rect x="1140" y="1068" width="7" height="548" fill="url(#g1_71)"/><rect x="1146" y="1068" width="7" height="548" fill="url(#g1_72)"/><rect x="1152" y="1068" width="7" height="548" fill="url(#g1_73)"/><rect x="1158" y="1068" width="7" height="548" fill="url(#g1_74)"/><rect x="1164" y="1068" width="7" height="548" fill="url(#g1_75)"/><rect x="1170" y="1068" width="7" height="548" fill="url(#g1_76)"/><rect x="1176" y="1068" width="7" height="548" fill="url(#g1_77)"/><rect x="1182" y="1068" width="7" height="548" fill="url(#g1_78)"/><rect x="1188" y="1068" width="7" height="548" fill="url(#g1_79)"/><rect x="1194" y="1068" width="7" height="548" fill="url(#g1_80)"/><rect x="1200" y="1068" width="7" height="548" fill="url(#g1_81)"/><rect x="1206" y="1068" width="7" height="548" fill="url(#g1_82)"/><rect x="1212" y="1068" width="7" height="548" fill="url(#g1_83)"/><rect x="1218" y="1068" width="7" height="548" fill="url(#g1_84)"/><rect x="1224" y="1068" width="7" height="548" fill="url(#g1_85)"/><rect x="1230" y="1068" width="7" height="548" fill="url(#g1_86)"/><rect x="1236" y="1068" width="7" height="548" fill="url(#g1_87)"/><rect x="1242" y="1068" width="7" height="548" fill="url(#g1_88)"/><rect x="1248" y="1068" width="7" height="548" fill="url(#g1_89)"/><rect x="1254" y="1068" width="7" height="548" fill="url(#g1_90)"/><rect x="1260" y="1068" width="7" height="548" fill="url(#g1_91)"/><rect x="1266" y="1068" width="7" height="548" fill="url(#g1_92)"/><rect x="1272" y="1068" width="7" height="548" fill="url(#g1_93)"/><rect x="1278" y="1068" width="7" height="548" fill="url(#g1_94)"/><rect x="1284" y="1068" width="7" height="548" fill="url(#g1_95)"/><rect x="1290" y="1068" width="7" height="548" fill="url(#g1_96)"/><rect x="1296" y="1068" width="7" height="548" fill="url(#g1_97)"/><rect x="1302" y="1068" width="7" height="548" fill="url(#g1_98)"/><rect x="1308" y="1068" width="7" height="548" fill="url(#g1_99)"/><rect x="1314" y="1068" width="7" height="548" fill="url(#g1_100)"/><rect x="1320" y="1068" width="7" height="548" fill="url(#g1_101)"/><rect x="1326" y="1068" width="7" height="548" fill="url(#g1_102)"/><rect x="1332" y="1068" width="7" height="548" fill="url(#g1_103)"/><rect x="1338" y="1068" width="7" height="548" fill="url(#g1_104)"/><rect x="1344" y="1068" width="2" height="548" fill="url(#g1_105)"/></g>
<path d="M178.0 1068.0L741.4 1068.0L741.4 1087.3L752.7 1087.3L752.7 1173.0L763.7 1173.0L763.7 1312.0L774.4 1312.0L774.4 1384.3L785.1 1384.3L785.1 1420.3L795.7 1420.3L795.7 1522.8L807.0 1522.8L807.0 1557.1L860.7 1557.1L860.7 1591.5L882.7 1591.5L882.7 1616.0L178.0 1616.0Z" fill="#808080"/>
<path d="M763.8 1200.3C764.8 1199.2 767.9 1196.1 770.0 1193.5C772.1 1190.9 774.7 1187.8 776.5 1184.7C778.3 1181.6 779.4 1178.6 781.0 1175.0C782.6 1171.4 783.7 1169.1 786.2 1163.3C788.7 1157.5 792.6 1147.1 796.0 1139.9C799.4 1132.8 804.2 1124.5 806.7 1120.4C809.2 1116.3 809.2 1117.0 811.0 1115.5C812.8 1114.0 813.7 1113.5 817.4 1111.6C821.1 1109.6 827.5 1106.4 833.0 1103.8C838.5 1101.2 846.3 1097.6 850.5 1096.0C854.7 1094.4 855.1 1094.8 858.0 1094.4C860.9 1094.0 861.8 1093.9 868.0 1093.5C874.2 1093.1 885.9 1092.5 895.3 1092.1C904.7 1091.6 914.9 1091.4 924.6 1090.8C934.4 1090.2 944.1 1088.8 953.8 1088.2C963.5 1087.6 972.0 1087.3 983.0 1086.9C994.0 1086.5 1007.1 1086.1 1020.0 1085.8C1032.9 1085.5 1050.3 1085.7 1060.3 1085.2C1070.3 1084.7 1073.6 1083.7 1080.0 1083.0C1086.4 1082.3 1090.0 1081.2 1098.5 1081.1C1107.0 1081.0 1117.0 1082.4 1130.7 1082.5C1144.5 1082.6 1165.9 1081.2 1181.0 1081.5C1196.1 1081.8 1206.2 1083.5 1221.3 1084.2C1236.4 1084.9 1254.0 1085.5 1271.6 1085.8C1289.2 1086.1 1317.8 1086.1 1327.0 1086.2" fill="none" stroke="#000" stroke-width="5.6" stroke-linejoin="round" stroke-linecap="butt"/>
<path d="M763.5 1300.9C767.0 1300.9 779.0 1301.7 784.5 1300.9C790.0 1300.2 791.7 1298.5 796.2 1296.4C800.8 1294.4 805.9 1291.2 811.8 1288.6C817.6 1286.0 824.8 1283.0 831.3 1280.8C837.8 1278.6 844.3 1276.9 850.8 1275.6C857.3 1274.3 862.8 1273.4 870.3 1273.1C877.8 1272.8 886.5 1273.3 895.6 1273.6C904.7 1273.9 916.7 1274.8 924.8 1275.0C932.9 1275.2 937.8 1275.2 944.3 1275.0C950.8 1274.8 955.7 1274.7 963.8 1273.6C971.9 1272.5 982.0 1270.0 993.0 1268.2C1004.0 1266.4 1019.9 1264.6 1030.0 1263.0C1040.1 1261.4 1045.9 1259.3 1053.4 1258.4C1060.9 1257.5 1066.4 1257.1 1074.8 1257.5C1083.2 1257.9 1093.6 1259.9 1104.0 1260.8C1114.4 1261.7 1126.7 1262.0 1137.1 1262.7C1147.5 1263.5 1158.3 1264.7 1166.4 1265.3C1174.5 1265.9 1179.3 1266.5 1185.8 1266.2C1192.3 1265.9 1195.5 1265.9 1205.3 1263.3C1215.0 1260.7 1232.9 1254.0 1244.3 1250.6C1255.7 1247.2 1263.8 1245.5 1273.5 1242.9C1283.2 1240.3 1293.8 1236.7 1302.7 1235.1C1311.6 1233.5 1323.0 1233.4 1327.0 1233.1" fill="none" stroke="#000" stroke-width="5.6" stroke-linejoin="round" stroke-linecap="butt"/>
<path d="M741.4 1068.0L741.4 1087.3L752.7 1087.3L752.7 1173.0L763.7 1173.0L763.7 1312.0L774.4 1312.0L774.4 1384.3L785.1 1384.3L785.1 1420.3L795.7 1420.3L795.7 1522.8L807.0 1522.8L807.0 1557.1L860.7 1557.1L860.7 1591.5L882.7 1591.5L882.7 1616.0" fill="none" stroke="#000" stroke-width="2.8" stroke-linejoin="round"/>
</g>
<rect x="178.0" y="1068.0" width="1149.0" height="548.0" fill="none" stroke="#000" stroke-width="2.2"/>
<rect x="178.0" y="1849.0" width="1149.0" height="548.0" fill="#808080"/>
<g clip-path="url(#clip2)">
<g filter="url(#hb)"><rect x="726" y="1849" width="7" height="548" fill="url(#g2_0)"/><rect x="732" y="1849" width="7" height="548" fill="url(#g2_1)"/><rect x="738" y="1849" width="7" height="548" fill="url(#g2_2)"/><rect x="744" y="1849" width="7" height="548" fill="url(#g2_3)"/><rect x="750" y="1849" width="7" height="548" fill="url(#g2_4)"/><rect x="756" y="1849" width="7" height="548" fill="url(#g2_5)"/><rect x="762" y="1849" width="7" height="548" fill="url(#g2_6)"/><rect x="768" y="1849" width="7" height="548" fill="url(#g2_7)"/><rect x="774" y="1849" width="7" height="548" fill="url(#g2_8)"/><rect x="780" y="1849" width="7" height="548" fill="url(#g2_9)"/><rect x="786" y="1849" width="7" height="548" fill="url(#g2_10)"/><rect x="792" y="1849" width="7" height="548" fill="url(#g2_11)"/><rect x="798" y="1849" width="7" height="548" fill="url(#g2_12)"/><rect x="804" y="1849" width="7" height="548" fill="url(#g2_13)"/><rect x="810" y="1849" width="7" height="548" fill="url(#g2_14)"/><rect x="816" y="1849" width="7" height="548" fill="url(#g2_15)"/><rect x="822" y="1849" width="7" height="548" fill="url(#g2_16)"/><rect x="828" y="1849" width="7" height="548" fill="url(#g2_17)"/><rect x="834" y="1849" width="7" height="548" fill="url(#g2_18)"/><rect x="840" y="1849" width="7" height="548" fill="url(#g2_19)"/><rect x="846" y="1849" width="7" height="548" fill="url(#g2_20)"/><rect x="852" y="1849" width="7" height="548" fill="url(#g2_21)"/><rect x="858" y="1849" width="7" height="548" fill="url(#g2_22)"/><rect x="864" y="1849" width="7" height="548" fill="url(#g2_23)"/><rect x="870" y="1849" width="7" height="548" fill="url(#g2_24)"/><rect x="876" y="1849" width="7" height="548" fill="url(#g2_25)"/><rect x="882" y="1849" width="7" height="548" fill="url(#g2_26)"/><rect x="888" y="1849" width="7" height="548" fill="url(#g2_27)"/><rect x="894" y="1849" width="7" height="548" fill="url(#g2_28)"/><rect x="900" y="1849" width="7" height="548" fill="url(#g2_29)"/><rect x="906" y="1849" width="7" height="548" fill="url(#g2_30)"/><rect x="912" y="1849" width="7" height="548" fill="url(#g2_31)"/><rect x="918" y="1849" width="7" height="548" fill="url(#g2_32)"/><rect x="924" y="1849" width="7" height="548" fill="url(#g2_33)"/><rect x="930" y="1849" width="7" height="548" fill="url(#g2_34)"/><rect x="936" y="1849" width="7" height="548" fill="url(#g2_35)"/><rect x="942" y="1849" width="7" height="548" fill="url(#g2_36)"/><rect x="948" y="1849" width="7" height="548" fill="url(#g2_37)"/><rect x="954" y="1849" width="7" height="548" fill="url(#g2_38)"/><rect x="960" y="1849" width="7" height="548" fill="url(#g2_39)"/><rect x="966" y="1849" width="7" height="548" fill="url(#g2_40)"/><rect x="972" y="1849" width="7" height="548" fill="url(#g2_41)"/><rect x="978" y="1849" width="7" height="548" fill="url(#g2_42)"/><rect x="984" y="1849" width="7" height="548" fill="url(#g2_43)"/><rect x="990" y="1849" width="7" height="548" fill="url(#g2_44)"/><rect x="996" y="1849" width="7" height="548" fill="url(#g2_45)"/><rect x="1002" y="1849" width="7" height="548" fill="url(#g2_46)"/><rect x="1008" y="1849" width="7" height="548" fill="url(#g2_47)"/><rect x="1014" y="1849" width="7" height="548" fill="url(#g2_48)"/><rect x="1020" y="1849" width="7" height="548" fill="url(#g2_49)"/><rect x="1026" y="1849" width="7" height="548" fill="url(#g2_50)"/><rect x="1032" y="1849" width="7" height="548" fill="url(#g2_51)"/><rect x="1038" y="1849" width="7" height="548" fill="url(#g2_52)"/><rect x="1044" y="1849" width="7" height="548" fill="url(#g2_53)"/><rect x="1050" y="1849" width="7" height="548" fill="url(#g2_54)"/><rect x="1056" y="1849" width="7" height="548" fill="url(#g2_55)"/><rect x="1062" y="1849" width="7" height="548" fill="url(#g2_56)"/><rect x="1068" y="1849" width="7" height="548" fill="url(#g2_57)"/><rect x="1074" y="1849" width="7" height="548" fill="url(#g2_58)"/><rect x="1080" y="1849" width="7" height="548" fill="url(#g2_59)"/><rect x="1086" y="1849" width="7" height="548" fill="url(#g2_60)"/><rect x="1092" y="1849" width="7" height="548" fill="url(#g2_61)"/><rect x="1098" y="1849" width="7" height="548" fill="url(#g2_62)"/><rect x="1104" y="1849" width="7" height="548" fill="url(#g2_63)"/><rect x="1110" y="1849" width="7" height="548" fill="url(#g2_64)"/><rect x="1116" y="1849" width="7" height="548" fill="url(#g2_65)"/><rect x="1122" y="1849" width="7" height="548" fill="url(#g2_66)"/><rect x="1128" y="1849" width="7" height="548" fill="url(#g2_67)"/><rect x="1134" y="1849" width="7" height="548" fill="url(#g2_68)"/><rect x="1140" y="1849" width="7" height="548" fill="url(#g2_69)"/><rect x="1146" y="1849" width="7" height="548" fill="url(#g2_70)"/><rect x="1152" y="1849" width="7" height="548" fill="url(#g2_71)"/><rect x="1158" y="1849" width="7" height="548" fill="url(#g2_72)"/><rect x="1164" y="1849" width="7" height="548" fill="url(#g2_73)"/><rect x="1170" y="1849" width="7" height="548" fill="url(#g2_74)"/><rect x="1176" y="1849" width="7" height="548" fill="url(#g2_75)"/><rect x="1182" y="1849" width="7" height="548" fill="url(#g2_76)"/><rect x="1188" y="1849" width="7" height="548" fill="url(#g2_77)"/><rect x="1194" y="1849" width="7" height="548" fill="url(#g2_78)"/><rect x="1200" y="1849" width="7" height="548" fill="url(#g2_79)"/><rect x="1206" y="1849" width="7" height="548" fill="url(#g2_80)"/><rect x="1212" y="1849" width="7" height="548" fill="url(#g2_81)"/><rect x="1218" y="1849" width="7" height="548" fill="url(#g2_82)"/><rect x="1224" y="1849" width="7" height="548" fill="url(#g2_83)"/><rect x="1230" y="1849" width="7" height="548" fill="url(#g2_84)"/><rect x="1236" y="1849" width="7" height="548" fill="url(#g2_85)"/><rect x="1242" y="1849" width="7" height="548" fill="url(#g2_86)"/><rect x="1248" y="1849" width="7" height="548" fill="url(#g2_87)"/><rect x="1254" y="1849" width="7" height="548" fill="url(#g2_88)"/><rect x="1260" y="1849" width="7" height="548" fill="url(#g2_89)"/><rect x="1266" y="1849" width="7" height="548" fill="url(#g2_90)"/><rect x="1272" y="1849" width="7" height="548" fill="url(#g2_91)"/><rect x="1278" y="1849" width="7" height="548" fill="url(#g2_92)"/><rect x="1284" y="1849" width="7" height="548" fill="url(#g2_93)"/><rect x="1290" y="1849" width="7" height="548" fill="url(#g2_94)"/><rect x="1296" y="1849" width="7" height="548" fill="url(#g2_95)"/><rect x="1302" y="1849" width="7" height="548" fill="url(#g2_96)"/><rect x="1308" y="1849" width="7" height="548" fill="url(#g2_97)"/><rect x="1314" y="1849" width="7" height="548" fill="url(#g2_98)"/><rect x="1320" y="1849" width="7" height="548" fill="url(#g2_99)"/><rect x="1326" y="1849" width="7" height="548" fill="url(#g2_100)"/><rect x="1332" y="1849" width="7" height="548" fill="url(#g2_101)"/><rect x="1338" y="1849" width="7" height="548" fill="url(#g2_102)"/><rect x="1344" y="1849" width="2" height="548" fill="url(#g2_103)"/></g>
<path d="M178.0 1849.0L749.6 1849.0L749.6 1869.3L752.2 1869.3L752.2 1954.9L763.5 1954.9L763.5 2093.0L774.4 2093.0L774.4 2139.4L776.8 2139.4L776.8 2166.0L785.2 2166.0L785.2 2201.2L795.7 2201.2L795.7 2304.0L807.0 2304.0L807.0 2337.1L810.0 2337.0L812.6 2335.4L819.4 2337.9L860.7 2337.9L860.7 2372.0L882.7 2372.0L882.7 2397.0L178.0 2397.0Z" fill="#808080"/>
<path d="M892 1869.5L915 1866 940 1865.4 1002 1865.6 985 1868 960 1869.5 920 1870.5Z" fill="#c83a2c"/>
<path d="M810.8 1861.5L814.0 1857.5L822.0 1856.3L885.5 1856.3L890.0 1858.5L940.0 1857.6L985.5 1857.4L1000.0 1857.8L1031.0 1857.6L1031.0 1849.0L1327.0 1849.0L1327.0 1870.2L1250.0 1869.6L1140.0 1869.2L1090.0 1868.0L1077.0 1866.3L1031.0 1866.2L1018.0 1869.3L979.0 1872.5L940.0 1875.0L915.3 1873.8L889.4 1871.2L860.8 1869.8L830.9 1871.0L805.0 1872.3Z" fill="#000"/>
<path d="M893 1869.6L925 1866.2 940 1865.4 972 1866.6 1003 1865.5 1003 1867.2 975 1868.6 940 1870 910 1870.3Z" fill="#c8372b"/>
<path d="M930 1871.3L960 1868.5 1003 1867 1018 1867.5 1018 1869.3 979 1872.5 940 1875 915 1873.8Z" fill="#000"/>
<path d="M763.5 1850.5L770 1855.2 846 1855.2 850 1852.5 850 1849 763.5 1849Z" fill="#000"/>
<path d="M940 1849L940 1851.4 985.5 1851.6 988 1855 1000 1856.6 1031 1857 1031 1849Z" fill="#000"/>
<path d="M925 1864.9L945 1864.5 968 1864.8" stroke="#000" stroke-width="4" stroke-linecap="round" fill="none"/>
<path d="M864 1868.2L888 1868.6" stroke="#000" stroke-width="6" stroke-linecap="round" fill="none"/>
<path d="M1193 1852.2L1301 1852.2 1301 1853.6 1250 1854.2 1193 1853.8Z" fill="#efe4e2"/>
<path d="M752.2 1911.1C752.9 1910.2 758.4 1903.5 759.5 1901.7C760.6 1899.9 762.1 1894.1 763.4 1892.6C764.7 1891.1 770.9 1887.5 772.5 1886.8C774.1 1886.1 777.5 1885.5 779.0 1885.5C780.5 1885.5 786.3 1886.8 788.0 1886.8C789.7 1886.8 794.2 1885.6 795.8 1885.5C797.4 1885.4 801.8 1886.4 803.6 1886.2C805.4 1886.0 811.9 1883.7 814.0 1883.6C816.1 1883.5 822.4 1884.9 824.4 1885.5C826.4 1886.1 832.4 1889.7 834.2 1889.4C836.0 1889.1 841.0 1883.3 842.6 1882.3C844.2 1881.3 848.7 1879.4 850.4 1879.0C852.1 1878.6 857.5 1878.3 859.5 1878.4C861.5 1878.5 867.8 1879.2 869.9 1879.7C872.0 1880.2 878.0 1882.1 880.3 1882.9C882.6 1883.7 890.5 1886.7 893.2 1887.5C895.9 1888.3 905.6 1890.8 907.5 1891.4C909.4 1892.1 911.9 1893.4 911.8 1894.0C911.7 1894.6 908.8 1895.9 906.2 1897.0C903.6 1898.1 889.0 1903.6 885.8 1905.3C882.6 1907.0 876.3 1912.0 874.2 1914.0C872.1 1916.0 865.8 1923.5 864.4 1925.7C863.0 1927.9 859.1 1934.6 860.5 1936.4C861.9 1938.2 874.7 1941.9 878.0 1943.3C881.3 1944.7 889.9 1949.7 893.6 1950.1C897.3 1950.5 910.0 1948.1 915.1 1947.1C920.2 1946.1 938.8 1941.7 944.3 1940.3C949.8 1938.9 965.3 1933.8 969.6 1933.1C973.9 1932.4 984.6 1934.2 987.1 1933.1C989.6 1932.0 993.5 1924.7 994.9 1921.8C996.3 1918.9 1000.0 1907.0 1000.8 1904.3C1001.6 1901.6 1001.8 1896.2 1002.7 1894.5C1003.6 1892.8 1007.9 1888.7 1010.1 1887.5C1012.3 1886.3 1021.0 1883.6 1024.4 1882.9C1027.8 1882.2 1040.7 1881.5 1043.9 1881.0C1047.2 1880.5 1054.7 1879.2 1056.9 1878.4C1059.1 1877.6 1064.3 1874.1 1066.0 1873.2C1067.7 1872.3 1072.7 1870.0 1073.8 1869.3C1074.9 1868.6 1076.7 1866.3 1077.0 1866.0" fill="none" stroke="#000" stroke-width="5.6" stroke-linejoin="round" stroke-linecap="butt"/>
<path d="M803.0 1918.9C804.7 1917.3 814.6 1917.2 817.7 1915.6C820.8 1914.0 831.3 1902.9 834.2 1903.3C837.1 1903.7 844.6 1917.3 846.9 1919.9C849.2 1922.5 857.6 1928.3 857.6 1929.6C857.6 1930.9 849.9 1931.6 846.9 1932.5C843.9 1933.4 830.9 1937.5 827.4 1938.4C823.9 1939.3 814.2 1940.5 811.8 1941.3C809.4 1942.1 804.1 1947.2 803.0 1946.2C801.9 1945.2 800.5 1934.3 800.5 1931.6C800.5 1928.9 801.3 1920.5 803.0 1918.9Z" fill="none" stroke="#000" stroke-width="5.6" stroke-linejoin="round" stroke-linecap="butt"/>
<path d="M763.5 1996.8C764.7 1995.8 773.5 1986.1 775.8 1987.1C778.1 1988.1 783.3 2003.4 786.5 2006.6C789.7 2009.8 804.8 2016.6 807.9 2019.2C811.0 2021.8 815.9 2030.8 817.7 2032.9C819.5 2035.0 824.5 2038.3 825.5 2040.0C826.5 2041.7 826.6 2047.5 827.4 2049.7C828.2 2051.9 832.3 2061.0 833.3 2062.4C834.3 2063.8 836.0 2064.3 837.2 2063.4C838.4 2062.5 843.6 2055.8 844.9 2053.6C846.2 2051.4 848.0 2043.4 849.8 2041.9C851.6 2040.4 859.9 2039.0 862.5 2039.0C865.1 2039.0 874.0 2041.2 876.1 2041.9C878.2 2042.6 881.9 2045.4 883.9 2045.8C885.9 2046.2 892.9 2046.1 895.6 2045.8C898.3 2045.5 908.5 2043.1 911.2 2042.9C913.9 2042.8 921.6 2042.1 922.9 2044.3C924.2 2046.5 923.0 2061.1 924.4 2064.4C925.8 2067.7 934.1 2074.3 936.5 2077.0C938.9 2079.7 948.4 2087.3 948.2 2091.6C948.0 2095.8 935.0 2115.7 934.6 2119.5C934.2 2123.3 942.2 2127.5 944.3 2129.6C946.4 2131.7 953.5 2138.5 956.0 2140.3C958.5 2142.2 967.3 2146.3 969.6 2148.1C971.9 2149.9 977.4 2156.2 979.4 2157.9C981.4 2159.6 986.8 2164.4 989.1 2164.7C991.4 2165.0 999.6 2161.7 1002.7 2160.8C1005.8 2159.9 1017.6 2155.8 1020.3 2155.3C1023.0 2154.8 1027.5 2156.1 1030.0 2156.2C1032.5 2156.3 1043.0 2156.3 1045.6 2156.5C1048.2 2156.7 1054.2 2158.0 1056.3 2157.9C1058.4 2157.8 1064.6 2157.0 1067.0 2155.9C1069.4 2154.8 1078.4 2148.8 1080.7 2147.1C1083.0 2145.3 1088.8 2140.2 1090.4 2138.4C1092.1 2136.7 1096.3 2131.5 1097.2 2129.6C1098.1 2127.7 1098.4 2121.2 1099.2 2118.9C1100.0 2116.6 1104.0 2108.7 1105.0 2106.2C1106.0 2103.7 1108.8 2095.7 1108.9 2093.6C1109.0 2091.5 1106.6 2087.6 1106.0 2084.8C1105.4 2082.0 1102.9 2067.8 1102.5 2065.3C1102.1 2062.8 1102.6 2062.0 1102.1 2059.5C1101.6 2057.0 1097.7 2042.9 1097.2 2040.0C1096.7 2037.1 1096.7 2033.4 1097.2 2030.9C1097.7 2028.4 1100.6 2018.2 1102.1 2015.3C1103.6 2012.4 1109.3 2004.4 1111.8 2001.7C1114.3 1999.0 1123.5 1991.0 1127.4 1988.1C1131.3 1985.2 1146.9 1975.4 1150.8 1972.5C1154.7 1969.6 1162.9 1961.5 1166.4 1958.8C1169.9 1956.1 1182.9 1946.8 1185.8 1945.2C1188.7 1943.7 1193.3 1943.2 1195.6 1943.3C1197.9 1943.4 1206.3 1945.2 1209.2 1946.2C1212.1 1947.2 1221.7 1951.4 1224.8 1953.0C1227.9 1954.6 1237.3 1960.3 1240.4 1961.8C1243.5 1963.3 1252.7 1965.8 1256.0 1967.6C1259.3 1969.4 1270.0 1976.9 1273.5 1980.3C1277.0 1983.7 1288.2 1997.6 1291.0 2001.7C1293.8 2005.8 1300.3 2017.4 1301.8 2021.2C1303.3 2025.0 1305.6 2036.2 1305.7 2040.0C1305.8 2043.8 1303.2 2056.6 1302.7 2059.5C1302.2 2062.4 1301.9 2065.8 1300.8 2069.2C1299.7 2072.6 1292.7 2087.6 1292.0 2093.6C1291.3 2099.6 1292.9 2124.4 1294.0 2129.6C1295.1 2134.8 1300.5 2141.5 1302.7 2145.2C1304.9 2148.9 1314.0 2163.8 1316.4 2166.6C1318.8 2169.4 1325.9 2172.7 1327.0 2173.4" fill="none" stroke="#000" stroke-width="5.6" stroke-linejoin="round" stroke-linecap="butt"/>
<path d="M752.3 1872.5C754.3 1872.4 769.4 1871.8 772.5 1871.2C775.6 1870.6 780.7 1867.4 782.9 1866.7C785.1 1866.0 791.7 1864.6 794.5 1864.1C797.3 1863.6 809.2 1861.8 810.8 1861.5" fill="none" stroke="#000" stroke-width="5.6" stroke-linejoin="round" stroke-linecap="butt"/>
<path d="M753.6 1881.0C755.5 1880.8 770.0 1879.6 772.5 1879.0C775.0 1878.4 777.3 1875.9 779.0 1875.1C780.7 1874.3 786.8 1871.7 789.4 1871.2C792.0 1870.7 800.9 1870.2 805.0 1869.9C809.1 1869.6 825.3 1868.9 830.9 1868.6C836.5 1868.3 857.8 1867.4 860.8 1867.3" fill="none" stroke="#000" stroke-width="5.6" stroke-linejoin="round" stroke-linecap="butt"/>
<path d="M759.5 1901.7C760.0 1900.8 762.9 1894.6 764.0 1893.0C765.1 1891.4 769.5 1887.5 771.0 1886.0C772.5 1884.5 777.5 1879.3 779.0 1878.0C780.5 1876.7 785.3 1873.5 786.0 1873.0" fill="none" stroke="#000" stroke-width="5.6" stroke-linejoin="round" stroke-linecap="butt"/>
<path d="M749.6 1849.0L749.6 1869.3L752.2 1869.3L752.2 1954.9L763.5 1954.9L763.5 2093.0L774.4 2093.0L774.4 2139.4L776.8 2139.4L776.8 2166.0L785.2 2166.0L785.2 2201.2L795.7 2201.2L795.7 2304.0L807.0 2304.0L807.0 2337.1L810.0 2337.0L812.6 2335.4L819.4 2337.9L860.7 2337.9L860.7 2372.0L882.7 2372.0L882.7 2397.0" fill="none" stroke="#000" stroke-width="2.8" stroke-linejoin="round"/>
</g>
<rect x="178.0" y="1849.0" width="1149.0" height="548.0" fill="none" stroke="#000" stroke-width="2.2"/>
<rect x="1399.0" y="287.0" width="61.0" height="548.0" fill="url(#cb0)" stroke="#000" stroke-width="2.2"/>
<rect x="1399.0" y="1068.0" width="61.0" height="548.0" fill="url(#cb1)" stroke="#000" stroke-width="2.2"/>
<rect x="1399.0" y="1849.0" width="61.0" height="548.0" fill="url(#cb2)" stroke="#000" stroke-width="2.2"/>
<path d="M178.0 835.0L178.0 845.2M324.3 835.0L324.3 845.2M470.6 835.0L470.6 845.2M616.9 835.0L616.9 845.2M763.1 835.0L763.1 845.2M909.4 835.0L909.4 845.2M1055.7 835.0L1055.7 845.2M1202.0 835.0L1202.0 845.2M167.8 287.0L178.0 287.0M167.8 355.5L178.0 355.5M167.8 424.0L178.0 424.0M167.8 492.5L178.0 492.5M167.8 561.0L178.0 561.0M167.8 629.5L178.0 629.5M167.8 698.0L178.0 698.0M167.8 766.5L178.0 766.5M167.8 835.0L178.0 835.0M1460.0 835.0L1470.2 835.0M1460.0 743.7L1470.2 743.7M1460.0 652.3L1470.2 652.3M1460.0 561.0L1470.2 561.0M1460.0 469.7L1470.2 469.7M1460.0 378.3L1470.2 378.3M1460.0 287.0L1470.2 287.0M178.0 1616.0L178.0 1626.2M324.3 1616.0L324.3 1626.2M470.6 1616.0L470.6 1626.2M616.9 1616.0L616.9 1626.2M763.1 1616.0L763.1 1626.2M909.4 1616.0L909.4 1626.2M1055.7 1616.0L1055.7 1626.2M1202.0 1616.0L1202.0 1626.2M167.8 1068.0L178.0 1068.0M167.8 1136.5L178.0 1136.5M167.8 1205.0L178.0 1205.0M167.8 1273.5L178.0 1273.5M167.8 1342.0L178.0 1342.0M167.8 1410.5L178.0 1410.5M167.8 1479.0L178.0 1479.0M167.8 1547.5L178.0 1547.5M167.8 1616.0L178.0 1616.0M1460.0 1616.0L1470.2 1616.0M1460.0 1524.7L1470.2 1524.7M1460.0 1433.3L1470.2 1433.3M1460.0 1342.0L1470.2 1342.0M1460.0 1250.7L1470.2 1250.7M1460.0 1159.3L1470.2 1159.3M1460.0 1068.0L1470.2 1068.0M178.0 2397.0L178.0 2407.2M324.3 2397.0L324.3 2407.2M470.6 2397.0L470.6 2407.2M616.9 2397.0L616.9 2407.2M763.1 2397.0L763.1 2407.2M909.4 2397.0L909.4 2407.2M1055.7 2397.0L1055.7 2407.2M1202.0 2397.0L1202.0 2407.2M167.8 1849.0L178.0 1849.0M167.8 1917.5L178.0 1917.5M167.8 1986.0L178.0 1986.0M167.8 2054.5L178.0 2054.5M167.8 2123.0L178.0 2123.0M167.8 2191.5L178.0 2191.5M167.8 2260.0L178.0 2260.0M167.8 2328.5L178.0 2328.5M167.8 2397.0L178.0 2397.0M1460.0 2397.0L1470.2 2397.0M1460.0 2328.5L1470.2 2328.5M1460.0 2260.0L1470.2 2260.0M1460.0 2191.5L1470.2 2191.5M1460.0 2123.0L1470.2 2123.0M1460.0 2054.5L1470.2 2054.5M1460.0 1986.0L1470.2 1986.0M1460.0 1917.5L1470.2 1917.5M1460.0 1849.0L1470.2 1849.0" stroke="#000" stroke-width="2.2" fill="none"/>
<g font-family="'Liberation Sans', sans-serif" fill="#000" stroke="#000" stroke-width="0.3" opacity="0.999" style="text-rendering:geometricPrecision"><text transform="translate(369.28,65.70) scale(1.1192,1)" font-size="58.06">Temperature</text>
<text transform="translate(751.04,65.70) scale(1.1764,1)" font-size="58.06">at</text>
<text transform="translate(825.26,65.70) scale(1.0986,1)" font-size="58.06">30.0°</text>
<text transform="translate(992.73,65.70) scale(1.0896,1)" font-size="58.06">Longitude</text>
<text transform="translate(483.97,129.80) scale(1.0134,1)" font-size="58.06">(ANN,</text>
<text transform="translate(664.50,129.80) scale(1.0457,1)" font-size="58.06">years</text>
<text transform="translate(831.56,129.80) scale(1.0933,1)" font-size="58.06">0001-0050)</text>
<text transform="translate(136.95,239.20) scale(1.0836,1)" font-size="47.11">20180613.</text>
<text transform="translate(379.01,239.20) scale(1.0340,1)" font-size="47.11">testGM600noSS.</text>
<text transform="translate(750.59,239.20) scale(0.9422,1)" font-size="47.11">GMPAS-IAF.</text>
<text transform="translate(1000.12,239.20) scale(1.0426,1)" font-size="47.11">oEC60to30.</text>
<text transform="translate(1260.36,239.20) scale(1.0942,1)" font-size="47.11">anvil</text>
<text transform="translate(503.23,1020.20) scale(1.0808,1)" font-size="46.67">State</text>
<text transform="translate(635.49,1020.20) scale(1.0890,1)" font-size="46.67">Estimate</text>
<text transform="translate(848.53,1020.20) scale(0.9530,1)" font-size="46.67">(SOSE)</text>
<text transform="translate(496.47,1801.20) scale(1.0488,1)" font-size="46.67">Model</text>
<text transform="translate(645.21,1801.20) scale(1.0254,1)" font-size="46.67">-</text>
<text transform="translate(676.09,1801.20) scale(1.0816,1)" font-size="46.67">State</text>
<text transform="translate(808.45,1801.20) scale(1.0898,1)" font-size="46.67">Estimate</text>
<text transform="translate(170.14,877.30) scale(1.0105,1)" font-size="29.03">0</text>
<text transform="translate(298.45,877.30) scale(1.0720,1)" font-size="29.03">250</text>
<text transform="translate(445.10,877.30) scale(1.0633,1)" font-size="29.03">500</text>
<text transform="translate(591.17,877.30) scale(1.0660,1)" font-size="29.03">750</text>
<text transform="translate(728.13,877.30) scale(1.0749,1)" font-size="29.03">1000</text>
<text transform="translate(874.42,877.30) scale(1.0749,1)" font-size="29.03">1250</text>
<text transform="translate(1020.71,877.30) scale(1.0749,1)" font-size="29.03">1500</text>
<text transform="translate(1166.99,877.30) scale(1.0749,1)" font-size="29.03">1750</text>
<text transform="translate(142.05,298.30) scale(1.0105,1)" font-size="29.03">0</text>
<text transform="translate(83.93,366.80) scale(1.2322,1)" font-size="29.03" stroke-width="0.7">−</text>
<text transform="translate(106.93,366.80) scale(1.0633,1)" font-size="29.03">500</text>
<text transform="translate(66.24,435.30) scale(1.2322,1)" font-size="29.03" stroke-width="0.7">−</text>
<text transform="translate(89.01,435.30) scale(1.0749,1)" font-size="29.03">1000</text>
<text transform="translate(66.24,503.80) scale(1.2322,1)" font-size="29.03" stroke-width="0.7">−</text>
<text transform="translate(89.01,503.80) scale(1.0749,1)" font-size="29.03">1500</text>
<text transform="translate(66.24,572.30) scale(1.2322,1)" font-size="29.03" stroke-width="0.7">−</text>
<text transform="translate(88.82,572.30) scale(1.0779,1)" font-size="29.03">2000</text>
<text transform="translate(66.24,640.80) scale(1.2322,1)" font-size="29.03" stroke-width="0.7">−</text>
<text transform="translate(88.82,640.80) scale(1.0779,1)" font-size="29.03">2500</text>
<text transform="translate(66.24,709.30) scale(1.2322,1)" font-size="29.03" stroke-width="0.7">−</text>
<text transform="translate(89.34,709.30) scale(1.0697,1)" font-size="29.03">3000</text>
<text transform="translate(66.24,777.80) scale(1.2322,1)" font-size="29.03" stroke-width="0.7">−</text>
<text transform="translate(89.34,777.80) scale(1.0697,1)" font-size="29.03">3500</text>
<text transform="translate(66.24,846.30) scale(1.2322,1)" font-size="29.03" stroke-width="0.7">−</text>
<text transform="translate(89.01,846.30) scale(1.0749,1)" font-size="29.03">4000</text>
<text transform="translate(634.47,920.60) scale(1.0721,1)" font-size="35.00">Distance</text>
<text transform="translate(791.20,920.60) scale(1.1814,1)" font-size="35.00">[km]</text>
<text transform="translate(45.20,562.30) rotate(-90) translate(-85.67,0.00) scale(1.0871,1)" font-size="35.00">Depth</text>
<text transform="translate(45.20,562.30) rotate(-90) translate(26.70,0.00) scale(1.2111,1)" font-size="35.00">[m]</text>
<text transform="translate(1479.63,846.30) scale(1.0105,1)" font-size="29.03">0</text>
<text transform="translate(1478.65,754.97) scale(0.9644,1)" font-size="29.03">1</text>
<text transform="translate(1479.39,663.63) scale(0.9709,1)" font-size="29.03">2</text>
<text transform="translate(1479.77,572.30) scale(0.9636,1)" font-size="29.03">3</text>
<text transform="translate(1480.12,480.97) scale(1.0076,1)" font-size="29.03">4</text>
<text transform="translate(1479.69,389.63) scale(0.9569,1)" font-size="29.03">5</text>
<text transform="translate(1479.29,298.30) scale(1.0396,1)" font-size="29.03">6</text>
<text transform="translate(1529.40,562.20) rotate(-90) translate(-15.87,0.00) scale(0.9561,1)" font-size="29.03">°C</text>
<text transform="translate(170.14,1658.30) scale(1.0105,1)" font-size="29.03">0</text>
<text transform="translate(298.45,1658.30) scale(1.0720,1)" font-size="29.03">250</text>
<text transform="translate(445.10,1658.30) scale(1.0633,1)" font-size="29.03">500</text>
<text transform="translate(591.17,1658.30) scale(1.0660,1)" font-size="29.03">750</text>
<text transform="translate(728.13,1658.30) scale(1.0749,1)" font-size="29.03">1000</text>
<text transform="translate(874.42,1658.30) scale(1.0749,1)" font-size="29.03">1250</text>
<text transform="translate(1020.71,1658.30) scale(1.0749,1)" font-size="29.03">1500</text>
<text transform="translate(1166.99,1658.30) scale(1.0749,1)" font-size="29.03">1750</text>
<text transform="translate(142.05,1079.30) scale(1.0105,1)" font-size="29.03">0</text>
<text transform="translate(83.93,1147.80) scale(1.2322,1)" font-size="29.03" stroke-width="0.7">−</text>
<text transform="translate(106.93,1147.80) scale(1.0633,1)" font-size="29.03">500</text>
<text transform="translate(66.24,1216.30) scale(1.2322,1)" font-size="29.03" stroke-width="0.7">−</text>
<text transform="translate(89.01,1216.30) scale(1.0749,1)" font-size="29.03">1000</text>
<text transform="translate(66.24,1284.80) scale(1.2322,1)" font-size="29.03" stroke-width="0.7">−</text>
<text transform="translate(89.01,1284.80) scale(1.0749,1)" font-size="29.03">1500</text>
<text transform="translate(66.24,1353.30) scale(1.2322,1)" font-size="29.03" stroke-width="0.7">−</text>
<text transform="translate(88.82,1353.30) scale(1.0779,1)" font-size="29.03">2000</text>
<text transform="translate(66.24,1421.80) scale(1.2322,1)" font-size="29.03" stroke-width="0.7">−</text>
<text transform="translate(88.82,1421.80) scale(1.0779,1)" font-size="29.03">2500</text>
<text transform="translate(66.24,1490.30) scale(1.2322,1)" font-size="29.03" stroke-width="0.7">−</text>
<text transform="translate(89.34,1490.30) scale(1.0697,1)" font-size="29.03">3000</text>
<text transform="translate(66.24,1558.80) scale(1.2322,1)" font-size="29.03" stroke-width="0.7">−</text>
<text transform="translate(89.34,1558.80) scale(1.0697,1)" font-size="29.03">3500</text>
<text transform="translate(66.24,1627.30) scale(1.2322,1)" font-size="29.03" stroke-width="0.7">−</text>
<text transform="translate(89.01,1627.30) scale(1.0749,1)" font-size="29.03">4000</text>
<text transform="translate(634.47,1701.60) scale(1.0721,1)" font-size="35.00">Distance</text>
<text transform="translate(791.20,1701.60) scale(1.1814,1)" font-size="35.00">[km]</text>
<text transform="translate(45.20,1343.30) rotate(-90) translate(-85.67,0.00) scale(1.0871,1)" font-size="35.00">Depth</text>
<text transform="translate(45.20,1343.30) rotate(-90) translate(26.70,0.00) scale(1.2111,1)" font-size="35.00">[m]</text>
<text transform="translate(1479.63,1627.30) scale(1.0105,1)" font-size="29.03">0</text>
<text transform="translate(1478.65,1535.97) scale(0.9644,1)" font-size="29.03">1</text>
<text transform="translate(1479.39,1444.63) scale(0.9709,1)" font-size="29.03">2</text>
<text transform="translate(1479.77,1353.30) scale(0.9636,1)" font-size="29.03">3</text>
<text transform="translate(1480.12,1261.97) scale(1.0076,1)" font-size="29.03">4</text>
<text transform="translate(1479.69,1170.63) scale(0.9569,1)" font-size="29.03">5</text>
<text transform="translate(1479.29,1079.30) scale(1.0396,1)" font-size="29.03">6</text>
<text transform="translate(1529.40,1343.20) rotate(-90) translate(-15.87,0.00) scale(0.9561,1)" font-size="29.03">°C</text>
<text transform="translate(170.14,2439.30) scale(1.0105,1)" font-size="29.03">0</text>
<text transform="translate(298.45,2439.30) scale(1.0720,1)" font-size="29.03">250</text>
<text transform="translate(445.10,2439.30) scale(1.0633,1)" font-size="29.03">500</text>
<text transform="translate(591.17,2439.30) scale(1.0660,1)" font-size="29.03">750</text>
<text transform="translate(728.13,2439.30) scale(1.0749,1)" font-size="29.03">1000</text>
<text transform="translate(874.42,2439.30) scale(1.0749,1)" font-size="29.03">1250</text>
<text transform="translate(1020.71,2439.30) scale(1.0749,1)" font-size="29.03">1500</text>
<text transform="translate(1166.99,2439.30) scale(1.0749,1)" font-size="29.03">1750</text>
<text transform="translate(142.05,1860.30) scale(1.0105,1)" font-size="29.03">0</text>
<text transform="translate(83.93,1928.80) scale(1.2322,1)" font-size="29.03" stroke-width="0.7">−</text>
<text transform="translate(106.93,1928.80) scale(1.0633,1)" font-size="29.03">500</text>
<text transform="translate(66.24,1997.30) scale(1.2322,1)" font-size="29.03" stroke-width="0.7">−</text>
<text transform="translate(89.01,1997.30) scale(1.0749,1)" font-size="29.03">1000</text>
<text transform="translate(66.24,2065.80) scale(1.2322,1)" font-size="29.03" stroke-width="0.7">−</text>
<text transform="translate(89.01,2065.80) scale(1.0749,1)" font-size="29.03">1500</text>
<text transform="translate(66.24,2134.30) scale(1.2322,1)" font-size="29.03" stroke-width="0.7">−</text>
<text transform="translate(88.82,2134.30) scale(1.0779,1)" font-size="29.03">2000</text>
<text transform="translate(66.24,2202.80) scale(1.2322,1)" font-size="29.03" stroke-width="0.7">−</text>
<text transform="translate(88.82,2202.80) scale(1.0779,1)" font-size="29.03">2500</text>
<text transform="translate(66.24,2271.30) scale(1.2322,1)" font-size="29.03" stroke-width="0.7">−</text>
<text transform="translate(89.34,2271.30) scale(1.0697,1)" font-size="29.03">3000</text>
<text transform="translate(66.24,2339.80) scale(1.2322,1)" font-size="29.03" stroke-width="0.7">−</text>
<text transform="translate(89.34,2339.80) scale(1.0697,1)" font-size="29.03">3500</text>
<text transform="translate(66.24,2408.30) scale(1.2322,1)" font-size="29.03" stroke-width="0.7">−</text>
<text transform="translate(89.01,2408.30) scale(1.0749,1)" font-size="29.03">4000</text>
<text transform="translate(634.47,2482.60) scale(1.0721,1)" font-size="35.00">Distance</text>
<text transform="translate(791.20,2482.60) scale(1.1814,1)" font-size="35.00">[km]</text>
<text transform="translate(45.20,2124.30) rotate(-90) translate(-85.67,0.00) scale(1.0871,1)" font-size="35.00">Depth</text>
<text transform="translate(45.20,2124.30) rotate(-90) translate(26.70,0.00) scale(1.2111,1)" font-size="35.00">[m]</text>
<text transform="translate(1480.81,2408.30) scale(1.2322,1)" font-size="29.03" stroke-width="0.7">−</text>
<text transform="translate(1503.40,2408.30) scale(1.0674,1)" font-size="29.03">2.0</text>
<text transform="translate(1480.81,2339.80) scale(1.2322,1)" font-size="29.03" stroke-width="0.7">−</text>
<text transform="translate(1503.63,2339.80) scale(1.0499,1)" font-size="29.03">1.5</text>
<text transform="translate(1480.81,2271.30) scale(1.2322,1)" font-size="29.03" stroke-width="0.7">−</text>
<text transform="translate(1503.60,2271.30) scale(1.0622,1)" font-size="29.03">1.0</text>
<text transform="translate(1480.81,2202.80) scale(1.2322,1)" font-size="29.03" stroke-width="0.7">−</text>
<text transform="translate(1503.54,2202.80) scale(1.0521,1)" font-size="29.03">0.5</text>
<text transform="translate(1479.56,2134.30) scale(1.0641,1)" font-size="29.03">0.0</text>
<text transform="translate(1479.58,2065.80) scale(1.0521,1)" font-size="29.03">0.5</text>
<text transform="translate(1478.44,1997.30) scale(1.0622,1)" font-size="29.03">1.0</text>
<text transform="translate(1478.46,1928.80) scale(1.0499,1)" font-size="29.03">1.5</text>
<text transform="translate(1479.25,1860.30) scale(1.0674,1)" font-size="29.03">2.0</text>
<text transform="translate(1579.60,2124.00) rotate(-90) translate(-15.87,0.00) scale(0.9561,1)" font-size="29.03">°C</text></g></svg>
</body></html>
